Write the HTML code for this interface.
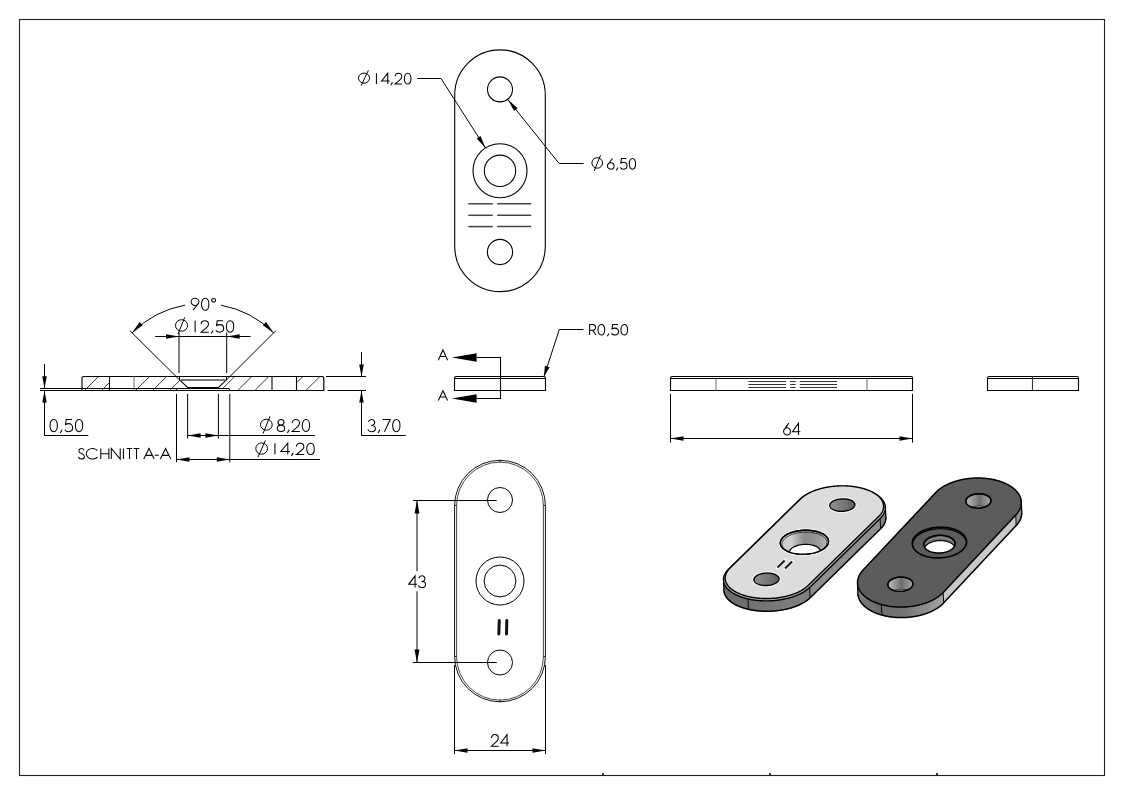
<!DOCTYPE html>
<html><head><meta charset="utf-8"><style>
html,body{margin:0;padding:0;background:#fff;width:1123px;height:794px;overflow:hidden}
svg{display:block;font-family:"Liberation Sans",sans-serif}
text{-webkit-font-smoothing:antialiased}
</style></head><body>
<svg width="1123" height="794" viewBox="0 0 1123 794">
<rect x="0" y="0" width="1123" height="794" fill="#fff"/>
<g style="will-change:transform">
<rect x="19.5" y="19.5" width="1085" height="756" fill="none" stroke="#222" stroke-width="1.1"/>
<rect x="602" y="773" width="2" height="2" fill="#333"/>
<rect x="769" y="773" width="2" height="2" fill="#333"/>
<rect x="936" y="773" width="2" height="2" fill="#333"/>
<path d="M454.7,95.1 A45.3,45.3 0 0 1 545.3,95.1 L545.3,246.4 A45.3,45.3 0 0 1 454.7,246.4 Z" fill="none" stroke="#000" stroke-width="1.1"/>
<circle cx="500" cy="89.4" r="12.5" fill="none" stroke="#000" stroke-width="1.1"/>
<circle cx="500" cy="170.8" r="27" fill="none" stroke="#000" stroke-width="1.1"/>
<circle cx="500" cy="170.8" r="15.7" fill="none" stroke="#000" stroke-width="1.1"/>
<circle cx="500" cy="252" r="12.6" fill="none" stroke="#000" stroke-width="1.1"/>
<line x1="468.3" y1="203.8" x2="492.8" y2="203.8" stroke="#444" stroke-width="1.5" />
<line x1="497.2" y1="203.8" x2="531.2" y2="203.8" stroke="#444" stroke-width="1.5" />
<line x1="468.3" y1="215.3" x2="492.8" y2="215.3" stroke="#444" stroke-width="1.5" />
<line x1="497.2" y1="215.3" x2="531.2" y2="215.3" stroke="#444" stroke-width="1.5" />
<line x1="468.3" y1="226.6" x2="492.8" y2="226.6" stroke="#444" stroke-width="1.5" />
<line x1="497.2" y1="226.6" x2="531.2" y2="226.6" stroke="#444" stroke-width="1.5" />
<polyline points="417,78.5 441,78.5 485.6,148.2" fill="none" stroke="#000" stroke-width="1.0" stroke-linejoin="miter"/>
<polygon points="485.6,148.2 476.72,138.45 480.51,136.03" fill="#000" stroke="none"/>
<polyline points="583.6,163.5 559.1,163.5 507.8,99.5" fill="none" stroke="#000" stroke-width="1.0" stroke-linejoin="miter"/>
<polygon points="507.8,99.5 517.69,108.23 514.18,111.05" fill="#000" stroke="none"/>
<ellipse cx="364" cy="78.12" rx="5.5" ry="5.08" fill="none" stroke="#000" stroke-width="1.0"/>
<line x1="368.4" y1="70.3" x2="361.1" y2="85.7" stroke="#000" stroke-width="1.0" />
<g transform="translate(374.868,73.325) scale(0.9732,0.8875)" fill="none" stroke="#000" stroke-width="1.05" stroke-linecap="butt" stroke-linejoin="miter"><g style="vector-effect:non-scaling-stroke"><path vector-effect="non-scaling-stroke" transform="translate(0,0)" d="M1.6,0 L1.6,12"/><path vector-effect="non-scaling-stroke" transform="translate(6.7,0)" d="M6.5,12 L6.5,0 L0.2,8.7 L8.5,8.7"/><path vector-effect="non-scaling-stroke" transform="translate(16,0)" d="M2.1,10.2 L0.4,13.4"/><path vector-effect="non-scaling-stroke" transform="translate(20.4,0)" d="M0.5,3.7 C0.5,1.5 2.0,0 3.9,0 C5.9,0 7.3,1.5 7.3,3.6 C7.3,4.9 6.7,5.8 5.9,6.8 L0.5,12 L7.6,12"/><path vector-effect="non-scaling-stroke" transform="translate(29.9,0)" d="M3.8,0 C6.0,0 7.2,2.7 7.2,6 C7.2,9.3 6.0,12 3.8,12 C1.6,12 0.4,9.3 0.4,6 C0.4,2.7 1.6,0 3.8,0 Z"/></g></g>
<ellipse cx="597.25" cy="162.95" rx="5.35" ry="5.25" fill="none" stroke="#000" stroke-width="1.0"/>
<line x1="600.5" y1="155.2" x2="594.2" y2="171" stroke="#000" stroke-width="1.0" />
<g transform="translate(607.147,158.525) scale(0.9260,0.8875)" fill="none" stroke="#000" stroke-width="1.05" stroke-linecap="butt" stroke-linejoin="miter"><g style="vector-effect:non-scaling-stroke"><path vector-effect="non-scaling-stroke" transform="translate(0,0)" d="M5.7,0 L1.0,6.6 M0.3,8.4 C0.3,6.4 1.9,4.7 3.9,4.7 C5.9,4.7 7.5,6.4 7.5,8.4 C7.5,10.4 5.9,12 3.9,12 C1.9,12 0.3,10.4 0.3,8.4 Z"/><path vector-effect="non-scaling-stroke" transform="translate(9.5,0)" d="M2.1,10.2 L0.4,13.4"/><path vector-effect="non-scaling-stroke" transform="translate(13.9,0)" d="M7.0,0 L1.5,0 L0.9,5.0 C1.7,4.4 2.7,4.1 3.8,4.1 C6.0,4.1 7.5,5.8 7.5,8.0 C7.5,10.3 5.9,12 3.7,12 C2.2,12 1.0,11.3 0.3,10.1"/><path vector-effect="non-scaling-stroke" transform="translate(23.5,0)" d="M3.8,0 C6.0,0 7.2,2.7 7.2,6 C7.2,9.3 6.0,12 3.8,12 C1.6,12 0.4,9.3 0.4,6 C0.4,2.7 1.6,0 3.8,0 Z"/></g></g>
<g transform="translate(190.800,298.225) scale(1.0819,1.0042)" fill="none" stroke="#000" stroke-width="1.05" stroke-linecap="butt" stroke-linejoin="miter"><g style="vector-effect:non-scaling-stroke"><path vector-effect="non-scaling-stroke" transform="translate(0,0)" d="M6.8,5.4 L2.1,12 M7.5,3.6 C7.5,5.6 5.9,7.3 3.9,7.3 C1.9,7.3 0.3,5.6 0.3,3.6 C0.3,1.6 1.9,0 3.9,0 C5.9,0 7.5,1.6 7.5,3.6 Z"/><path vector-effect="non-scaling-stroke" transform="translate(9.5,0)" d="M3.8,0 C6.0,0 7.2,2.7 7.2,6 C7.2,9.3 6.0,12 3.8,12 C1.6,12 0.4,9.3 0.4,6 C0.4,2.7 1.6,0 3.8,0 Z"/><path vector-effect="non-scaling-stroke" transform="translate(19,0)" d="M2.1,0.2 C3.1,0.2 3.9,1.0 3.9,2.0 C3.9,3.0 3.1,3.8 2.1,3.8 C1.1,3.8 0.3,3.0 0.3,2.0 C0.3,1.0 1.1,0.2 2.1,0.2 Z"/></g></g>
<ellipse cx="181.55" cy="325.45" rx="6.05" ry="5.75" fill="none" stroke="#000" stroke-width="1.0"/>
<line x1="184.7" y1="317.4" x2="178.1" y2="333.9" stroke="#000" stroke-width="1.0" />
<g transform="translate(193.402,320.725) scale(1.0768,0.9542)" fill="none" stroke="#000" stroke-width="1.05" stroke-linecap="butt" stroke-linejoin="miter"><g style="vector-effect:non-scaling-stroke"><path vector-effect="non-scaling-stroke" transform="translate(0,0)" d="M1.6,0 L1.6,12"/><path vector-effect="non-scaling-stroke" transform="translate(6.7,0)" d="M0.5,3.7 C0.5,1.5 2.0,0 3.9,0 C5.9,0 7.3,1.5 7.3,3.6 C7.3,4.9 6.7,5.8 5.9,6.8 L0.5,12 L7.6,12"/><path vector-effect="non-scaling-stroke" transform="translate(16.2,0)" d="M2.1,10.2 L0.4,13.4"/><path vector-effect="non-scaling-stroke" transform="translate(20.6,0)" d="M7.0,0 L1.5,0 L0.9,5.0 C1.7,4.4 2.7,4.1 3.8,4.1 C6.0,4.1 7.5,5.8 7.5,8.0 C7.5,10.3 5.9,12 3.7,12 C2.2,12 1.0,11.3 0.3,10.1"/><path vector-effect="non-scaling-stroke" transform="translate(30.2,0)" d="M3.8,0 C6.0,0 7.2,2.7 7.2,6 C7.2,9.3 6.0,12 3.8,12 C1.6,12 0.4,9.3 0.4,6 C0.4,2.7 1.6,0 3.8,0 Z"/></g></g>
<g transform="translate(49.594,419.425) scale(1.0776,1.0208)" fill="none" stroke="#000" stroke-width="1.05" stroke-linecap="butt" stroke-linejoin="miter"><g style="vector-effect:non-scaling-stroke"><path vector-effect="non-scaling-stroke" transform="translate(0,0)" d="M3.8,0 C6.0,0 7.2,2.7 7.2,6 C7.2,9.3 6.0,12 3.8,12 C1.6,12 0.4,9.3 0.4,6 C0.4,2.7 1.6,0 3.8,0 Z"/><path vector-effect="non-scaling-stroke" transform="translate(9.5,0)" d="M2.1,10.2 L0.4,13.4"/><path vector-effect="non-scaling-stroke" transform="translate(13.9,0)" d="M7.0,0 L1.5,0 L0.9,5.0 C1.7,4.4 2.7,4.1 3.8,4.1 C6.0,4.1 7.5,5.8 7.5,8.0 C7.5,10.3 5.9,12 3.7,12 C2.2,12 1.0,11.3 0.3,10.1"/><path vector-effect="non-scaling-stroke" transform="translate(23.5,0)" d="M3.8,0 C6.0,0 7.2,2.7 7.2,6 C7.2,9.3 6.0,12 3.8,12 C1.6,12 0.4,9.3 0.4,6 C0.4,2.7 1.6,0 3.8,0 Z"/></g></g>
<g transform="translate(367.404,419.425) scale(1.0714,1.0208)" fill="none" stroke="#000" stroke-width="1.05" stroke-linecap="butt" stroke-linejoin="miter"><g style="vector-effect:non-scaling-stroke"><path vector-effect="non-scaling-stroke" transform="translate(0,0)" d="M0.8,2.4 C1.4,0.9 2.5,0 3.9,0 C5.6,0 6.8,1.3 6.8,3.0 C6.8,4.7 5.5,5.8 3.5,5.8 C5.9,5.8 7.5,7.0 7.5,8.8 C7.5,10.7 5.9,12 3.8,12 C2.3,12 1.0,11.3 0.3,9.9"/><path vector-effect="non-scaling-stroke" transform="translate(9.5,0)" d="M2.1,10.2 L0.4,13.4"/><path vector-effect="non-scaling-stroke" transform="translate(13.9,0)" d="M0.2,0 L7.4,0 L2.0,12"/><path vector-effect="non-scaling-stroke" transform="translate(23.2,0)" d="M3.8,0 C6.0,0 7.2,2.7 7.2,6 C7.2,9.3 6.0,12 3.8,12 C1.6,12 0.4,9.3 0.4,6 C0.4,2.7 1.6,0 3.8,0 Z"/></g></g>
<ellipse cx="266.35" cy="424.7" rx="5.85" ry="5.5" fill="none" stroke="#000" stroke-width="1.0"/>
<line x1="270" y1="416.3" x2="263" y2="433.7" stroke="#000" stroke-width="1.0" />
<g transform="translate(276.797,419.525) scale(1.0712,0.9958)" fill="none" stroke="#000" stroke-width="1.05" stroke-linecap="butt" stroke-linejoin="miter"><g style="vector-effect:non-scaling-stroke"><path vector-effect="non-scaling-stroke" transform="translate(0,0)" d="M3.9,5.6 C2.3,5.6 1.1,4.4 1.1,2.8 C1.1,1.2 2.3,0 3.9,0 C5.5,0 6.7,1.2 6.7,2.8 C6.7,4.4 5.5,5.6 3.9,5.6 C1.9,5.6 0.4,7.0 0.4,8.8 C0.4,10.6 1.9,12 3.9,12 C5.9,12 7.4,10.6 7.4,8.8 C7.4,7.0 5.9,5.6 3.9,5.6 Z"/><path vector-effect="non-scaling-stroke" transform="translate(9.5,0)" d="M2.1,10.2 L0.4,13.4"/><path vector-effect="non-scaling-stroke" transform="translate(13.9,0)" d="M0.5,3.7 C0.5,1.5 2.0,0 3.9,0 C5.9,0 7.3,1.5 7.3,3.6 C7.3,4.9 6.7,5.8 5.9,6.8 L0.5,12 L7.6,12"/><path vector-effect="non-scaling-stroke" transform="translate(23.4,0)" d="M3.8,0 C6.0,0 7.2,2.7 7.2,6 C7.2,9.3 6.0,12 3.8,12 C1.6,12 0.4,9.3 0.4,6 C0.4,2.7 1.6,0 3.8,0 Z"/></g></g>
<ellipse cx="261.65" cy="448.55" rx="5.85" ry="5.65" fill="none" stroke="#000" stroke-width="1.0"/>
<line x1="265.4" y1="440.4" x2="258" y2="457.1" stroke="#000" stroke-width="1.0" />
<g transform="translate(273.151,443.225) scale(1.1085,0.9458)" fill="none" stroke="#000" stroke-width="1.05" stroke-linecap="butt" stroke-linejoin="miter"><g style="vector-effect:non-scaling-stroke"><path vector-effect="non-scaling-stroke" transform="translate(0,0)" d="M1.6,0 L1.6,12"/><path vector-effect="non-scaling-stroke" transform="translate(6.7,0)" d="M6.5,12 L6.5,0 L0.2,8.7 L8.5,8.7"/><path vector-effect="non-scaling-stroke" transform="translate(16,0)" d="M2.1,10.2 L0.4,13.4"/><path vector-effect="non-scaling-stroke" transform="translate(20.4,0)" d="M0.5,3.7 C0.5,1.5 2.0,0 3.9,0 C5.9,0 7.3,1.5 7.3,3.6 C7.3,4.9 6.7,5.8 5.9,6.8 L0.5,12 L7.6,12"/><path vector-effect="non-scaling-stroke" transform="translate(29.9,0)" d="M3.8,0 C6.0,0 7.2,2.7 7.2,6 C7.2,9.3 6.0,12 3.8,12 C1.6,12 0.4,9.3 0.4,6 C0.4,2.7 1.6,0 3.8,0 Z"/></g></g>
<g transform="translate(78.325,448.525) scale(0.9610,0.8792)" fill="none" stroke="#000" stroke-width="1.05" stroke-linecap="butt" stroke-linejoin="miter"><g style="vector-effect:non-scaling-stroke"><path vector-effect="non-scaling-stroke" transform="translate(0,0)" d="M6.0,1.9 C5.4,0.7 4.5,0 3.2,0 C1.6,0 0.6,1.1 0.6,2.7 C0.6,4.4 2.0,5.1 3.4,5.7 C5.0,6.4 6.3,7.2 6.3,9.0 C6.3,10.8 4.9,12 3.2,12 C1.7,12 0.5,11.0 0,9.6"/><path vector-effect="non-scaling-stroke" transform="translate(8.3,0)" d="M11.62,2.31 A6.5,6 0 1 0 11.62,9.69"/><path vector-effect="non-scaling-stroke" transform="translate(23.4,0)" d="M0,0 L0,12 M8.4,0 L8.4,12 M0,6 L8.4,6"/><path vector-effect="non-scaling-stroke" transform="translate(34.3,0)" d="M0,12 L0,0 L9.3,12 L9.3,0"/><path vector-effect="non-scaling-stroke" transform="translate(46.9,0)" d="M0,0 L0,12"/><path vector-effect="non-scaling-stroke" transform="translate(50.3,0)" d="M0,0 L5.9,0 M2.95,0 L2.95,12"/><path vector-effect="non-scaling-stroke" transform="translate(57.6,0)" d="M0,0 L5.9,0 M2.95,0 L2.95,12"/><path vector-effect="non-scaling-stroke" transform="translate(64.9,0)" d=""/><path vector-effect="non-scaling-stroke" transform="translate(68.1,0)" d="M0,12 L5.4,0 L10.8,12 M2.0,7.8 L8.8,7.8"/><path vector-effect="non-scaling-stroke" transform="translate(79.4,0)" d="M0,7.6 L4.4,7.6"/><path vector-effect="non-scaling-stroke" transform="translate(85.4,0)" d="M0,12 L5.4,0 L10.8,12 M2.0,7.8 L8.8,7.8"/></g></g>
<g transform="translate(438.325,349.825) scale(0.8565,0.8625)" fill="none" stroke="#000" stroke-width="1.05" stroke-linecap="butt" stroke-linejoin="miter"><g style="vector-effect:non-scaling-stroke"><path vector-effect="non-scaling-stroke" transform="translate(0,0)" d="M0,12 L5.4,0 L10.8,12 M2.0,7.8 L8.8,7.8"/></g></g>
<g transform="translate(438.325,390.825) scale(0.8565,0.8042)" fill="none" stroke="#000" stroke-width="1.05" stroke-linecap="butt" stroke-linejoin="miter"><g style="vector-effect:non-scaling-stroke"><path vector-effect="non-scaling-stroke" transform="translate(0,0)" d="M0,12 L5.4,0 L10.8,12 M2.0,7.8 L8.8,7.8"/></g></g>
<g transform="translate(588.845,324.525) scale(0.9756,0.8792)" fill="none" stroke="#000" stroke-width="1.05" stroke-linecap="butt" stroke-linejoin="miter"><g style="vector-effect:non-scaling-stroke"><path vector-effect="non-scaling-stroke" transform="translate(0,0)" d="M0.8,12 L0.8,0 L3.9,0 C5.7,0 6.9,1.3 6.9,3.2 C6.9,5.1 5.7,6.4 3.9,6.4 L0.8,6.4 M3.9,6.4 L7.3,12"/><path vector-effect="non-scaling-stroke" transform="translate(9,0)" d="M3.8,0 C6.0,0 7.2,2.7 7.2,6 C7.2,9.3 6.0,12 3.8,12 C1.6,12 0.4,9.3 0.4,6 C0.4,2.7 1.6,0 3.8,0 Z"/><path vector-effect="non-scaling-stroke" transform="translate(18.5,0)" d="M2.1,10.2 L0.4,13.4"/><path vector-effect="non-scaling-stroke" transform="translate(22.9,0)" d="M7.0,0 L1.5,0 L0.9,5.0 C1.7,4.4 2.7,4.1 3.8,4.1 C6.0,4.1 7.5,5.8 7.5,8.0 C7.5,10.3 5.9,12 3.7,12 C2.2,12 1.0,11.3 0.3,10.1"/><path vector-effect="non-scaling-stroke" transform="translate(32.5,0)" d="M3.8,0 C6.0,0 7.2,2.7 7.2,6 C7.2,9.3 6.0,12 3.8,12 C1.6,12 0.4,9.3 0.4,6 C0.4,2.7 1.6,0 3.8,0 Z"/></g></g>
<g transform="translate(783.341,423.125) scale(0.9463,0.9875)" fill="none" stroke="#000" stroke-width="1.05" stroke-linecap="butt" stroke-linejoin="miter"><g style="vector-effect:non-scaling-stroke"><path vector-effect="non-scaling-stroke" transform="translate(0,0)" d="M5.7,0 L1.0,6.6 M0.3,8.4 C0.3,6.4 1.9,4.7 3.9,4.7 C5.9,4.7 7.5,6.4 7.5,8.4 C7.5,10.4 5.9,12 3.9,12 C1.9,12 0.3,10.4 0.3,8.4 Z"/><path vector-effect="non-scaling-stroke" transform="translate(9.5,0)" d="M6.5,12 L6.5,0 L0.2,8.7 L8.5,8.7"/></g></g>
<g transform="translate(408.421,575.825) scale(1.0211,0.9792)" fill="none" stroke="#000" stroke-width="1.05" stroke-linecap="butt" stroke-linejoin="miter"><g style="vector-effect:non-scaling-stroke"><path vector-effect="non-scaling-stroke" transform="translate(0,0)" d="M6.5,12 L6.5,0 L0.2,8.7 L8.5,8.7"/><path vector-effect="non-scaling-stroke" transform="translate(9.3,0)" d="M0.8,2.4 C1.4,0.9 2.5,0 3.9,0 C5.6,0 6.8,1.3 6.8,3.0 C6.8,4.7 5.5,5.8 3.5,5.8 C5.9,5.8 7.5,7.0 7.5,8.8 C7.5,10.7 5.9,12 3.8,12 C2.3,12 1.0,11.3 0.3,9.9"/></g></g>
<g transform="translate(490.921,734.525) scale(1.0086,0.9708)" fill="none" stroke="#000" stroke-width="1.05" stroke-linecap="butt" stroke-linejoin="miter"><g style="vector-effect:non-scaling-stroke"><path vector-effect="non-scaling-stroke" transform="translate(0,0)" d="M0.5,3.7 C0.5,1.5 2.0,0 3.9,0 C5.9,0 7.3,1.5 7.3,3.6 C7.3,4.9 6.7,5.8 5.9,6.8 L0.5,12 L7.6,12"/><path vector-effect="non-scaling-stroke" transform="translate(9.5,0)" d="M6.5,12 L6.5,0 L0.2,8.7 L8.5,8.7"/></g></g>
<defs><clipPath id="hc"><polygon points="82,376.5 109.5,376.5 109.5,390.5 82,390.5"/><polygon points="134,376.5 179.5,376.5 179.5,379.8 187.6,387.5 187.6,388.5 176.4,388.5 176.4,390.5 134,390.5"/><polygon points="226.5,376.5 272,376.5 272,390.5 229.3,390.5 229.3,388.5 218.5,388.5 218.5,387.5 226.5,379.8"/><polygon points="296.5,376.5 323.8,376.5 323.8,390.5 296.5,390.5"/></clipPath></defs>
<g clip-path="url(#hc)" stroke="#222" stroke-width="0.9"><line x1="83" y1="392" x2="101" y2="374"/><line x1="100.03" y1="392" x2="118.03" y2="374"/><line x1="117.06" y1="392" x2="135.06" y2="374"/><line x1="134.09" y1="392" x2="152.09" y2="374"/><line x1="151.12" y1="392" x2="169.12" y2="374"/><line x1="168.15" y1="392" x2="186.15" y2="374"/><line x1="185.18" y1="392" x2="203.18" y2="374"/><line x1="202.21" y1="392" x2="220.21" y2="374"/><line x1="219.24" y1="392" x2="237.24" y2="374"/><line x1="236.27" y1="392" x2="254.27" y2="374"/><line x1="253.3" y1="392" x2="271.3" y2="374"/><line x1="270.33" y1="392" x2="288.33" y2="374"/><line x1="287.36" y1="392" x2="305.36" y2="374"/><line x1="304.39" y1="392" x2="322.39" y2="374"/><line x1="321.42" y1="392" x2="339.42" y2="374"/></g>
<path d="M82,390.5 L82,378 Q82,376.5 83.6,376.5 L322.2,376.5 Q323.8,376.5 323.8,378 L323.8,390.5 Z" fill="none" stroke="#000" stroke-width="1.2"/>
<line x1="82" y1="378" x2="82" y2="390.5" stroke="#777" stroke-width="1.2" />
<line x1="109.5" y1="376.5" x2="109.5" y2="390.5" stroke="#000" stroke-width="1.1" />
<line x1="134" y1="376.5" x2="134" y2="390.5" stroke="#777" stroke-width="1.1" />
<line x1="272" y1="376.5" x2="272" y2="390.5" stroke="#000" stroke-width="1.1" />
<line x1="296.5" y1="376.5" x2="296.5" y2="390.5" stroke="#000" stroke-width="1.1" />
<polyline points="179.5,376.5 179.5,379.8 187.6,387.5 218.5,387.5 226.5,379.8 226.5,376.5" fill="none" stroke="#000" stroke-width="1.1" stroke-linejoin="miter"/>
<line x1="180.5" y1="380" x2="225.5" y2="380" stroke="#777" stroke-width="1.8" />
<polyline points="176.4,390.5 176.4,388.5 229.3,388.5 229.3,390.5" fill="none" stroke="#000" stroke-width="1.0" stroke-linejoin="miter"/>
<line x1="40" y1="388.5" x2="176.4" y2="388.5" stroke="#000" stroke-width="1.1" />
<line x1="40" y1="390.5" x2="82" y2="390.5" stroke="#000" stroke-width="1.1" />
<line x1="326" y1="376.5" x2="366" y2="376.5" stroke="#000" stroke-width="1.0" />
<line x1="327.6" y1="390.5" x2="366" y2="390.5" stroke="#000" stroke-width="1.0" />
<line x1="44.5" y1="363.9" x2="44.5" y2="388.3" stroke="#000" stroke-width="1.0" />
<polygon points="44.5,388.3 42.25,376.3 46.75,376.3" fill="#000" stroke="none"/>
<line x1="44.5" y1="390.5" x2="44.5" y2="435.5" stroke="#000" stroke-width="1.0" />
<polygon points="44.5,390.5 46.75,402.5 42.25,402.5" fill="#000" stroke="none"/>
<line x1="44.3" y1="435.5" x2="88.3" y2="435.5" stroke="#000" stroke-width="1.0" />
<line x1="361.5" y1="352" x2="361.5" y2="376.5" stroke="#000" stroke-width="1.0" />
<polygon points="361.5,376.5 359.25,364.5 363.75,364.5" fill="#000" stroke="none"/>
<line x1="361.5" y1="390.5" x2="361.5" y2="435.5" stroke="#000" stroke-width="1.0" />
<polygon points="361.5,390.5 363.75,402.5 359.25,402.5" fill="#000" stroke="none"/>
<line x1="361.3" y1="435.5" x2="405.8" y2="435.5" stroke="#000" stroke-width="1.0" />
<line x1="129.8" y1="330.6" x2="179.5" y2="379.9" stroke="#000" stroke-width="1.0" />
<line x1="275.9" y1="330.6" x2="226.5" y2="379.9" stroke="#000" stroke-width="1.0" />
<path d="M132.07,332.87 A100.1,100.1 0 0 1 184.99,305.16" fill="none" stroke="#000" stroke-width="1"/>
<path d="M221.1,305.23 A100.1,100.1 0 0 1 273.63,332.87" fill="none" stroke="#000" stroke-width="1"/>
<polygon points="132.07,332.87 139.67,322.09 142.85,325.27" fill="#000" stroke="none"/>
<polygon points="273.63,332.87 262.85,325.27 266.03,322.09" fill="#000" stroke="none"/>
<line x1="155.1" y1="336.5" x2="250.5" y2="336.5" stroke="#000" stroke-width="1.0" />
<polygon points="179,336.5 166,338.75 166,334.25" fill="#000" stroke="none"/>
<polygon points="226.7,336.5 239.7,334.25 239.7,338.75" fill="#000" stroke="none"/>
<line x1="179" y1="332.4" x2="179" y2="373" stroke="#000" stroke-width="1.0" />
<line x1="226.7" y1="332.4" x2="226.7" y2="373" stroke="#000" stroke-width="1.0" />
<line x1="187.6" y1="394" x2="187.6" y2="438.5" stroke="#000" stroke-width="1.0" />
<line x1="218.4" y1="394" x2="218.4" y2="438.5" stroke="#000" stroke-width="1.0" />
<line x1="176.5" y1="394" x2="176.5" y2="462.2" stroke="#000" stroke-width="1.0" />
<line x1="229.8" y1="394" x2="229.8" y2="462.2" stroke="#000" stroke-width="1.0" />
<line x1="187.6" y1="435.5" x2="315.1" y2="435.5" stroke="#000" stroke-width="1.0" />
<polygon points="187.6,435.5 200.6,433.25 200.6,437.75" fill="#000" stroke="none"/>
<polygon points="218.4,435.5 205.4,437.75 205.4,433.25" fill="#000" stroke="none"/>
<line x1="176.5" y1="459.5" x2="320" y2="459.5" stroke="#000" stroke-width="1.0" />
<polygon points="176.5,459.5 189.5,457.25 189.5,461.75" fill="#000" stroke="none"/>
<polygon points="229.8,459.5 216.8,461.75 216.8,457.25" fill="#000" stroke="none"/>
<path d="M454.5,390.5 L454.5,377.8 Q454.5,376.5 456,376.5 L544,376.5 Q545.5,376.5 545.5,377.8 L545.5,390.5 Z" fill="none" stroke="#000" stroke-width="1.1"/>
<line x1="454.5" y1="378.5" x2="545.5" y2="378.5" stroke="#000" stroke-width="1.1" />
<polyline points="476.6,357.5 500.5,357.5 500.5,398.5 476.6,398.5" fill="none" stroke="#000" stroke-width="1.1" stroke-linejoin="miter"/>
<polygon points="451.9,357.5 476.6,353.3 476.6,361.7" fill="#000" stroke="none"/>
<polygon points="451.9,398.5 476.6,394.3 476.6,402.7" fill="#000" stroke="none"/>
<polyline points="544,376.5 559.3,329.5 583.5,329.5" fill="none" stroke="#000" stroke-width="1.0" stroke-linejoin="miter"/>
<polygon points="544,376.5 544.87,365.74 549.63,367.29" fill="#000" stroke="none"/>
<path d="M670.5,390.5 L670.5,377.8 Q670.5,376.5 672,376.5 L911,376.5 Q912.5,376.5 912.5,377.8 L912.5,390.5 Z" fill="none" stroke="#000" stroke-width="1.1"/>
<line x1="670.5" y1="378.5" x2="912.5" y2="378.5" stroke="#000" stroke-width="1.1" />
<line x1="716" y1="378.5" x2="716" y2="390.5" stroke="#777" stroke-width="1.1" />
<line x1="867" y1="378.5" x2="867" y2="390.5" stroke="#777" stroke-width="1.1" />
<line x1="748.5" y1="381.5" x2="786" y2="381.5" stroke="#333" stroke-width="1.1" />
<line x1="790.2" y1="381.5" x2="795.6" y2="381.5" stroke="#333" stroke-width="1.1" />
<line x1="799.8" y1="381.5" x2="837" y2="381.5" stroke="#333" stroke-width="1.1" />
<line x1="748.5" y1="384.5" x2="786" y2="384.5" stroke="#333" stroke-width="1.1" />
<line x1="790.2" y1="384.5" x2="795.6" y2="384.5" stroke="#333" stroke-width="1.1" />
<line x1="799.8" y1="384.5" x2="837" y2="384.5" stroke="#333" stroke-width="1.1" />
<line x1="748.5" y1="387.5" x2="786" y2="387.5" stroke="#333" stroke-width="1.1" />
<line x1="790.2" y1="387.5" x2="795.6" y2="387.5" stroke="#333" stroke-width="1.1" />
<line x1="799.8" y1="387.5" x2="837" y2="387.5" stroke="#333" stroke-width="1.1" />
<line x1="670.5" y1="393.8" x2="670.5" y2="442.6" stroke="#000" stroke-width="1.0" />
<line x1="912.5" y1="393.8" x2="912.5" y2="442.6" stroke="#000" stroke-width="1.0" />
<line x1="670.5" y1="438.5" x2="912.5" y2="438.5" stroke="#000" stroke-width="1.0" />
<polygon points="670.5,438.5 683.5,436.25 683.5,440.75" fill="#000" stroke="none"/>
<polygon points="912.5,438.5 899.5,440.75 899.5,436.25" fill="#000" stroke="none"/>
<path d="M987.5,390.5 L987.5,378 Q987.5,376.5 989,376.5 L1077,376.5 Q1078.5,376.5 1078.5,378 L1078.5,390.5 Z" fill="none" stroke="#000" stroke-width="1.1"/>
<line x1="987.5" y1="378.5" x2="1078.5" y2="378.5" stroke="#000" stroke-width="1.1" />
<line x1="1032.5" y1="376.5" x2="1032.5" y2="390.5" stroke="#333" stroke-width="1.1" />
<path d="M454.6,505.7 A45.4,45.4 0 0 1 545.4,505.7 L545.4,656.4 A45.4,45.4 0 0 1 454.6,656.4 Z" fill="none" stroke="#111" stroke-width="1.0"/>
<path d="M456.6,505.5 A43.4,43.4 0 0 1 543.4,505.5 L543.4,656.7 A43.4,43.4 0 0 1 456.6,656.7 Z" fill="none" stroke="#333" stroke-width="0.9"/>
<line x1="500" y1="460" x2="500" y2="462.5" stroke="#222" stroke-width="1.0" />
<line x1="500" y1="699.5" x2="500" y2="702" stroke="#222" stroke-width="1.0" />
<line x1="454.5" y1="505.5" x2="456.8" y2="505.5" stroke="#222" stroke-width="1.0" />
<line x1="543.2" y1="505.5" x2="545.5" y2="505.5" stroke="#222" stroke-width="1.0" />
<line x1="454.5" y1="656.5" x2="456.8" y2="656.5" stroke="#222" stroke-width="1.0" />
<line x1="543.2" y1="656.5" x2="545.5" y2="656.5" stroke="#222" stroke-width="1.0" />
<circle cx="500" cy="500" r="12.5" fill="none" stroke="#000" stroke-width="1.0"/>
<circle cx="500" cy="662.5" r="12.5" fill="none" stroke="#000" stroke-width="1.0"/>
<circle cx="500" cy="581" r="24" fill="none" stroke="#000" stroke-width="1.0"/>
<circle cx="500" cy="581" r="15.9" fill="none" stroke="#000" stroke-width="1.0"/>
<path d="M499.3,620.5 L498.8,634" stroke="#111" stroke-width="3" stroke-linecap="round"/>
<path d="M506.8,620.5 L506.5,634" stroke="#111" stroke-width="3" stroke-linecap="round"/>
<line x1="413" y1="500.5" x2="496.7" y2="500.5" stroke="#000" stroke-width="1.0" />
<line x1="412.8" y1="662.5" x2="496.7" y2="662.5" stroke="#000" stroke-width="1.0" />
<line x1="417" y1="500.5" x2="417" y2="571.2" stroke="#000" stroke-width="1.0" />
<line x1="417" y1="591.3" x2="417" y2="662.5" stroke="#000" stroke-width="1.0" />
<polygon points="417,500.5 419.5,513.5 414.5,513.5" fill="#000" stroke="none"/>
<polygon points="417,662.5 414.5,649.5 419.5,649.5" fill="#000" stroke="none"/>
<line x1="454.5" y1="665" x2="454.5" y2="754" stroke="#000" stroke-width="1.0" />
<line x1="545.5" y1="665" x2="545.5" y2="754" stroke="#000" stroke-width="1.0" />
<line x1="454.5" y1="750.5" x2="545.5" y2="750.5" stroke="#000" stroke-width="1.0" />
<polygon points="454.5,750.5 467.5,748.25 467.5,752.75" fill="#000" stroke="none"/>
<polygon points="545.5,750.5 532.5,752.75 532.5,748.25" fill="#000" stroke="none"/>
<defs>
<linearGradient id="gHoleL" x1="0" x2="1" y1="0" y2="0"><stop offset="0" stop-color="#909090"/><stop offset="0.5" stop-color="#7a7a7a"/><stop offset="1" stop-color="#5e5e5e"/></linearGradient>
<linearGradient id="gHoleD" x1="0" x2="1" y1="0" y2="0"><stop offset="0" stop-color="#c0c0c0"/><stop offset="0.55" stop-color="#6e6e6e"/><stop offset="1" stop-color="#a8a8a8"/></linearGradient>
<linearGradient id="gCone" x1="0" x2="1" y1="0" y2="0"><stop offset="0" stop-color="#c8c8c8"/><stop offset="0.22" stop-color="#d0d0d0"/><stop offset="0.5" stop-color="#8a8a8a"/><stop offset="0.8" stop-color="#9a9a9a"/><stop offset="1" stop-color="#c0c0c0"/></linearGradient>
</defs>
<path d="M885.37,507.21 L885.39,507.6 L885.81,517.99 L885.8,517.6 Z" fill="#848484" stroke="#848484" stroke-width="0.6"/>
<path d="M885.39,507.6 L885.38,507.99 L885.81,518.39 L885.81,517.99 Z" fill="#848484" stroke="#848484" stroke-width="0.6"/>
<path d="M885.38,507.99 L885.37,508.39 L885.8,518.79 L885.81,518.39 Z" fill="#848484" stroke="#848484" stroke-width="0.6"/>
<path d="M885.37,508.39 L885.34,508.79 L885.77,519.18 L885.8,518.79 Z" fill="#848484" stroke="#848484" stroke-width="0.6"/>
<path d="M885.34,508.79 L885.29,509.18 L885.72,519.58 L885.77,519.18 Z" fill="#848484" stroke="#848484" stroke-width="0.6"/>
<path d="M885.29,509.18 L885.24,509.58 L885.67,519.97 L885.72,519.58 Z" fill="#848484" stroke="#848484" stroke-width="0.6"/>
<path d="M885.24,509.58 L885.17,509.97 L885.59,520.37 L885.67,519.97 Z" fill="#848484" stroke="#848484" stroke-width="0.6"/>
<path d="M885.17,509.97 L885.08,510.37 L885.51,520.76 L885.59,520.37 Z" fill="#848484" stroke="#848484" stroke-width="0.6"/>
<path d="M885.08,510.37 L884.98,510.76 L885.41,521.16 L885.51,520.76 Z" fill="#848484" stroke="#848484" stroke-width="0.6"/>
<path d="M884.98,510.76 L884.87,511.16 L885.3,521.55 L885.41,521.16 Z" fill="#848484" stroke="#848484" stroke-width="0.6"/>
<path d="M884.87,511.16 L884.74,511.55 L885.17,521.95 L885.3,521.55 Z" fill="#848484" stroke="#848484" stroke-width="0.6"/>
<path d="M884.74,511.55 L884.6,511.95 L885.03,522.34 L885.17,521.95 Z" fill="#848484" stroke="#848484" stroke-width="0.6"/>
<path d="M884.6,511.95 L884.45,512.34 L884.88,522.73 L885.03,522.34 Z" fill="#848484" stroke="#848484" stroke-width="0.6"/>
<path d="M884.45,512.34 L884.28,512.73 L884.71,523.12 L884.88,522.73 Z" fill="#848484" stroke="#848484" stroke-width="0.6"/>
<path d="M884.28,512.73 L884.1,513.12 L884.53,523.51 L884.71,523.12 Z" fill="#848484" stroke="#848484" stroke-width="0.6"/>
<path d="M884.1,513.12 L883.91,513.51 L884.33,523.9 L884.53,523.51 Z" fill="#848484" stroke="#848484" stroke-width="0.6"/>
<path d="M883.91,513.51 L883.7,513.9 L884.13,524.29 L884.33,523.9 Z" fill="#848484" stroke="#848484" stroke-width="0.6"/>
<path d="M883.7,513.9 L883.48,514.28 L883.91,524.68 L884.13,524.29 Z" fill="#848484" stroke="#848484" stroke-width="0.6"/>
<path d="M883.48,514.28 L883.24,514.67 L883.67,525.06 L883.91,524.68 Z" fill="#848484" stroke="#848484" stroke-width="0.6"/>
<path d="M883.24,514.67 L882.99,515.05 L883.42,525.45 L883.67,525.06 Z" fill="#848484" stroke="#848484" stroke-width="0.6"/>
<path d="M882.99,515.05 L882.73,515.43 L883.16,525.83 L883.42,525.45 Z" fill="#848484" stroke="#848484" stroke-width="0.6"/>
<path d="M882.73,515.43 L882.46,515.81 L882.89,526.21 L883.16,525.83 Z" fill="#848484" stroke="#848484" stroke-width="0.6"/>
<path d="M882.46,515.81 L882.17,516.19 L882.6,526.58 L882.89,526.21 Z" fill="#848484" stroke="#848484" stroke-width="0.6"/>
<path d="M882.17,516.19 L881.87,516.56 L882.3,526.96 L882.6,526.58 Z" fill="#848484" stroke="#848484" stroke-width="0.6"/>
<path d="M881.87,516.56 L881.56,516.94 L881.99,527.33 L882.3,526.96 Z" fill="#848484" stroke="#848484" stroke-width="0.6"/>
<path d="M881.56,516.94 L881.23,517.31 L881.66,527.7 L881.99,527.33 Z" fill="#848484" stroke="#848484" stroke-width="0.6"/>
<path d="M881.23,517.31 L880.9,517.68 L881.32,528.07 L881.66,527.7 Z" fill="#848484" stroke="#848484" stroke-width="0.6"/>
<path d="M880.9,517.68 L880.54,518.04 L880.97,528.44 L881.32,528.07 Z" fill="#848484" stroke="#848484" stroke-width="0.6"/>
<path d="M880.54,518.04 L880.18,518.41 L880.61,528.8 L880.97,528.44 Z" fill="#848484" stroke="#848484" stroke-width="0.6"/>
<path d="M880.18,518.41 L809.25,587.81 L809.67,598.2 L880.61,528.8 Z" fill="#808080" stroke="#808080" stroke-width="0.6"/>
<path d="M809.25,587.81 L808.86,588.16 L809.29,598.56 L809.67,598.2 Z" fill="#808080" stroke="#808080" stroke-width="0.6"/>
<path d="M808.86,588.16 L808.46,588.52 L808.89,598.91 L809.29,598.56 Z" fill="#808080" stroke="#808080" stroke-width="0.6"/>
<path d="M808.46,588.52 L808.05,588.87 L808.47,599.26 L808.89,598.91 Z" fill="#7f7f7f" stroke="#7f7f7f" stroke-width="0.6"/>
<path d="M808.05,588.87 L807.62,589.22 L808.05,599.61 L808.47,599.26 Z" fill="#7f7f7f" stroke="#7f7f7f" stroke-width="0.6"/>
<path d="M807.62,589.22 L807.19,589.56 L807.62,599.95 L808.05,599.61 Z" fill="#7f7f7f" stroke="#7f7f7f" stroke-width="0.6"/>
<path d="M807.19,589.56 L806.74,589.9 L807.17,600.3 L807.62,599.95 Z" fill="#7f7f7f" stroke="#7f7f7f" stroke-width="0.6"/>
<path d="M806.74,589.9 L806.28,590.24 L806.71,600.63 L807.17,600.3 Z" fill="#7f7f7f" stroke="#7f7f7f" stroke-width="0.6"/>
<path d="M806.28,590.24 L805.81,590.57 L806.24,600.97 L806.71,600.63 Z" fill="#7e7e7e" stroke="#7e7e7e" stroke-width="0.6"/>
<path d="M805.81,590.57 L805.33,590.9 L805.76,601.3 L806.24,600.97 Z" fill="#7e7e7e" stroke="#7e7e7e" stroke-width="0.6"/>
<path d="M805.33,590.9 L804.84,591.23 L805.27,601.62 L805.76,601.3 Z" fill="#7e7e7e" stroke="#7e7e7e" stroke-width="0.6"/>
<path d="M804.84,591.23 L804.34,591.55 L804.76,601.94 L805.27,601.62 Z" fill="#7e7e7e" stroke="#7e7e7e" stroke-width="0.6"/>
<path d="M804.34,591.55 L803.82,591.87 L804.25,602.26 L804.76,601.94 Z" fill="#7e7e7e" stroke="#7e7e7e" stroke-width="0.6"/>
<path d="M803.82,591.87 L803.3,592.18 L803.73,602.58 L804.25,602.26 Z" fill="#7d7d7d" stroke="#7d7d7d" stroke-width="0.6"/>
<path d="M803.3,592.18 L802.76,592.49 L803.19,602.89 L803.73,602.58 Z" fill="#7d7d7d" stroke="#7d7d7d" stroke-width="0.6"/>
<path d="M802.76,592.49 L802.22,592.8 L802.65,603.19 L803.19,602.89 Z" fill="#7d7d7d" stroke="#7d7d7d" stroke-width="0.6"/>
<path d="M802.22,592.8 L801.67,593.1 L802.09,603.49 L802.65,603.19 Z" fill="#7d7d7d" stroke="#7d7d7d" stroke-width="0.6"/>
<path d="M801.67,593.1 L801.1,593.39 L801.53,603.79 L802.09,603.49 Z" fill="#7d7d7d" stroke="#7d7d7d" stroke-width="0.6"/>
<path d="M801.1,593.39 L800.53,593.68 L800.95,604.08 L801.53,603.79 Z" fill="#7c7c7c" stroke="#7c7c7c" stroke-width="0.6"/>
<path d="M800.53,593.68 L799.94,593.97 L800.37,604.37 L800.95,604.08 Z" fill="#7c7c7c" stroke="#7c7c7c" stroke-width="0.6"/>
<path d="M799.94,593.97 L799.35,594.25 L799.78,604.65 L800.37,604.37 Z" fill="#7c7c7c" stroke="#7c7c7c" stroke-width="0.6"/>
<path d="M799.35,594.25 L798.75,594.53 L799.18,604.93 L799.78,604.65 Z" fill="#7c7c7c" stroke="#7c7c7c" stroke-width="0.6"/>
<path d="M798.75,594.53 L798.14,594.8 L798.56,605.2 L799.18,604.93 Z" fill="#7c7c7c" stroke="#7c7c7c" stroke-width="0.6"/>
<path d="M798.14,594.8 L797.52,595.07 L797.94,605.47 L798.56,605.2 Z" fill="#7b7b7b" stroke="#7b7b7b" stroke-width="0.6"/>
<path d="M797.52,595.07 L796.89,595.33 L797.31,605.73 L797.94,605.47 Z" fill="#7b7b7b" stroke="#7b7b7b" stroke-width="0.6"/>
<path d="M796.89,595.33 L796.25,595.59 L796.68,605.98 L797.31,605.73 Z" fill="#7b7b7b" stroke="#7b7b7b" stroke-width="0.6"/>
<path d="M796.25,595.59 L795.6,595.84 L796.03,606.24 L796.68,605.98 Z" fill="#7b7b7b" stroke="#7b7b7b" stroke-width="0.6"/>
<path d="M795.6,595.84 L794.95,596.09 L795.38,606.48 L796.03,606.24 Z" fill="#7b7b7b" stroke="#7b7b7b" stroke-width="0.6"/>
<path d="M794.95,596.09 L794.29,596.33 L794.72,606.72 L795.38,606.48 Z" fill="#7a7a7a" stroke="#7a7a7a" stroke-width="0.6"/>
<path d="M794.29,596.33 L793.62,596.56 L794.05,606.96 L794.72,606.72 Z" fill="#7a7a7a" stroke="#7a7a7a" stroke-width="0.6"/>
<path d="M793.62,596.56 L792.94,596.79 L793.37,607.19 L794.05,606.96 Z" fill="#7a7a7a" stroke="#7a7a7a" stroke-width="0.6"/>
<path d="M792.94,596.79 L792.26,597.02 L792.69,607.41 L793.37,607.19 Z" fill="#7a7a7a" stroke="#7a7a7a" stroke-width="0.6"/>
<path d="M792.26,597.02 L791.57,597.23 L792,607.63 L792.69,607.41 Z" fill="#7a7a7a" stroke="#7a7a7a" stroke-width="0.6"/>
<path d="M791.57,597.23 L790.87,597.45 L791.3,607.84 L792,607.63 Z" fill="#797979" stroke="#797979" stroke-width="0.6"/>
<path d="M790.87,597.45 L790.17,597.65 L790.59,608.05 L791.3,607.84 Z" fill="#797979" stroke="#797979" stroke-width="0.6"/>
<path d="M790.17,597.65 L789.46,597.85 L789.88,608.25 L790.59,608.05 Z" fill="#797979" stroke="#797979" stroke-width="0.6"/>
<path d="M789.46,597.85 L788.74,598.05 L789.17,608.44 L789.88,608.25 Z" fill="#797979" stroke="#797979" stroke-width="0.6"/>
<path d="M788.74,598.05 L788.02,598.24 L788.44,608.63 L789.17,608.44 Z" fill="#797979" stroke="#797979" stroke-width="0.6"/>
<path d="M788.02,598.24 L787.29,598.42 L787.72,608.82 L788.44,608.63 Z" fill="#787878" stroke="#787878" stroke-width="0.6"/>
<path d="M787.29,598.42 L786.55,598.6 L786.98,608.99 L787.72,608.82 Z" fill="#787878" stroke="#787878" stroke-width="0.6"/>
<path d="M786.55,598.6 L785.81,598.77 L786.24,609.16 L786.98,608.99 Z" fill="#787878" stroke="#787878" stroke-width="0.6"/>
<path d="M785.81,598.77 L785.07,598.93 L785.5,609.33 L786.24,609.16 Z" fill="#787878" stroke="#787878" stroke-width="0.6"/>
<path d="M785.07,598.93 L784.32,599.09 L784.75,609.48 L785.5,609.33 Z" fill="#787878" stroke="#787878" stroke-width="0.6"/>
<path d="M784.32,599.09 L783.57,599.24 L784,609.63 L784.75,609.48 Z" fill="#777777" stroke="#777777" stroke-width="0.6"/>
<path d="M783.57,599.24 L782.81,599.38 L783.24,609.78 L784,609.63 Z" fill="#777777" stroke="#777777" stroke-width="0.6"/>
<path d="M782.81,599.38 L782.05,599.52 L782.47,609.92 L783.24,609.78 Z" fill="#777777" stroke="#777777" stroke-width="0.6"/>
<path d="M782.05,599.52 L781.28,599.65 L781.71,610.05 L782.47,609.92 Z" fill="#777777" stroke="#777777" stroke-width="0.6"/>
<path d="M781.28,599.65 L780.51,599.78 L780.94,610.17 L781.71,610.05 Z" fill="#777777" stroke="#777777" stroke-width="0.6"/>
<path d="M780.51,599.78 L779.74,599.9 L780.16,610.29 L780.94,610.17 Z" fill="#767676" stroke="#767676" stroke-width="0.6"/>
<path d="M779.74,599.9 L778.96,600.01 L779.39,610.41 L780.16,610.29 Z" fill="#767676" stroke="#767676" stroke-width="0.6"/>
<path d="M778.96,600.01 L778.18,600.12 L778.61,610.51 L779.39,610.41 Z" fill="#767676" stroke="#767676" stroke-width="0.6"/>
<path d="M778.18,600.12 L777.4,600.21 L777.83,610.61 L778.61,610.51 Z" fill="#767676" stroke="#767676" stroke-width="0.6"/>
<path d="M777.4,600.21 L776.61,600.31 L777.04,610.7 L777.83,610.61 Z" fill="#767676" stroke="#767676" stroke-width="0.6"/>
<path d="M776.61,600.31 L775.83,600.39 L776.25,610.79 L777.04,610.7 Z" fill="#757575" stroke="#757575" stroke-width="0.6"/>
<path d="M775.83,600.39 L775.04,600.47 L775.47,610.87 L776.25,610.79 Z" fill="#757575" stroke="#757575" stroke-width="0.6"/>
<path d="M775.04,600.47 L774.25,600.54 L774.67,610.94 L775.47,610.87 Z" fill="#757575" stroke="#757575" stroke-width="0.6"/>
<path d="M774.25,600.54 L773.45,600.61 L773.88,611 L774.67,610.94 Z" fill="#757575" stroke="#757575" stroke-width="0.6"/>
<path d="M773.45,600.61 L772.66,600.67 L773.09,611.06 L773.88,611 Z" fill="#757575" stroke="#757575" stroke-width="0.6"/>
<path d="M772.66,600.67 L771.86,600.72 L772.29,611.11 L773.09,611.06 Z" fill="#747474" stroke="#747474" stroke-width="0.6"/>
<path d="M771.86,600.72 L771.07,600.76 L771.5,611.16 L772.29,611.11 Z" fill="#747474" stroke="#747474" stroke-width="0.6"/>
<path d="M771.07,600.76 L770.27,600.8 L770.7,611.19 L771.5,611.16 Z" fill="#747474" stroke="#747474" stroke-width="0.6"/>
<path d="M770.27,600.8 L769.48,600.83 L769.9,611.23 L770.7,611.19 Z" fill="#747474" stroke="#747474" stroke-width="0.6"/>
<path d="M769.48,600.83 L768.68,600.85 L769.11,611.25 L769.9,611.23 Z" fill="#737373" stroke="#737373" stroke-width="0.6"/>
<path d="M768.68,600.85 L767.88,600.87 L768.31,611.27 L769.11,611.25 Z" fill="#737373" stroke="#737373" stroke-width="0.6"/>
<path d="M767.88,600.87 L767.09,600.88 L767.52,611.28 L768.31,611.27 Z" fill="#737373" stroke="#737373" stroke-width="0.6"/>
<path d="M767.09,600.88 L766.29,600.88 L766.72,611.28 L767.52,611.28 Z" fill="#737373" stroke="#737373" stroke-width="0.6"/>
<path d="M766.29,600.88 L765.5,600.88 L765.93,611.28 L766.72,611.28 Z" fill="#727272" stroke="#727272" stroke-width="0.6"/>
<path d="M765.5,600.88 L764.7,600.87 L765.13,611.27 L765.93,611.28 Z" fill="#727272" stroke="#727272" stroke-width="0.6"/>
<path d="M764.7,600.87 L763.91,600.85 L764.34,611.25 L765.13,611.27 Z" fill="#727272" stroke="#727272" stroke-width="0.6"/>
<path d="M763.91,600.85 L763.12,600.83 L763.55,611.22 L764.34,611.25 Z" fill="#717171" stroke="#717171" stroke-width="0.6"/>
<path d="M763.12,600.83 L762.33,600.8 L762.76,611.19 L763.55,611.22 Z" fill="#717171" stroke="#717171" stroke-width="0.6"/>
<path d="M762.33,600.8 L761.55,600.76 L761.97,611.15 L762.76,611.19 Z" fill="#717171" stroke="#717171" stroke-width="0.6"/>
<path d="M761.55,600.76 L760.76,600.71 L761.19,611.11 L761.97,611.15 Z" fill="#717171" stroke="#717171" stroke-width="0.6"/>
<path d="M760.76,600.71 L759.98,600.66 L760.41,611.06 L761.19,611.11 Z" fill="#707070" stroke="#707070" stroke-width="0.6"/>
<path d="M759.98,600.66 L759.2,600.6 L759.63,611 L760.41,611.06 Z" fill="#707070" stroke="#707070" stroke-width="0.6"/>
<path d="M759.2,600.6 L758.43,600.54 L758.85,610.93 L759.63,611 Z" fill="#707070" stroke="#707070" stroke-width="0.6"/>
<path d="M758.43,600.54 L757.65,600.46 L758.08,610.86 L758.85,610.93 Z" fill="#707070" stroke="#707070" stroke-width="0.6"/>
<path d="M757.65,600.46 L756.88,600.39 L757.31,610.78 L758.08,610.86 Z" fill="#6f6f6f" stroke="#6f6f6f" stroke-width="0.6"/>
<path d="M756.88,600.39 L756.12,600.3 L756.55,610.69 L757.31,610.78 Z" fill="#6f6f6f" stroke="#6f6f6f" stroke-width="0.6"/>
<path d="M756.12,600.3 L755.36,600.21 L755.79,610.6 L756.55,610.69 Z" fill="#6f6f6f" stroke="#6f6f6f" stroke-width="0.6"/>
<path d="M755.36,600.21 L754.6,600.11 L755.03,610.5 L755.79,610.6 Z" fill="#6f6f6f" stroke="#6f6f6f" stroke-width="0.6"/>
<path d="M754.6,600.11 L753.85,600 L754.28,610.4 L755.03,610.5 Z" fill="#6e6e6e" stroke="#6e6e6e" stroke-width="0.6"/>
<path d="M753.85,600 L753.1,599.89 L753.53,610.28 L754.28,610.4 Z" fill="#6e6e6e" stroke="#6e6e6e" stroke-width="0.6"/>
<path d="M753.1,599.89 L752.36,599.77 L752.78,610.16 L753.53,610.28 Z" fill="#6e6e6e" stroke="#6e6e6e" stroke-width="0.6"/>
<path d="M752.36,599.77 L751.62,599.64 L752.05,610.04 L752.78,610.16 Z" fill="#6d6d6d" stroke="#6d6d6d" stroke-width="0.6"/>
<path d="M751.62,599.64 L750.89,599.51 L751.31,609.91 L752.05,610.04 Z" fill="#6d6d6d" stroke="#6d6d6d" stroke-width="0.6"/>
<path d="M750.89,599.51 L750.16,599.37 L750.59,609.77 L751.31,609.91 Z" fill="#6d6d6d" stroke="#6d6d6d" stroke-width="0.6"/>
<path d="M750.16,599.37 L749.44,599.23 L749.87,609.62 L750.59,609.77 Z" fill="#6d6d6d" stroke="#6d6d6d" stroke-width="0.6"/>
<path d="M749.44,599.23 L748.72,599.08 L749.15,609.47 L749.87,609.62 Z" fill="#6c6c6c" stroke="#6c6c6c" stroke-width="0.6"/>
<path d="M748.72,599.08 L748.01,598.92 L748.44,609.31 L749.15,609.47 Z" fill="#6c6c6c" stroke="#6c6c6c" stroke-width="0.6"/>
<path d="M748.01,598.92 L747.31,598.75 L747.74,609.15 L748.44,609.31 Z" fill="#6c6c6c" stroke="#6c6c6c" stroke-width="0.6"/>
<path d="M747.31,598.75 L746.61,598.58 L747.04,608.98 L747.74,609.15 Z" fill="#6c6c6c" stroke="#6c6c6c" stroke-width="0.6"/>
<path d="M746.61,598.58 L745.93,598.41 L746.35,608.8 L747.04,608.98 Z" fill="#6c6c6c" stroke="#6c6c6c" stroke-width="0.6"/>
<path d="M745.93,598.41 L745.24,598.22 L745.67,608.62 L746.35,608.8 Z" fill="#6c6c6c" stroke="#6c6c6c" stroke-width="0.6"/>
<path d="M745.24,598.22 L744.57,598.03 L745,608.43 L745.67,608.62 Z" fill="#6c6c6c" stroke="#6c6c6c" stroke-width="0.6"/>
<path d="M744.57,598.03 L743.9,597.84 L744.33,608.23 L745,608.43 Z" fill="#6c6c6c" stroke="#6c6c6c" stroke-width="0.6"/>
<path d="M743.9,597.84 L743.24,597.64 L743.67,608.03 L744.33,608.23 Z" fill="#6c6c6c" stroke="#6c6c6c" stroke-width="0.6"/>
<path d="M743.24,597.64 L742.59,597.43 L743.02,607.82 L743.67,608.03 Z" fill="#6c6c6c" stroke="#6c6c6c" stroke-width="0.6"/>
<path d="M742.59,597.43 L741.95,597.22 L742.38,607.61 L743.02,607.82 Z" fill="#6d6d6d" stroke="#6d6d6d" stroke-width="0.6"/>
<path d="M741.95,597.22 L741.31,597 L741.74,607.39 L742.38,607.61 Z" fill="#6d6d6d" stroke="#6d6d6d" stroke-width="0.6"/>
<path d="M741.31,597 L740.69,596.77 L741.11,607.17 L741.74,607.39 Z" fill="#6d6d6d" stroke="#6d6d6d" stroke-width="0.6"/>
<path d="M740.69,596.77 L740.07,596.54 L740.5,606.94 L741.11,607.17 Z" fill="#6d6d6d" stroke="#6d6d6d" stroke-width="0.6"/>
<path d="M740.07,596.54 L739.46,596.31 L739.89,606.7 L740.5,606.94 Z" fill="#6d6d6d" stroke="#6d6d6d" stroke-width="0.6"/>
<path d="M739.46,596.31 L738.86,596.07 L739.29,606.46 L739.89,606.7 Z" fill="#6d6d6d" stroke="#6d6d6d" stroke-width="0.6"/>
<path d="M738.86,596.07 L738.27,595.82 L738.7,606.21 L739.29,606.46 Z" fill="#6d6d6d" stroke="#6d6d6d" stroke-width="0.6"/>
<path d="M738.27,595.82 L737.69,595.57 L738.11,605.96 L738.7,606.21 Z" fill="#6d6d6d" stroke="#6d6d6d" stroke-width="0.6"/>
<path d="M737.69,595.57 L737.11,595.31 L737.54,605.71 L738.11,605.96 Z" fill="#6d6d6d" stroke="#6d6d6d" stroke-width="0.6"/>
<path d="M737.11,595.31 L736.55,595.05 L736.98,605.44 L737.54,605.71 Z" fill="#6d6d6d" stroke="#6d6d6d" stroke-width="0.6"/>
<path d="M736.55,595.05 L736,594.78 L736.43,605.18 L736.98,605.44 Z" fill="#6d6d6d" stroke="#6d6d6d" stroke-width="0.6"/>
<path d="M736,594.78 L735.46,594.51 L735.89,604.9 L736.43,605.18 Z" fill="#6d6d6d" stroke="#6d6d6d" stroke-width="0.6"/>
<path d="M735.46,594.51 L734.93,594.23 L735.36,604.62 L735.89,604.9 Z" fill="#6d6d6d" stroke="#6d6d6d" stroke-width="0.6"/>
<path d="M734.93,594.23 L734.41,593.95 L734.83,604.34 L735.36,604.62 Z" fill="#6d6d6d" stroke="#6d6d6d" stroke-width="0.6"/>
<path d="M734.41,593.95 L733.89,593.66 L734.32,604.06 L734.83,604.34 Z" fill="#6d6d6d" stroke="#6d6d6d" stroke-width="0.6"/>
<path d="M733.89,593.66 L733.39,593.37 L733.82,603.76 L734.32,604.06 Z" fill="#6d6d6d" stroke="#6d6d6d" stroke-width="0.6"/>
<path d="M733.39,593.37 L732.91,593.07 L733.33,603.47 L733.82,603.76 Z" fill="#6e6e6e" stroke="#6e6e6e" stroke-width="0.6"/>
<path d="M732.91,593.07 L732.43,592.77 L732.86,603.17 L733.33,603.47 Z" fill="#6e6e6e" stroke="#6e6e6e" stroke-width="0.6"/>
<path d="M732.43,592.77 L731.96,592.46 L732.39,602.86 L732.86,603.17 Z" fill="#6e6e6e" stroke="#6e6e6e" stroke-width="0.6"/>
<path d="M731.96,592.46 L731.51,592.15 L731.93,602.55 L732.39,602.86 Z" fill="#6e6e6e" stroke="#6e6e6e" stroke-width="0.6"/>
<path d="M731.51,592.15 L731.06,591.84 L731.49,602.24 L731.93,602.55 Z" fill="#6e6e6e" stroke="#6e6e6e" stroke-width="0.6"/>
<path d="M731.06,591.84 L730.63,591.52 L731.06,601.92 L731.49,602.24 Z" fill="#6e6e6e" stroke="#6e6e6e" stroke-width="0.6"/>
<path d="M730.63,591.52 L730.21,591.2 L730.64,601.59 L731.06,601.92 Z" fill="#6e6e6e" stroke="#6e6e6e" stroke-width="0.6"/>
<path d="M730.21,591.2 L729.8,590.87 L730.23,601.27 L730.64,601.59 Z" fill="#6e6e6e" stroke="#6e6e6e" stroke-width="0.6"/>
<path d="M729.8,590.87 L729.4,590.54 L729.83,600.94 L730.23,601.27 Z" fill="#6e6e6e" stroke="#6e6e6e" stroke-width="0.6"/>
<path d="M729.4,590.54 L729.02,590.21 L729.45,600.6 L729.83,600.94 Z" fill="#6e6e6e" stroke="#6e6e6e" stroke-width="0.6"/>
<path d="M729.02,590.21 L728.65,589.87 L729.07,600.27 L729.45,600.6 Z" fill="#6e6e6e" stroke="#6e6e6e" stroke-width="0.6"/>
<path d="M728.65,589.87 L728.29,589.53 L728.71,599.93 L729.07,600.27 Z" fill="#6e6e6e" stroke="#6e6e6e" stroke-width="0.6"/>
<path d="M728.29,589.53 L727.94,589.19 L728.37,599.58 L728.71,599.93 Z" fill="#6e6e6e" stroke="#6e6e6e" stroke-width="0.6"/>
<path d="M727.94,589.19 L727.6,588.84 L728.03,599.23 L728.37,599.58 Z" fill="#6e6e6e" stroke="#6e6e6e" stroke-width="0.6"/>
<path d="M727.6,588.84 L727.28,588.49 L727.71,598.88 L728.03,599.23 Z" fill="#6e6e6e" stroke="#6e6e6e" stroke-width="0.6"/>
<path d="M727.28,588.49 L726.97,588.13 L727.4,598.53 L727.71,598.88 Z" fill="#6e6e6e" stroke="#6e6e6e" stroke-width="0.6"/>
<path d="M726.97,588.13 L726.67,587.77 L727.1,598.17 L727.4,598.53 Z" fill="#6e6e6e" stroke="#6e6e6e" stroke-width="0.6"/>
<path d="M726.67,587.77 L726.39,587.41 L726.82,597.81 L727.1,598.17 Z" fill="#6f6f6f" stroke="#6f6f6f" stroke-width="0.6"/>
<path d="M726.39,587.41 L726.12,587.05 L726.55,597.45 L726.82,597.81 Z" fill="#6f6f6f" stroke="#6f6f6f" stroke-width="0.6"/>
<path d="M726.12,587.05 L725.86,586.69 L726.29,597.08 L726.55,597.45 Z" fill="#6f6f6f" stroke="#6f6f6f" stroke-width="0.6"/>
<path d="M725.86,586.69 L725.62,586.32 L726.05,596.71 L726.29,597.08 Z" fill="#6f6f6f" stroke="#6f6f6f" stroke-width="0.6"/>
<path d="M725.62,586.32 L725.39,585.95 L725.81,596.34 L726.05,596.71 Z" fill="#6f6f6f" stroke="#6f6f6f" stroke-width="0.6"/>
<path d="M725.39,585.95 L725.17,585.57 L725.6,595.97 L725.81,596.34 Z" fill="#6f6f6f" stroke="#6f6f6f" stroke-width="0.6"/>
<path d="M725.17,585.57 L724.96,585.2 L725.39,595.59 L725.6,595.97 Z" fill="#6f6f6f" stroke="#6f6f6f" stroke-width="0.6"/>
<path d="M724.96,585.2 L724.77,584.82 L725.2,595.21 L725.39,595.59 Z" fill="#6f6f6f" stroke="#6f6f6f" stroke-width="0.6"/>
<path d="M724.77,584.82 L724.6,584.44 L725.02,594.84 L725.2,595.21 Z" fill="#6f6f6f" stroke="#6f6f6f" stroke-width="0.6"/>
<path d="M724.6,584.44 L724.43,584.06 L724.86,594.45 L725.02,594.84 Z" fill="#6f6f6f" stroke="#6f6f6f" stroke-width="0.6"/>
<path d="M724.43,584.06 L724.28,583.68 L724.71,594.07 L724.86,594.45 Z" fill="#6f6f6f" stroke="#6f6f6f" stroke-width="0.6"/>
<path d="M724.28,583.68 L724.15,583.29 L724.57,593.69 L724.71,594.07 Z" fill="#6f6f6f" stroke="#6f6f6f" stroke-width="0.6"/>
<path d="M724.15,583.29 L724.02,582.9 L724.45,593.3 L724.57,593.69 Z" fill="#6f6f6f" stroke="#6f6f6f" stroke-width="0.6"/>
<path d="M724.02,582.9 L723.91,582.52 L724.34,592.91 L724.45,593.3 Z" fill="#6f6f6f" stroke="#6f6f6f" stroke-width="0.6"/>
<path d="M723.91,582.52 L723.82,582.13 L724.25,592.52 L724.34,592.91 Z" fill="#6f6f6f" stroke="#6f6f6f" stroke-width="0.6"/>
<path d="M723.82,582.13 L723.74,581.74 L724.16,592.13 L724.25,592.52 Z" fill="#6f6f6f" stroke="#6f6f6f" stroke-width="0.6"/>
<path d="M723.74,581.74 L723.67,581.34 L724.1,591.74 L724.16,592.13 Z" fill="#707070" stroke="#707070" stroke-width="0.6"/>
<path d="M723.67,581.34 L723.62,580.95 L724.04,591.35 L724.1,591.74 Z" fill="#707070" stroke="#707070" stroke-width="0.6"/>
<path d="M723.62,580.95 L723.58,580.56 L724,590.95 L724.04,591.35 Z" fill="#707070" stroke="#707070" stroke-width="0.6"/>
<path d="M723.58,580.56 L723.55,580.16 L723.98,590.56 L724,590.95 Z" fill="#707070" stroke="#707070" stroke-width="0.6"/>
<path d="M880.18,518.41 L809.62,587.45 L810.05,597.84 L880.61,528.8 Z" fill="#8e8e8e" stroke="#8e8e8e" stroke-width="0.6"/>
<path d="M885.81,517.7 L885.81,517.8 L885.81,517.9 L885.81,517.99 L885.81,518.09 L885.81,518.19 L885.81,518.29 L885.81,518.39 L885.81,518.49 L885.81,518.59 L885.8,518.69 L885.8,518.79 L885.79,518.88 L885.78,518.98 L885.78,519.08 L885.77,519.18 L885.76,519.28 L885.75,519.38 L885.74,519.48 L885.72,519.58 L885.71,519.68 L885.7,519.77 L885.68,519.87 L885.67,519.97 L885.65,520.07 L885.63,520.17 L885.61,520.27 L885.59,520.37 L885.57,520.47 L885.55,520.57 L885.53,520.66 L885.51,520.76 L885.49,520.86 L885.46,520.96 L885.44,521.06 L885.41,521.16 L885.38,521.26 L885.36,521.36 L885.33,521.45 L885.3,521.55 L885.27,521.65 L885.24,521.75 L885.2,521.85 L885.17,521.95 L885.14,522.05 L885.1,522.14 L885.07,522.24 L885.03,522.34 L884.99,522.44 L884.96,522.54 L884.92,522.64 L884.88,522.73 L884.84,522.83 L884.8,522.93 L884.75,523.03 L884.71,523.12 L884.67,523.22 L884.62,523.32 L884.58,523.42 L884.53,523.51 L884.48,523.61 L884.43,523.71 L884.38,523.81 L884.33,523.9 L884.28,524 L884.23,524.1 L884.18,524.19 L884.13,524.29 L884.07,524.39 L884.02,524.49 L883.96,524.58 L883.91,524.68 L883.85,524.77 L883.79,524.87 L883.73,524.97 L883.67,525.06 L883.61,525.16 L883.55,525.25 L883.49,525.35 L883.42,525.45 L883.36,525.54 L883.29,525.64 L883.23,525.73 L883.16,525.83 L883.09,525.92 L883.03,526.02 L882.96,526.11 L882.89,526.21 L882.82,526.3 L882.75,526.4 L882.67,526.49 L882.6,526.58 L882.53,526.68 L882.45,526.77 L882.38,526.87 L882.3,526.96 L882.22,527.05 L882.15,527.15 L882.07,527.24 L881.99,527.33 L881.91,527.43 L881.83,527.52 L881.74,527.61 L881.66,527.7 L881.58,527.8 L881.49,527.89 L881.41,527.98 L881.32,528.07 L881.24,528.16 L881.15,528.25 L881.06,528.35 L880.97,528.44 L880.88,528.53 L880.79,528.62 L880.7,528.71 L880.61,528.8 L809.96,597.93 L809.86,598.02 L809.77,598.11 L809.67,598.2 L809.58,598.29 L809.48,598.38 L809.38,598.47 L809.29,598.56 L809.19,598.65 L809.09,598.73 L808.99,598.82 L808.89,598.91 L808.78,599 L808.68,599.09 L808.58,599.17 L808.47,599.26 L808.37,599.35 L808.26,599.44 L808.16,599.52 L808.05,599.61 L807.94,599.7 L807.83,599.78 L807.73,599.87 L807.62,599.95 L807.5,600.04 L807.39,600.13 L807.28,600.21 L807.17,600.3 L807.05,600.38 L806.94,600.46 L806.83,600.55 L806.71,600.63 L806.59,600.72 L806.48,600.8 L806.36,600.88 L806.24,600.97 L806.12,601.05 L806,601.13 L805.88,601.21 L805.76,601.3 L805.64,601.38 L805.51,601.46 L805.39,601.54 L805.27,601.62 L805.14,601.7 L805.02,601.78 L804.89,601.86 L804.76,601.94 L804.64,602.02 L804.51,602.1 L804.38,602.18 L804.25,602.26 L804.12,602.34 L803.99,602.42 L803.86,602.5 L803.73,602.58 L803.59,602.65 L803.46,602.73 L803.33,602.81 L803.19,602.89 L803.06,602.96 L802.92,603.04 L802.79,603.12 L802.65,603.19 L802.51,603.27 L802.37,603.34 L802.23,603.42 L802.09,603.49 L801.95,603.57 L801.81,603.64 L801.67,603.71 L801.53,603.79 L801.39,603.86 L801.24,603.93 L801.1,604.01 L800.95,604.08 L800.81,604.15 L800.66,604.22 L800.52,604.3 L800.37,604.37 L800.22,604.44 L800.08,604.51 L799.93,604.58 L799.78,604.65 L799.63,604.72 L799.48,604.79 L799.33,604.86 L799.18,604.93 L799.02,604.99 L798.87,605.06 L798.72,605.13 L798.56,605.2 L798.41,605.27 L798.25,605.33 L798.1,605.4 L797.94,605.47 L797.79,605.53 L797.63,605.6 L797.47,605.66 L797.31,605.73 L797.16,605.79 L797,605.86 L796.84,605.92 L796.68,605.98 L796.52,606.05 L796.36,606.11 L796.19,606.17 L796.03,606.24 L795.87,606.3 L795.71,606.36 L795.54,606.42 L795.38,606.48 L795.21,606.54 L795.05,606.6 L794.88,606.66 L794.72,606.72 L794.55,606.78 L794.38,606.84 L794.22,606.9 L794.05,606.96 L793.88,607.02 L793.71,607.07 L793.54,607.13 L793.37,607.19 L793.2,607.24 L793.03,607.3 L792.86,607.36 L792.69,607.41 L792.52,607.47 L792.34,607.52 L792.17,607.58 L792,607.63 L791.82,607.68 L791.65,607.74 L791.47,607.79 L791.3,607.84 L791.12,607.89 L790.95,607.95 L790.77,608 L790.59,608.05 L790.42,608.1 L790.24,608.15 L790.06,608.2 L789.88,608.25 L789.71,608.3 L789.53,608.35 L789.35,608.4 L789.17,608.44 L788.99,608.49 L788.81,608.54 L788.63,608.59 L788.44,608.63 L788.26,608.68 L788.08,608.72 L787.9,608.77 L787.72,608.82 L787.53,608.86 L787.35,608.9 L787.17,608.95 L786.98,608.99 L786.8,609.03 L786.61,609.08 L786.43,609.12 L786.24,609.16 L786.06,609.2 L785.87,609.24 L785.68,609.29 L785.5,609.33 L785.31,609.37 L785.12,609.41 L784.94,609.44 L784.75,609.48 L784.56,609.52 L784.37,609.56 L784.18,609.6 L784,609.63 L783.81,609.67 L783.62,609.71 L783.43,609.74 L783.24,609.78 L783.05,609.81 L782.86,609.85 L782.67,609.88 L782.47,609.92 L782.28,609.95 L782.09,609.98 L781.9,610.02 L781.71,610.05 L781.52,610.08 L781.32,610.11 L781.13,610.14 L780.94,610.17 L780.75,610.21 L780.55,610.23 L780.36,610.26 L780.16,610.29 L779.97,610.32 L779.78,610.35 L779.58,610.38 L779.39,610.41 L779.19,610.43 L779,610.46 L778.8,610.49 L778.61,610.51 L778.41,610.54 L778.22,610.56 L778.02,610.59 L777.83,610.61 L777.63,610.63 L777.43,610.66 L777.24,610.68 L777.04,610.7 L776.84,610.72 L776.65,610.75 L776.45,610.77 L776.25,610.79 L776.06,610.81 L775.86,610.83 L775.66,610.85 L775.47,610.87 L775.27,610.88 L775.07,610.9 L774.87,610.92 L774.67,610.94 L774.48,610.95 L774.28,610.97 L774.08,610.99 L773.88,611 L773.68,611.02 L773.49,611.03 L773.29,611.05 L773.09,611.06 L772.89,611.07 L772.69,611.09 L772.49,611.1 L772.29,611.11 L772.09,611.12 L771.9,611.14 L771.7,611.15 L771.5,611.16 L771.3,611.17 L771.1,611.18 L770.9,611.19 L770.7,611.19 L770.5,611.2 L770.3,611.21 L770.1,611.22 L769.9,611.23 L769.71,611.23 L769.51,611.24 L769.31,611.24 L769.11,611.25 L768.91,611.25 L768.71,611.26 L768.51,611.26 L768.31,611.27 L768.11,611.27 L767.91,611.27 L767.71,611.27 L767.52,611.28 L767.32,611.28 L767.12,611.28 L766.92,611.28 L766.72,611.28 L766.52,611.28 L766.32,611.28 L766.12,611.28 L765.93,611.28 L765.73,611.27 L765.53,611.27 L765.33,611.27 L765.13,611.27 L764.93,611.26 L764.74,611.26 L764.54,611.25 L764.34,611.25 L764.14,611.24 L763.94,611.24 L763.75,611.23 L763.55,611.22 L763.35,611.22 L763.15,611.21 L762.96,611.2 L762.76,611.19 L762.56,611.18 L762.37,611.17 L762.17,611.16 L761.97,611.15 L761.78,611.14 L761.58,611.13 L761.39,611.12 L761.19,611.11 L760.99,611.1 L760.8,611.08 L760.6,611.07 L760.41,611.06 L760.21,611.04 L760.02,611.03 L759.82,611.01 L759.63,611 L759.44,610.98 L759.24,610.97 L759.05,610.95 L758.85,610.93 L758.66,610.91 L758.47,610.9 L758.27,610.88 L758.08,610.86 L757.89,610.84 L757.7,610.82 L757.5,610.8 L757.31,610.78 L757.12,610.76 L756.93,610.74 L756.74,610.72 L756.55,610.69 L756.36,610.67 L756.17,610.65 L755.98,610.63 L755.79,610.6 L755.6,610.58 L755.41,610.55 L755.22,610.53 L755.03,610.5 L754.84,610.48 L754.65,610.45 L754.46,610.42 L754.28,610.4 L754.09,610.37 L753.9,610.34 L753.71,610.31 L753.53,610.28 L753.34,610.25 L753.16,610.22 L752.97,610.19 L752.78,610.16 L752.6,610.13 L752.42,610.1 L752.23,610.07 L752.05,610.04 L751.86,610.01 L751.68,609.97 L751.5,609.94 L751.31,609.91 L751.13,609.87 L750.95,609.84 L750.77,609.8 L750.59,609.77 L750.41,609.73 L750.23,609.7 L750.05,609.66 L749.87,609.62 L749.69,609.58 L749.51,609.55 L749.33,609.51 L749.15,609.47 L748.97,609.43 L748.8,609.39 L748.62,609.35 L748.44,609.31 L748.27,609.27 L748.09,609.23 L747.91,609.19 L747.74,609.15 L747.56,609.11 L747.39,609.06 L747.22,609.02 L747.04,608.98 L746.87,608.93 L746.7,608.89 L746.53,608.84 L746.35,608.8 L746.18,608.75 L746.01,608.71 L745.84,608.66 L745.67,608.62 L745.5,608.57 L745.33,608.52 L745.17,608.48 L745,608.43 L744.83,608.38 L744.66,608.33 L744.5,608.28 L744.33,608.23 L744.16,608.18 L744,608.13 L743.84,608.08 L743.67,608.03 L743.51,607.98 L743.34,607.93 L743.18,607.88 L743.02,607.82 L742.86,607.77 L742.7,607.72 L742.54,607.67 L742.38,607.61 L742.22,607.56 L742.06,607.5 L741.9,607.45 L741.74,607.39 L741.58,607.34 L741.43,607.28 L741.27,607.23 L741.11,607.17 L740.96,607.11 L740.8,607.05 L740.65,607 L740.5,606.94 L740.34,606.88 L740.19,606.82 L740.04,606.76 L739.89,606.7 L739.74,606.64 L739.59,606.58 L739.44,606.52 L739.29,606.46 L739.14,606.4 L738.99,606.34 L738.84,606.28 L738.7,606.21 L738.55,606.15 L738.4,606.09 L738.26,606.03 L738.11,605.96 L737.97,605.9 L737.83,605.83 L737.69,605.77 L737.54,605.71 L737.4,605.64 L737.26,605.57 L737.12,605.51 L736.98,605.44 L736.84,605.38 L736.7,605.31 L736.57,605.24 L736.43,605.18 L736.29,605.11 L736.16,605.04 L736.02,604.97 L735.89,604.9 L735.75,604.83 L735.62,604.76 L735.49,604.69 L735.36,604.62 L735.22,604.55 L735.09,604.48 L734.96,604.41 L734.83,604.34 L734.71,604.27 L734.58,604.2 L734.45,604.13 L734.32,604.06 L734.2,603.98 L734.07,603.91 L733.95,603.84 L733.82,603.76 L733.7,603.69 L733.58,603.62 L733.46,603.54 L733.33,603.47 L733.21,603.39 L733.09,603.32 L732.97,603.24 L732.86,603.17 L732.74,603.09 L732.62,603.01 L732.51,602.94 L732.39,602.86 L732.27,602.78 L732.16,602.71 L732.05,602.63 L731.93,602.55 L731.82,602.47 L731.71,602.39 L731.6,602.31 L731.49,602.24 L731.38,602.16 L731.27,602.08 L731.16,602 L731.06,601.92 L730.95,601.84 L730.85,601.76 L730.74,601.68 L730.64,601.59 L730.53,601.51 L730.43,601.43 L730.33,601.35 L730.23,601.27 L730.13,601.19 L730.03,601.1 L729.93,601.02 L729.83,600.94 L729.73,600.85 L729.64,600.77 L729.54,600.69 L729.45,600.6 L729.35,600.52 L729.26,600.44 L729.17,600.35 L729.07,600.27 L728.98,600.18 L728.89,600.1 L728.8,600.01 L728.71,599.93 L728.63,599.84 L728.54,599.75 L728.45,599.67 L728.37,599.58 L728.28,599.49 L728.2,599.41 L728.11,599.32 L728.03,599.23 L727.95,599.15 L727.87,599.06 L727.79,598.97 L727.71,598.88 L727.63,598.79 L727.55,598.7 L727.48,598.62 L727.4,598.53 L727.32,598.44 L727.25,598.35 L727.18,598.26 L727.1,598.17 L727.03,598.08 L726.96,597.99 L726.89,597.9 L726.82,597.81 L726.75,597.72 L726.68,597.63 L726.61,597.54 L726.55,597.45 L726.48,597.35 L726.42,597.26 L726.35,597.17 L726.29,597.08 L726.23,596.99 L726.17,596.9 L726.11,596.8 L726.05,596.71 L725.99,596.62 L725.93,596.53 L725.87,596.43 L725.81,596.34 L725.76,596.25 L725.7,596.15 L725.65,596.06 L725.6,595.97 L725.54,595.87 L725.49,595.78 L725.44,595.69 L725.39,595.59 L725.34,595.5 L725.3,595.4 L725.25,595.31 L725.2,595.21 L725.16,595.12 L725.11,595.03 L725.07,594.93 L725.02,594.84 L724.98,594.74 L724.94,594.64 L724.9,594.55 L724.86,594.45 L724.82,594.36 L724.78,594.26 L724.75,594.17 L724.71,594.07 L724.67,593.97 L724.64,593.88 L724.61,593.78 L724.57,593.69 L724.54,593.59 L724.51,593.49 L724.48,593.4 L724.45,593.3 L724.42,593.2 L724.39,593.11 L724.37,593.01 L724.34,592.91 L724.32,592.81 L724.29,592.72 L724.27,592.62 L724.25,592.52 L724.22,592.42 L724.2,592.33 L724.18,592.23 L724.16,592.13 L724.15,592.03 L724.13,591.94 L724.11,591.84 L724.1,591.74 L724.08,591.64 L724.07,591.54 L724.06,591.45 L724.04,591.35 L724.03,591.25 L724.02,591.15 L724.01,591.05 L724,590.95 L724,590.86 L723.99,590.76 L723.98,590.66 L723.98,590.56" fill="none" stroke="#000" stroke-width="1.5" stroke-linejoin="round"/>
<line x1="885.32" y1="505.8" x2="885.81" y2="517.68" stroke="#000" stroke-width="1.2"/>
<line x1="723.48" y1="578.6" x2="723.97" y2="590.48" stroke="#000" stroke-width="1.2"/>
<line x1="880.18" y1="518.41" x2="880.61" y2="528.8" stroke="#111" stroke-width="1.1"/>
<line x1="809.62" y1="587.45" x2="810.05" y2="597.84" stroke="#111" stroke-width="1.1"/>
<line x1="748.01" y1="598.92" x2="748.44" y2="609.31" stroke="#111" stroke-width="1.1"/>
<path d="M799.3,499.93 L799.49,499.74 L799.68,499.56 L799.87,499.39 L800.06,499.21 L800.26,499.03 L800.46,498.85 L800.67,498.68 L800.88,498.5 L801.09,498.33 L801.3,498.15 L801.52,497.98 L801.74,497.81 L801.96,497.64 L802.18,497.47 L802.41,497.3 L802.64,497.13 L802.87,496.97 L803.11,496.8 L803.35,496.63 L803.59,496.47 L803.84,496.31 L804.08,496.14 L804.33,495.98 L804.59,495.82 L804.84,495.66 L805.1,495.5 L805.36,495.35 L805.62,495.19 L805.89,495.03 L806.16,494.88 L806.43,494.73 L806.7,494.57 L806.98,494.42 L807.26,494.27 L807.54,494.12 L807.82,493.98 L808.11,493.83 L808.4,493.69 L808.69,493.54 L808.98,493.4 L809.28,493.26 L809.57,493.12 L809.87,492.98 L810.18,492.84 L810.48,492.7 L810.79,492.57 L811.1,492.43 L811.41,492.3 L811.72,492.17 L812.04,492.04 L812.35,491.91 L812.67,491.78 L813,491.65 L813.32,491.53 L813.64,491.41 L813.97,491.28 L814.3,491.16 L814.63,491.04 L814.97,490.92 L815.3,490.81 L815.64,490.69 L815.98,490.58 L816.32,490.46 L816.66,490.35 L817.01,490.24 L817.35,490.14 L817.7,490.03 L818.05,489.92 L818.4,489.82 L818.76,489.72 L819.11,489.62 L819.47,489.52 L819.82,489.42 L820.18,489.32 L820.54,489.23 L820.91,489.13 L821.27,489.04 L821.63,488.95 L822,488.86 L822.37,488.77 L822.74,488.69 L823.11,488.6 L823.48,488.52 L823.85,488.44 L824.23,488.36 L824.6,488.28 L824.98,488.21 L825.36,488.13 L825.73,488.06 L826.11,487.99 L826.49,487.92 L826.88,487.85 L827.26,487.78 L827.64,487.72 L828.03,487.65 L828.41,487.59 L828.8,487.53 L829.19,487.47 L829.57,487.41 L829.96,487.36 L830.35,487.31 L830.74,487.25 L831.13,487.2 L831.52,487.16 L831.92,487.11 L832.31,487.06 L832.7,487.02 L833.1,486.98 L833.49,486.94 L833.89,486.9 L834.28,486.86 L834.68,486.83 L835.07,486.79 L835.47,486.76 L835.87,486.73 L836.26,486.7 L836.66,486.68 L837.06,486.65 L837.46,486.63 L837.85,486.61 L838.25,486.59 L838.65,486.57 L839.05,486.55 L839.45,486.54 L839.84,486.53 L840.24,486.52 L840.64,486.51 L841.04,486.5 L841.44,486.49 L841.84,486.49 L842.23,486.49 L842.63,486.49 L843.03,486.49 L843.43,486.49 L843.82,486.49 L844.22,486.5 L844.61,486.51 L845.01,486.52 L845.41,486.53 L845.8,486.54 L846.2,486.56 L846.59,486.57 L846.98,486.59 L847.38,486.61 L847.77,486.63 L848.16,486.66 L848.55,486.68 L848.94,486.71 L849.33,486.74 L849.72,486.77 L850.11,486.8 L850.5,486.83 L850.88,486.87 L851.27,486.91 L851.65,486.94 L852.04,486.98 L852.42,487.03 L852.8,487.07 L853.19,487.12 L853.57,487.16 L853.94,487.21 L854.32,487.26 L854.7,487.31 L855.08,487.37 L855.45,487.42 L855.82,487.48 L856.2,487.54 L856.57,487.6 L856.94,487.66 L857.3,487.73 L857.67,487.79 L858.04,487.86 L858.4,487.93 L858.76,488 L859.13,488.07 L859.48,488.14 L859.84,488.22 L860.2,488.29 L860.56,488.37 L860.91,488.45 L861.26,488.53 L861.61,488.62 L861.96,488.7 L862.31,488.79 L862.65,488.88 L863,488.96 L863.34,489.06 L863.68,489.15 L864.02,489.24 L864.35,489.34 L864.69,489.43 L865.02,489.53 L865.35,489.63 L865.68,489.73 L866.01,489.84 L866.33,489.94 L866.65,490.05 L866.97,490.15 L867.29,490.26 L867.61,490.37 L867.92,490.48 L868.24,490.6 L868.55,490.71 L868.85,490.83 L869.16,490.94 L869.46,491.06 L869.76,491.18 L870.06,491.3 L870.36,491.43 L870.65,491.55 L870.95,491.68 L871.24,491.8 L871.52,491.93 L871.81,492.06 L872.09,492.19 L872.37,492.32 L872.65,492.46 L872.92,492.59 L873.19,492.73 L873.46,492.86 L873.73,493 L874,493.14 L874.26,493.28 L874.52,493.42 L874.77,493.57 L875.03,493.71 L875.28,493.86 L875.53,494 L875.77,494.15 L876.02,494.3 L876.26,494.45 L876.49,494.6 L876.73,494.75 L876.96,494.91 L877.19,495.06 L877.42,495.22 L877.64,495.37 L877.86,495.53 L878.08,495.69 L878.29,495.85 L878.51,496.01 L878.71,496.17 L878.92,496.33 L879.12,496.5 L879.32,496.66 L879.52,496.83 L879.71,496.99 L879.9,497.16 L880.09,497.33 L880.28,497.5 L880.46,497.67 L880.64,497.84 L880.81,498.01 L880.98,498.18 L881.15,498.36 L881.32,498.53 L881.48,498.71 L881.64,498.88 L881.8,499.06 L881.95,499.24 L882.1,499.42 L882.25,499.6 L882.39,499.78 L882.53,499.96 L882.67,500.14 L882.8,500.32 L882.93,500.5 L883.06,500.68 L883.18,500.87 L883.3,501.05 L883.42,501.24 L883.54,501.42 L883.65,501.61 L883.75,501.8 L883.86,501.98 L883.96,502.17 L884.06,502.36 L884.15,502.55 L884.24,502.74 L884.33,502.93 L884.41,503.12 L884.49,503.31 L884.57,503.5 L884.64,503.69 L884.71,503.89 L884.78,504.08 L884.84,504.27 L884.9,504.47 L884.96,504.66 L885.01,504.85 L885.06,505.05 L885.1,505.24 L885.15,505.44 L885.19,505.63 L885.22,505.83 L885.25,506.03 L885.28,506.22 L885.31,506.42 L885.33,506.61 L885.35,506.81 L885.36,507.01 L885.37,507.21 L885.38,507.4 L885.39,507.6 L885.39,507.8 L885.38,507.99 L885.38,508.19 L885.37,508.39 L885.35,508.59 L885.34,508.79 L885.32,508.98 L885.29,509.18 L885.27,509.38 L885.24,509.58 L885.2,509.78 L885.17,509.97 L885.13,510.17 L885.08,510.37 L885.03,510.57 L884.98,510.76 L884.93,510.96 L884.87,511.16 L884.81,511.36 L884.74,511.55 L884.67,511.75 L884.6,511.95 L884.53,512.14 L884.45,512.34 L884.37,512.53 L884.28,512.73 L884.19,512.92 L884.1,513.12 L884.01,513.31 L883.91,513.51 L883.8,513.7 L883.7,513.9 L883.59,514.09 L883.48,514.28 L883.36,514.48 L883.24,514.67 L883.12,514.86 L882.99,515.05 L882.87,515.24 L882.73,515.43 L882.6,515.62 L882.46,515.81 L882.32,516 L882.17,516.19 L882.02,516.38 L881.87,516.56 L881.72,516.75 L881.56,516.94 L881.4,517.12 L881.23,517.31 L881.07,517.49 L880.9,517.68 L880.72,517.86 L880.54,518.04 L880.36,518.22 L880.18,518.41 L809.43,587.63 L809.25,587.81 L809.05,587.98 L808.86,588.16 L808.66,588.34 L808.46,588.52 L808.25,588.69 L808.05,588.87 L807.84,589.04 L807.62,589.22 L807.41,589.39 L807.19,589.56 L806.96,589.73 L806.74,589.9 L806.51,590.07 L806.28,590.24 L806.05,590.4 L805.81,590.57 L805.57,590.74 L805.33,590.9 L805.09,591.06 L804.84,591.23 L804.59,591.39 L804.34,591.55 L804.08,591.71 L803.82,591.87 L803.56,592.02 L803.3,592.18 L803.03,592.34 L802.76,592.49 L802.49,592.64 L802.22,592.8 L801.94,592.95 L801.67,593.1 L801.38,593.25 L801.1,593.39 L800.81,593.54 L800.53,593.68 L800.24,593.83 L799.94,593.97 L799.65,594.11 L799.35,594.25 L799.05,594.39 L798.75,594.53 L798.44,594.67 L798.14,594.8 L797.83,594.94 L797.52,595.07 L797.2,595.2 L796.89,595.33 L796.57,595.46 L796.25,595.59 L795.93,595.72 L795.6,595.84 L795.28,595.96 L794.95,596.09 L794.62,596.21 L794.29,596.33 L793.95,596.45 L793.62,596.56 L793.28,596.68 L792.94,596.79 L792.6,596.91 L792.26,597.02 L791.91,597.13 L791.57,597.23 L791.22,597.34 L790.87,597.45 L790.52,597.55 L790.17,597.65 L789.81,597.75 L789.46,597.85 L789.1,597.95 L788.74,598.05 L788.38,598.14 L788.02,598.24 L787.65,598.33 L787.29,598.42 L786.92,598.51 L786.55,598.6 L786.18,598.68 L785.81,598.77 L785.44,598.85 L785.07,598.93 L784.7,599.01 L784.32,599.09 L783.94,599.16 L783.57,599.24 L783.19,599.31 L782.81,599.38 L782.43,599.45 L782.05,599.52 L781.66,599.59 L781.28,599.65 L780.9,599.72 L780.51,599.78 L780.12,599.84 L779.74,599.9 L779.35,599.96 L778.96,600.01 L778.57,600.06 L778.18,600.12 L777.79,600.17 L777.4,600.21 L777.01,600.26 L776.61,600.31 L776.22,600.35 L775.83,600.39 L775.43,600.43 L775.04,600.47 L774.64,600.51 L774.25,600.54 L773.85,600.58 L773.45,600.61 L773.06,600.64 L772.66,600.67 L772.26,600.69 L771.86,600.72 L771.47,600.74 L771.07,600.76 L770.67,600.78 L770.27,600.8 L769.87,600.82 L769.48,600.83 L769.08,600.84 L768.68,600.85 L768.28,600.86 L767.88,600.87 L767.49,600.88 L767.09,600.88 L766.69,600.88 L766.29,600.88 L765.89,600.88 L765.5,600.88 L765.1,600.88 L764.7,600.87 L764.31,600.86 L763.91,600.85 L763.52,600.84 L763.12,600.83 L762.73,600.81 L762.33,600.8 L761.94,600.78 L761.55,600.76 L761.15,600.74 L760.76,600.71 L760.37,600.69 L759.98,600.66 L759.59,600.63 L759.2,600.6 L758.81,600.57 L758.43,600.54 L758.04,600.5 L757.65,600.46 L757.27,600.43 L756.88,600.39 L756.5,600.34 L756.12,600.3 L755.74,600.25 L755.36,600.21 L754.98,600.16 L754.6,600.11 L754.22,600.06 L753.85,600 L753.47,599.95 L753.1,599.89 L752.73,599.83 L752.36,599.77 L751.99,599.71 L751.62,599.64 L751.25,599.58 L750.89,599.51 L750.52,599.44 L750.16,599.37 L749.8,599.3 L749.44,599.23 L749.08,599.15 L748.72,599.08 L748.37,599 L748.01,598.92 L747.66,598.84 L747.31,598.75 L746.96,598.67 L746.61,598.58 L746.27,598.49 L745.93,598.41 L745.58,598.31 L745.24,598.22 L744.91,598.13 L744.57,598.03 L744.23,597.94 L743.9,597.84 L743.57,597.74 L743.24,597.64 L742.92,597.53 L742.59,597.43 L742.27,597.32 L741.95,597.22 L741.63,597.11 L741.31,597 L741,596.89 L740.69,596.77 L740.38,596.66 L740.07,596.54 L739.76,596.43 L739.46,596.31 L739.16,596.19 L738.86,596.07 L738.56,595.94 L738.27,595.82 L737.98,595.69 L737.69,595.57 L737.4,595.44 L737.11,595.31 L736.83,595.18 L736.55,595.05 L736.28,594.91 L736,594.78 L735.73,594.64 L735.46,594.51 L735.19,594.37 L734.93,594.23 L734.66,594.09 L734.41,593.95 L734.15,593.8 L733.89,593.66 L733.64,593.51 L733.39,593.37 L733.15,593.22 L732.91,593.07 L732.67,592.92 L732.43,592.77 L732.19,592.62 L731.96,592.46 L731.73,592.31 L731.51,592.15 L731.28,592 L731.06,591.84 L730.84,591.68 L730.63,591.52 L730.42,591.36 L730.21,591.2 L730,591.04 L729.8,590.87 L729.6,590.71 L729.4,590.54 L729.21,590.38 L729.02,590.21 L728.83,590.04 L728.65,589.87 L728.46,589.7 L728.29,589.53 L728.11,589.36 L727.94,589.19 L727.77,589.01 L727.6,588.84 L727.44,588.66 L727.28,588.49 L727.12,588.31 L726.97,588.13 L726.82,587.95 L726.67,587.77 L726.53,587.59 L726.39,587.41 L726.25,587.23 L726.12,587.05 L725.99,586.87 L725.86,586.69 L725.74,586.5 L725.62,586.32 L725.5,586.13 L725.39,585.95 L725.28,585.76 L725.17,585.57 L725.06,585.39 L724.96,585.2 L724.87,585.01 L724.77,584.82 L724.68,584.63 L724.6,584.44 L724.51,584.25 L724.43,584.06 L724.36,583.87 L724.28,583.68 L724.21,583.48 L724.15,583.29 L724.08,583.1 L724.02,582.9 L723.97,582.71 L723.91,582.52 L723.86,582.32 L723.82,582.13 L723.78,581.93 L723.74,581.74 L723.7,581.54 L723.67,581.34 L723.64,581.15 L723.62,580.95 L723.59,580.76 L723.58,580.56 L723.56,580.36 L723.55,580.16 L723.54,579.97 L723.54,579.77 L723.54,579.57 L723.54,579.38 L723.54,579.18 L723.55,578.98 L723.57,578.78 L723.58,578.58 L723.6,578.39 L723.63,578.19 L723.65,577.99 L723.68,577.79 L723.72,577.59 L723.76,577.4 L723.8,577.2 L723.84,577 L723.89,576.8 L723.94,576.61 L723.99,576.41 L724.05,576.21 L724.11,576.01 L724.18,575.82 L724.25,575.62 L724.32,575.42 L724.39,575.23 L724.47,575.03 L724.56,574.84 L724.64,574.64 L724.73,574.45 L724.82,574.25 L724.92,574.06 L725.02,573.86 L725.12,573.67 L725.22,573.47 L725.33,573.28 L725.45,573.09 L725.56,572.89 L725.68,572.7 L725.8,572.51 L725.93,572.32 L726.06,572.13 L726.19,571.94 L726.32,571.75 L726.46,571.56 L726.6,571.37 L726.75,571.18 L726.9,570.99 L727.05,570.81 L727.21,570.62 L727.36,570.43 L727.52,570.25 L727.69,570.06 L727.86,569.88 L728.03,569.69 L728.2,569.51 L728.38,569.33 L728.56,569.15 Z" fill="#b4b4b4" stroke="#000" stroke-width="1.4"/>
<path d="M800.76,498.79 L800.94,498.61 L801.12,498.44 L801.3,498.27 L801.49,498.1 L801.68,497.93 L801.88,497.76 L802.07,497.59 L802.27,497.42 L802.48,497.25 L802.68,497.08 L802.89,496.92 L803.1,496.75 L803.31,496.59 L803.53,496.42 L803.75,496.26 L803.97,496.1 L804.2,495.94 L804.42,495.78 L804.65,495.62 L804.89,495.46 L805.12,495.3 L805.36,495.15 L805.6,494.99 L805.84,494.84 L806.09,494.68 L806.34,494.53 L806.59,494.38 L806.84,494.23 L807.1,494.08 L807.36,493.93 L807.62,493.78 L807.88,493.64 L808.15,493.49 L808.41,493.35 L808.68,493.2 L808.96,493.06 L809.23,492.92 L809.51,492.78 L809.79,492.64 L810.07,492.5 L810.36,492.37 L810.64,492.23 L810.93,492.1 L811.22,491.97 L811.52,491.83 L811.81,491.7 L812.11,491.57 L812.41,491.45 L812.71,491.32 L813.01,491.19 L813.32,491.07 L813.63,490.95 L813.94,490.83 L814.25,490.71 L814.56,490.59 L814.88,490.47 L815.2,490.35 L815.51,490.24 L815.84,490.12 L816.16,490.01 L816.48,489.9 L816.81,489.79 L817.14,489.68 L817.47,489.57 L817.8,489.47 L818.13,489.36 L818.47,489.26 L818.8,489.16 L819.14,489.06 L819.48,488.96 L819.82,488.86 L820.17,488.77 L820.51,488.67 L820.86,488.58 L821.2,488.49 L821.55,488.4 L821.9,488.31 L822.25,488.22 L822.61,488.14 L822.96,488.05 L823.31,487.97 L823.67,487.89 L824.03,487.81 L824.39,487.73 L824.75,487.65 L825.11,487.58 L825.47,487.51 L825.83,487.43 L826.2,487.36 L826.56,487.29 L826.93,487.23 L827.3,487.16 L827.67,487.1 L828.03,487.03 L828.41,486.97 L828.78,486.91 L829.15,486.86 L829.52,486.8 L829.89,486.75 L830.27,486.69 L830.64,486.64 L831.02,486.59 L831.39,486.54 L831.77,486.5 L832.15,486.45 L832.53,486.41 L832.91,486.36 L833.28,486.32 L833.66,486.29 L834.04,486.25 L834.42,486.21 L834.81,486.18 L835.19,486.15 L835.57,486.12 L835.95,486.09 L836.33,486.06 L836.71,486.04 L837.1,486.01 L837.48,485.99 L837.86,485.97 L838.25,485.95 L838.63,485.93 L839.01,485.92 L839.4,485.9 L839.78,485.89 L840.16,485.88 L840.55,485.87 L840.93,485.86 L841.31,485.86 L841.7,485.85 L842.08,485.85 L842.46,485.85 L842.84,485.85 L843.23,485.85 L843.61,485.86 L843.99,485.86 L844.37,485.87 L844.75,485.88 L845.13,485.89 L845.51,485.91 L845.89,485.92 L846.27,485.94 L846.65,485.95 L847.03,485.97 L847.41,485.99 L847.78,486.02 L848.16,486.04 L848.54,486.07 L848.91,486.09 L849.29,486.12 L849.66,486.15 L850.03,486.19 L850.4,486.22 L850.78,486.26 L851.15,486.29 L851.52,486.33 L851.89,486.37 L852.25,486.41 L852.62,486.46 L852.99,486.5 L853.35,486.55 L853.71,486.6 L854.08,486.65 L854.44,486.7 L854.8,486.75 L855.16,486.81 L855.52,486.87 L855.87,486.92 L856.23,486.98 L856.58,487.05 L856.94,487.11 L857.29,487.17 L857.64,487.24 L857.99,487.31 L858.34,487.38 L858.68,487.45 L859.03,487.52 L859.37,487.59 L859.71,487.67 L860.05,487.74 L860.39,487.82 L860.73,487.9 L861.07,487.98 L861.4,488.07 L861.73,488.15 L862.06,488.24 L862.39,488.32 L862.72,488.41 L863.05,488.5 L863.37,488.6 L863.69,488.69 L864.01,488.78 L864.33,488.88 L864.65,488.98 L864.96,489.08 L865.27,489.18 L865.58,489.28 L865.89,489.38 L866.2,489.49 L866.5,489.59 L866.81,489.7 L867.11,489.81 L867.41,489.92 L867.7,490.03 L868,490.14 L868.29,490.26 L868.58,490.37 L868.87,490.49 L869.15,490.61 L869.43,490.73 L869.72,490.85 L869.99,490.97 L870.27,491.09 L870.54,491.22 L870.82,491.34 L871.09,491.47 L871.35,491.6 L871.62,491.73 L871.88,491.86 L872.14,491.99 L872.4,492.12 L872.65,492.26 L872.9,492.39 L873.15,492.53 L873.4,492.67 L873.64,492.8 L873.89,492.94 L874.12,493.09 L874.36,493.23 L874.6,493.37 L874.83,493.52 L875.06,493.66 L875.28,493.81 L875.5,493.96 L875.73,494.1 L875.94,494.25 L876.16,494.4 L876.37,494.56 L876.58,494.71 L876.79,494.86 L876.99,495.02 L877.19,495.17 L877.39,495.33 L877.58,495.49 L877.78,495.65 L877.97,495.8 L878.15,495.96 L878.34,496.13 L878.52,496.29 L878.7,496.45 L878.87,496.61 L879.04,496.78 L879.21,496.94 L879.38,497.11 L879.54,497.28 L879.7,497.45 L879.86,497.61 L880.01,497.78 L880.16,497.95 L880.31,498.13 L880.45,498.3 L880.59,498.47 L880.73,498.64 L880.87,498.82 L881,498.99 L881.13,499.17 L881.25,499.34 L881.37,499.52 L881.49,499.69 L881.61,499.87 L881.72,500.05 L881.83,500.23 L881.94,500.41 L882.04,500.59 L882.14,500.77 L882.24,500.95 L882.33,501.13 L882.42,501.31 L882.51,501.5 L882.59,501.68 L882.67,501.86 L882.75,502.05 L882.83,502.23 L882.9,502.41 L882.96,502.6 L883.03,502.79 L883.09,502.97 L883.15,503.16 L883.2,503.34 L883.25,503.53 L883.3,503.72 L883.34,503.91 L883.38,504.09 L883.42,504.28 L883.45,504.47 L883.49,504.66 L883.51,504.85 L883.54,505.04 L883.56,505.22 L883.58,505.41 L883.59,505.6 L883.6,505.79 L883.61,505.98 L883.61,506.17 L883.61,506.36 L883.61,506.55 L883.6,506.74 L883.6,506.93 L883.58,507.12 L883.57,507.32 L883.55,507.51 L883.53,507.7 L883.5,507.89 L883.47,508.08 L883.44,508.27 L883.4,508.46 L883.36,508.65 L883.32,508.84 L883.27,509.03 L883.22,509.22 L883.17,509.41 L883.12,509.6 L883.06,509.79 L882.99,509.98 L882.93,510.17 L882.86,510.36 L882.79,510.55 L882.71,510.73 L882.63,510.92 L882.55,511.11 L882.46,511.3 L882.38,511.49 L882.28,511.67 L882.19,511.86 L882.09,512.05 L881.99,512.23 L881.88,512.42 L881.78,512.61 L881.66,512.79 L881.55,512.98 L881.43,513.16 L881.31,513.35 L881.19,513.53 L881.06,513.71 L880.93,513.9 L880.8,514.08 L880.66,514.26 L880.52,514.44 L880.38,514.62 L880.23,514.8 L880.08,514.98 L879.93,515.16 L879.77,515.34 L879.62,515.52 L879.46,515.7 L879.29,515.87 L879.12,516.05 L878.95,516.22 L878.78,516.4 L878.6,516.57 L807.86,585.79 L807.68,585.96 L807.5,586.13 L807.31,586.3 L807.12,586.47 L806.92,586.64 L806.73,586.81 L806.53,586.98 L806.32,587.15 L806.12,587.32 L805.91,587.48 L805.7,587.65 L805.49,587.81 L805.27,587.98 L805.05,588.14 L804.83,588.3 L804.6,588.46 L804.38,588.62 L804.15,588.78 L803.91,588.94 L803.68,589.1 L803.44,589.25 L803.2,589.41 L802.96,589.56 L802.71,589.72 L802.46,589.87 L802.21,590.02 L801.96,590.17 L801.7,590.32 L801.44,590.47 L801.18,590.62 L800.92,590.76 L800.65,590.91 L800.39,591.05 L800.12,591.2 L799.84,591.34 L799.57,591.48 L799.29,591.62 L799.01,591.76 L798.73,591.9 L798.44,592.03 L798.16,592.17 L797.87,592.3 L797.58,592.43 L797.28,592.57 L796.99,592.7 L796.69,592.83 L796.39,592.95 L796.09,593.08 L795.79,593.21 L795.48,593.33 L795.17,593.45 L794.86,593.57 L794.55,593.69 L794.24,593.81 L793.92,593.93 L793.6,594.05 L793.29,594.16 L792.96,594.28 L792.64,594.39 L792.32,594.5 L791.99,594.61 L791.66,594.72 L791.33,594.83 L791,594.93 L790.67,595.04 L790.33,595.14 L790,595.24 L789.66,595.34 L789.32,595.44 L788.98,595.54 L788.63,595.63 L788.29,595.73 L787.94,595.82 L787.6,595.91 L787.25,596 L786.9,596.09 L786.55,596.18 L786.19,596.26 L785.84,596.35 L785.49,596.43 L785.13,596.51 L784.77,596.59 L784.41,596.67 L784.05,596.75 L783.69,596.82 L783.33,596.89 L782.97,596.97 L782.6,597.04 L782.24,597.11 L781.87,597.17 L781.5,597.24 L781.13,597.3 L780.77,597.37 L780.39,597.43 L780.02,597.49 L779.65,597.54 L779.28,597.6 L778.91,597.65 L778.53,597.71 L778.16,597.76 L777.78,597.81 L777.41,597.86 L777.03,597.9 L776.65,597.95 L776.27,597.99 L775.89,598.04 L775.52,598.08 L775.14,598.11 L774.76,598.15 L774.38,598.19 L773.99,598.22 L773.61,598.25 L773.23,598.28 L772.85,598.31 L772.47,598.34 L772.09,598.36 L771.7,598.39 L771.32,598.41 L770.94,598.43 L770.55,598.45 L770.17,598.47 L769.79,598.48 L769.4,598.5 L769.02,598.51 L768.64,598.52 L768.25,598.53 L767.87,598.54 L767.49,598.54 L767.1,598.55 L766.72,598.55 L766.34,598.55 L765.96,598.55 L765.57,598.55 L765.19,598.54 L764.81,598.54 L764.43,598.53 L764.05,598.52 L763.67,598.51 L763.29,598.49 L762.91,598.48 L762.53,598.46 L762.15,598.45 L761.77,598.43 L761.39,598.41 L761.02,598.38 L760.64,598.36 L760.26,598.33 L759.89,598.31 L759.51,598.28 L759.14,598.25 L758.77,598.21 L758.4,598.18 L758.02,598.14 L757.65,598.11 L757.28,598.07 L756.91,598.03 L756.55,597.99 L756.18,597.94 L755.81,597.9 L755.45,597.85 L755.09,597.8 L754.72,597.75 L754.36,597.7 L754,597.65 L753.64,597.59 L753.28,597.53 L752.93,597.48 L752.57,597.42 L752.22,597.35 L751.86,597.29 L751.51,597.23 L751.16,597.16 L750.81,597.09 L750.46,597.02 L750.12,596.95 L749.77,596.88 L749.43,596.81 L749.09,596.73 L748.75,596.66 L748.41,596.58 L748.07,596.5 L747.73,596.42 L747.4,596.33 L747.07,596.25 L746.74,596.16 L746.41,596.08 L746.08,595.99 L745.75,595.9 L745.43,595.8 L745.11,595.71 L744.79,595.62 L744.47,595.52 L744.15,595.42 L743.84,595.32 L743.53,595.22 L743.22,595.12 L742.91,595.02 L742.6,594.91 L742.3,594.81 L741.99,594.7 L741.69,594.59 L741.39,594.48 L741.1,594.37 L740.8,594.26 L740.51,594.14 L740.22,594.03 L739.93,593.91 L739.65,593.79 L739.37,593.67 L739.08,593.55 L738.81,593.43 L738.53,593.31 L738.26,593.18 L737.98,593.06 L737.71,592.93 L737.45,592.8 L737.18,592.67 L736.92,592.54 L736.66,592.41 L736.4,592.28 L736.15,592.14 L735.9,592.01 L735.65,591.87 L735.4,591.73 L735.16,591.6 L734.91,591.46 L734.68,591.31 L734.44,591.17 L734.2,591.03 L733.97,590.88 L733.74,590.74 L733.52,590.59 L733.3,590.44 L733.07,590.3 L732.86,590.15 L732.64,590 L732.43,589.84 L732.22,589.69 L732.01,589.54 L731.81,589.38 L731.61,589.23 L731.41,589.07 L731.22,588.91 L731.02,588.75 L730.83,588.6 L730.65,588.44 L730.46,588.27 L730.28,588.11 L730.1,587.95 L729.93,587.79 L729.76,587.62 L729.59,587.46 L729.42,587.29 L729.26,587.12 L729.1,586.95 L728.94,586.79 L728.79,586.62 L728.64,586.45 L728.49,586.27 L728.35,586.1 L728.21,585.93 L728.07,585.76 L727.93,585.58 L727.8,585.41 L727.67,585.23 L727.55,585.06 L727.43,584.88 L727.31,584.71 L727.19,584.53 L727.08,584.35 L726.97,584.17 L726.86,583.99 L726.76,583.81 L726.66,583.63 L726.56,583.45 L726.47,583.27 L726.38,583.09 L726.29,582.9 L726.21,582.72 L726.13,582.54 L726.05,582.35 L725.97,582.17 L725.9,581.99 L725.84,581.8 L725.77,581.61 L725.71,581.43 L725.65,581.24 L725.6,581.06 L725.55,580.87 L725.5,580.68 L725.46,580.49 L725.42,580.31 L725.38,580.12 L725.35,579.93 L725.31,579.74 L725.29,579.55 L725.26,579.36 L725.24,579.18 L725.22,578.99 L725.21,578.8 L725.2,578.61 L725.19,578.42 L725.19,578.23 L725.19,578.04 L725.19,577.85 L725.2,577.66 L725.2,577.47 L725.22,577.28 L725.23,577.08 L725.25,576.89 L725.27,576.7 L725.3,576.51 L725.33,576.32 L725.36,576.13 L725.4,575.94 L725.44,575.75 L725.48,575.56 L725.53,575.37 L725.58,575.18 L725.63,574.99 L725.68,574.8 L725.74,574.61 L725.81,574.42 L725.87,574.23 L725.94,574.04 L726.01,573.85 L726.09,573.67 L726.17,573.48 L726.25,573.29 L726.34,573.1 L726.42,572.91 L726.52,572.73 L726.61,572.54 L726.71,572.35 L726.81,572.17 L726.92,571.98 L727.02,571.79 L727.14,571.61 L727.25,571.42 L727.37,571.24 L727.49,571.05 L727.61,570.87 L727.74,570.69 L727.87,570.5 L728,570.32 L728.14,570.14 L728.28,569.96 L728.42,569.78 L728.57,569.6 L728.72,569.42 L728.87,569.24 L729.03,569.06 L729.18,568.88 L729.34,568.7 L729.51,568.53 L729.68,568.35 L729.85,568.18 L730.02,568 Z" fill="#dcdcdc" stroke="#000" stroke-width="1.4"/>
<path d="M772.3,573.61 L772.87,573.75 L773.43,573.91 L773.96,574.08 L774.48,574.27 L774.98,574.46 L775.45,574.68 L775.89,574.9 L776.32,575.14 L776.71,575.39 L777.08,575.65 L777.41,575.92 L777.72,576.19 L778,576.48 L778.24,576.78 L778.45,577.08 L778.63,577.39 L778.78,577.7 L778.89,578.02 L778.97,578.34 L779.02,578.66 L779.03,578.99 L779,579.31 L778.94,579.64 L778.85,579.97 L778.72,580.29 L778.56,580.61 L778.37,580.93 L778.14,581.24 L777.88,581.55 L777.59,581.85 L777.28,582.14 L776.93,582.43 L776.55,582.71 L776.14,582.98 L775.71,583.24 L775.25,583.49 L774.77,583.72 L774.27,583.95 L773.74,584.16 L773.19,584.36 L772.63,584.54 L772.05,584.71 L771.45,584.87 L770.84,585.01 L770.22,585.13 L769.59,585.24 L768.95,585.33 L768.3,585.41 L767.65,585.47 L766.99,585.51 L766.34,585.54 L765.68,585.55 L765.02,585.54 L764.37,585.51 L763.73,585.47 L763.09,585.41 L762.46,585.33 L761.85,585.24 L761.24,585.13 L760.65,585 L760.08,584.86 L759.52,584.71 L758.98,584.54 L758.47,584.35 L757.97,584.15 L757.5,583.94 L757.05,583.72 L756.63,583.48 L756.24,583.23 L755.87,582.97 L755.54,582.7 L755.23,582.42 L754.95,582.14 L754.71,581.84 L754.49,581.54 L754.31,581.23 L754.17,580.92 L754.06,580.6 L753.98,580.28 L753.93,579.96 L753.92,579.63 L753.95,579.3 L754.01,578.98 L754.1,578.65 L754.23,578.33 L754.39,578.01 L754.58,577.69 L754.81,577.38 L755.06,577.07 L755.35,576.77 L755.67,576.47 L756.02,576.19 L756.4,575.91 L756.81,575.64 L757.24,575.38 L757.7,575.13 L758.18,574.9 L758.68,574.67 L759.21,574.46 L759.75,574.26 L760.32,574.08 L760.9,573.91 L761.49,573.75 L762.1,573.61 L762.73,573.48 L763.36,573.38 L764,573.28 L764.65,573.21 L765.3,573.15 L765.95,573.11 L766.61,573.08 L767.27,573.07 L767.92,573.08 L768.57,573.11 L769.22,573.15 L769.86,573.21 L770.48,573.29 L771.1,573.38 L771.71,573.49 Z" fill="none" stroke="#f6f6f6" stroke-width="3.6"/>
<path d="M772.3,573.61 L772.87,573.75 L773.43,573.91 L773.96,574.08 L774.48,574.27 L774.98,574.46 L775.45,574.68 L775.89,574.9 L776.32,575.14 L776.71,575.39 L777.08,575.65 L777.41,575.92 L777.72,576.19 L778,576.48 L778.24,576.78 L778.45,577.08 L778.63,577.39 L778.78,577.7 L778.89,578.02 L778.97,578.34 L779.02,578.66 L779.03,578.99 L779,579.31 L778.94,579.64 L778.85,579.97 L778.72,580.29 L778.56,580.61 L778.37,580.93 L778.14,581.24 L777.88,581.55 L777.59,581.85 L777.28,582.14 L776.93,582.43 L776.55,582.71 L776.14,582.98 L775.71,583.24 L775.25,583.49 L774.77,583.72 L774.27,583.95 L773.74,584.16 L773.19,584.36 L772.63,584.54 L772.05,584.71 L771.45,584.87 L770.84,585.01 L770.22,585.13 L769.59,585.24 L768.95,585.33 L768.3,585.41 L767.65,585.47 L766.99,585.51 L766.34,585.54 L765.68,585.55 L765.02,585.54 L764.37,585.51 L763.73,585.47 L763.09,585.41 L762.46,585.33 L761.85,585.24 L761.24,585.13 L760.65,585 L760.08,584.86 L759.52,584.71 L758.98,584.54 L758.47,584.35 L757.97,584.15 L757.5,583.94 L757.05,583.72 L756.63,583.48 L756.24,583.23 L755.87,582.97 L755.54,582.7 L755.23,582.42 L754.95,582.14 L754.71,581.84 L754.49,581.54 L754.31,581.23 L754.17,580.92 L754.06,580.6 L753.98,580.28 L753.93,579.96 L753.92,579.63 L753.95,579.3 L754.01,578.98 L754.1,578.65 L754.23,578.33 L754.39,578.01 L754.58,577.69 L754.81,577.38 L755.06,577.07 L755.35,576.77 L755.67,576.47 L756.02,576.19 L756.4,575.91 L756.81,575.64 L757.24,575.38 L757.7,575.13 L758.18,574.9 L758.68,574.67 L759.21,574.46 L759.75,574.26 L760.32,574.08 L760.9,573.91 L761.49,573.75 L762.1,573.61 L762.73,573.48 L763.36,573.38 L764,573.28 L764.65,573.21 L765.3,573.15 L765.95,573.11 L766.61,573.08 L767.27,573.07 L767.92,573.08 L768.57,573.11 L769.22,573.15 L769.86,573.21 L770.48,573.29 L771.1,573.38 L771.71,573.49 Z" fill="url(#gHoleL)" stroke="#000" stroke-width="1.4"/>
<path d="M848.15,499.4 L848.72,499.54 L849.28,499.69 L849.82,499.86 L850.33,500.05 L850.83,500.25 L851.3,500.46 L851.75,500.68 L852.17,500.92 L852.56,501.17 L852.93,501.43 L853.26,501.7 L853.57,501.98 L853.85,502.26 L854.09,502.56 L854.31,502.86 L854.49,503.17 L854.63,503.48 L854.74,503.8 L854.82,504.12 L854.87,504.44 L854.88,504.77 L854.85,505.1 L854.79,505.42 L854.7,505.75 L854.57,506.07 L854.41,506.39 L854.22,506.71 L853.99,507.02 L853.74,507.33 L853.45,507.63 L853.13,507.93 L852.78,508.21 L852.4,508.49 L851.99,508.76 L851.56,509.02 L851.1,509.27 L850.62,509.5 L850.12,509.73 L849.59,509.94 L849.05,510.14 L848.48,510.32 L847.9,510.49 L847.31,510.65 L846.7,510.79 L846.07,510.92 L845.44,511.02 L844.8,511.12 L844.15,511.19 L843.5,511.25 L842.85,511.29 L842.19,511.32 L841.53,511.33 L840.88,511.32 L840.23,511.29 L839.58,511.25 L838.94,511.19 L838.32,511.11 L837.7,511.02 L837.09,510.91 L836.5,510.79 L835.93,510.65 L835.37,510.49 L834.84,510.32 L834.32,510.13 L833.82,509.94 L833.35,509.72 L832.91,509.5 L832.48,509.26 L832.09,509.01 L831.72,508.75 L831.39,508.48 L831.08,508.21 L830.8,507.92 L830.56,507.62 L830.35,507.32 L830.17,507.01 L830.02,506.7 L829.91,506.38 L829.83,506.06 L829.78,505.74 L829.77,505.41 L829.8,505.09 L829.86,504.76 L829.95,504.43 L830.08,504.11 L830.24,503.79 L830.43,503.47 L830.66,503.16 L830.92,502.85 L831.21,502.55 L831.52,502.26 L831.87,501.97 L832.25,501.69 L832.66,501.42 L833.09,501.16 L833.55,500.91 L834.03,500.68 L834.53,500.45 L835.06,500.24 L835.61,500.04 L836.17,499.86 L836.75,499.69 L837.35,499.53 L837.96,499.39 L838.58,499.27 L839.21,499.16 L839.85,499.07 L840.5,498.99 L841.15,498.93 L841.81,498.89 L842.46,498.86 L843.12,498.85 L843.78,498.86 L844.43,498.89 L845.07,498.93 L845.71,498.99 L846.34,499.07 L846.95,499.16 L847.56,499.27 Z" fill="none" stroke="#f6f6f6" stroke-width="3.6"/>
<path d="M848.15,499.4 L848.72,499.54 L849.28,499.69 L849.82,499.86 L850.33,500.05 L850.83,500.25 L851.3,500.46 L851.75,500.68 L852.17,500.92 L852.56,501.17 L852.93,501.43 L853.26,501.7 L853.57,501.98 L853.85,502.26 L854.09,502.56 L854.31,502.86 L854.49,503.17 L854.63,503.48 L854.74,503.8 L854.82,504.12 L854.87,504.44 L854.88,504.77 L854.85,505.1 L854.79,505.42 L854.7,505.75 L854.57,506.07 L854.41,506.39 L854.22,506.71 L853.99,507.02 L853.74,507.33 L853.45,507.63 L853.13,507.93 L852.78,508.21 L852.4,508.49 L851.99,508.76 L851.56,509.02 L851.1,509.27 L850.62,509.5 L850.12,509.73 L849.59,509.94 L849.05,510.14 L848.48,510.32 L847.9,510.49 L847.31,510.65 L846.7,510.79 L846.07,510.92 L845.44,511.02 L844.8,511.12 L844.15,511.19 L843.5,511.25 L842.85,511.29 L842.19,511.32 L841.53,511.33 L840.88,511.32 L840.23,511.29 L839.58,511.25 L838.94,511.19 L838.32,511.11 L837.7,511.02 L837.09,510.91 L836.5,510.79 L835.93,510.65 L835.37,510.49 L834.84,510.32 L834.32,510.13 L833.82,509.94 L833.35,509.72 L832.91,509.5 L832.48,509.26 L832.09,509.01 L831.72,508.75 L831.39,508.48 L831.08,508.21 L830.8,507.92 L830.56,507.62 L830.35,507.32 L830.17,507.01 L830.02,506.7 L829.91,506.38 L829.83,506.06 L829.78,505.74 L829.77,505.41 L829.8,505.09 L829.86,504.76 L829.95,504.43 L830.08,504.11 L830.24,503.79 L830.43,503.47 L830.66,503.16 L830.92,502.85 L831.21,502.55 L831.52,502.26 L831.87,501.97 L832.25,501.69 L832.66,501.42 L833.09,501.16 L833.55,500.91 L834.03,500.68 L834.53,500.45 L835.06,500.24 L835.61,500.04 L836.17,499.86 L836.75,499.69 L837.35,499.53 L837.96,499.39 L838.58,499.27 L839.21,499.16 L839.85,499.07 L840.5,498.99 L841.15,498.93 L841.81,498.89 L842.46,498.86 L843.12,498.85 L843.78,498.86 L844.43,498.89 L845.07,498.93 L845.71,498.99 L846.34,499.07 L846.95,499.16 L847.56,499.27 Z" fill="url(#gHoleL)" stroke="#000" stroke-width="1.4"/>
<path d="M815.6,531.24 L816.71,531.51 L817.78,531.81 L818.81,532.14 L819.81,532.5 L820.76,532.88 L821.67,533.29 L822.53,533.72 L823.34,534.18 L824.1,534.65 L824.8,535.15 L825.45,535.67 L826.04,536.21 L826.57,536.76 L827.04,537.33 L827.45,537.91 L827.8,538.5 L828.08,539.1 L828.3,539.71 L828.45,540.33 L828.53,540.95 L828.55,541.58 L828.51,542.21 L828.39,542.84 L828.21,543.46 L827.97,544.09 L827.66,544.7 L827.29,545.31 L826.85,545.92 L826.36,546.51 L825.8,547.09 L825.18,547.66 L824.51,548.21 L823.78,548.74 L823,549.26 L822.17,549.76 L821.29,550.24 L820.36,550.69 L819.39,551.12 L818.38,551.53 L817.33,551.91 L816.25,552.27 L815.13,552.6 L813.98,552.9 L812.81,553.17 L811.61,553.41 L810.39,553.62 L809.16,553.79 L807.92,553.94 L806.66,554.05 L805.4,554.14 L804.13,554.19 L802.87,554.2 L801.61,554.18 L800.36,554.13 L799.12,554.05 L797.89,553.94 L796.68,553.79 L795.5,553.61 L794.33,553.4 L793.2,553.16 L792.09,552.89 L791.02,552.59 L789.99,552.26 L788.99,551.9 L788.04,551.52 L787.13,551.11 L786.27,550.68 L785.46,550.22 L784.7,549.75 L784,549.25 L783.35,548.73 L782.76,548.19 L782.23,547.64 L781.76,547.07 L781.35,546.49 L781,545.9 L780.72,545.3 L780.5,544.69 L780.35,544.07 L780.27,543.45 L780.25,542.82 L780.29,542.19 L780.41,541.56 L780.59,540.94 L780.83,540.31 L781.14,539.7 L781.51,539.09 L781.95,538.48 L782.44,537.89 L783,537.31 L783.62,536.74 L784.29,536.19 L785.02,535.66 L785.8,535.14 L786.63,534.64 L787.51,534.16 L788.44,533.71 L789.41,533.28 L790.42,532.87 L791.47,532.49 L792.55,532.13 L793.67,531.8 L794.82,531.5 L795.99,531.23 L797.19,530.99 L798.41,530.78 L799.64,530.61 L800.88,530.46 L802.14,530.35 L803.4,530.26 L804.67,530.21 L805.93,530.2 L807.19,530.22 L808.44,530.27 L809.68,530.35 L810.91,530.46 L812.12,530.61 L813.3,530.79 L814.47,531 Z" fill="none" stroke="#f6f6f6" stroke-width="3.6"/>
<path d="M815.6,531.24 L816.71,531.51 L817.78,531.81 L818.81,532.14 L819.81,532.5 L820.76,532.88 L821.67,533.29 L822.53,533.72 L823.34,534.18 L824.1,534.65 L824.8,535.15 L825.45,535.67 L826.04,536.21 L826.57,536.76 L827.04,537.33 L827.45,537.91 L827.8,538.5 L828.08,539.1 L828.3,539.71 L828.45,540.33 L828.53,540.95 L828.55,541.58 L828.51,542.21 L828.39,542.84 L828.21,543.46 L827.97,544.09 L827.66,544.7 L827.29,545.31 L826.85,545.92 L826.36,546.51 L825.8,547.09 L825.18,547.66 L824.51,548.21 L823.78,548.74 L823,549.26 L822.17,549.76 L821.29,550.24 L820.36,550.69 L819.39,551.12 L818.38,551.53 L817.33,551.91 L816.25,552.27 L815.13,552.6 L813.98,552.9 L812.81,553.17 L811.61,553.41 L810.39,553.62 L809.16,553.79 L807.92,553.94 L806.66,554.05 L805.4,554.14 L804.13,554.19 L802.87,554.2 L801.61,554.18 L800.36,554.13 L799.12,554.05 L797.89,553.94 L796.68,553.79 L795.5,553.61 L794.33,553.4 L793.2,553.16 L792.09,552.89 L791.02,552.59 L789.99,552.26 L788.99,551.9 L788.04,551.52 L787.13,551.11 L786.27,550.68 L785.46,550.22 L784.7,549.75 L784,549.25 L783.35,548.73 L782.76,548.19 L782.23,547.64 L781.76,547.07 L781.35,546.49 L781,545.9 L780.72,545.3 L780.5,544.69 L780.35,544.07 L780.27,543.45 L780.25,542.82 L780.29,542.19 L780.41,541.56 L780.59,540.94 L780.83,540.31 L781.14,539.7 L781.51,539.09 L781.95,538.48 L782.44,537.89 L783,537.31 L783.62,536.74 L784.29,536.19 L785.02,535.66 L785.8,535.14 L786.63,534.64 L787.51,534.16 L788.44,533.71 L789.41,533.28 L790.42,532.87 L791.47,532.49 L792.55,532.13 L793.67,531.8 L794.82,531.5 L795.99,531.23 L797.19,530.99 L798.41,530.78 L799.64,530.61 L800.88,530.46 L802.14,530.35 L803.4,530.26 L804.67,530.21 L805.93,530.2 L807.19,530.22 L808.44,530.27 L809.68,530.35 L810.91,530.46 L812.12,530.61 L813.3,530.79 L814.47,531 Z" fill="url(#gCone)" stroke="#000" stroke-width="1.4"/>
<path d="M814.86,533.17 L815.88,533.42 L816.88,533.7 L817.84,534.01 L818.76,534.34 L819.65,534.69 L820.49,535.07 L821.29,535.48 L822.04,535.9 L822.75,536.34 L823.4,536.81 L824.01,537.29 L824.55,537.79 L825.05,538.3 L825.49,538.83 L825.87,539.37 L826.19,539.92 L826.45,540.48 L826.65,541.04 L826.79,541.62 L826.87,542.2 L826.89,542.78 L826.84,543.36 L826.74,543.95 L826.57,544.53 L826.35,545.11 L826.06,545.68 L825.71,546.25 L825.31,546.81 L824.85,547.36 L824.33,547.9 L823.76,548.42 L823.13,548.94 L822.46,549.44 L821.73,549.92 L820.96,550.38 L820.14,550.82 L819.28,551.25 L818.38,551.65 L817.44,552.03 L816.46,552.38 L815.45,552.71 L814.42,553.02 L813.35,553.29 L812.26,553.55 L811.15,553.77 L810.02,553.96 L808.87,554.13 L807.71,554.26 L806.55,554.37 L805.38,554.45 L804.2,554.49 L803.03,554.51 L801.86,554.49 L800.69,554.44 L799.54,554.37 L798.4,554.26 L797.28,554.12 L796.18,553.96 L795.09,553.76 L794.04,553.54 L793.01,553.29 L792.02,553.01 L791.06,552.7 L790.13,552.37 L789.25,552.02 L788.41,551.64 L787.61,551.23 L786.85,550.81 L786.15,550.37 L785.49,549.9 L784.89,549.42 L784.34,548.92 L783.85,548.41 L783.41,547.88 L783.03,547.34 L782.71,546.79 L782.45,546.23 L782.24,545.67 L782.1,545.09 L782.02,544.51 L782.01,543.93 L782.05,543.35 L782.16,542.76 L782.32,542.18 L782.55,541.6 L782.84,541.03 L783.18,540.46 L783.59,539.9 L784.05,539.35 L784.56,538.81 L785.14,538.29 L785.76,537.77 L786.44,537.27 L787.16,536.79 L787.94,536.33 L788.75,535.89 L789.61,535.46 L790.52,535.06 L791.46,534.68 L792.43,534.33 L793.44,534 L794.48,533.69 L795.55,533.42 L796.64,533.16 L797.75,532.94 L798.88,532.75 L800.02,532.58 L801.18,532.45 L802.35,532.34 L803.52,532.26 L804.69,532.22 L805.87,532.2 L807.04,532.22 L808.2,532.27 L809.35,532.34 L810.49,532.45 L811.62,532.59 L812.72,532.75 L813.8,532.95 Z" fill="none" stroke="#222" stroke-width="0.9"/>
<defs><clipPath id="csL"><path d="M815.6,531.24 L816.71,531.51 L817.78,531.81 L818.81,532.14 L819.81,532.5 L820.76,532.88 L821.67,533.29 L822.53,533.72 L823.34,534.18 L824.1,534.65 L824.8,535.15 L825.45,535.67 L826.04,536.21 L826.57,536.76 L827.04,537.33 L827.45,537.91 L827.8,538.5 L828.08,539.1 L828.3,539.71 L828.45,540.33 L828.53,540.95 L828.55,541.58 L828.51,542.21 L828.39,542.84 L828.21,543.46 L827.97,544.09 L827.66,544.7 L827.29,545.31 L826.85,545.92 L826.36,546.51 L825.8,547.09 L825.18,547.66 L824.51,548.21 L823.78,548.74 L823,549.26 L822.17,549.76 L821.29,550.24 L820.36,550.69 L819.39,551.12 L818.38,551.53 L817.33,551.91 L816.25,552.27 L815.13,552.6 L813.98,552.9 L812.81,553.17 L811.61,553.41 L810.39,553.62 L809.16,553.79 L807.92,553.94 L806.66,554.05 L805.4,554.14 L804.13,554.19 L802.87,554.2 L801.61,554.18 L800.36,554.13 L799.12,554.05 L797.89,553.94 L796.68,553.79 L795.5,553.61 L794.33,553.4 L793.2,553.16 L792.09,552.89 L791.02,552.59 L789.99,552.26 L788.99,551.9 L788.04,551.52 L787.13,551.11 L786.27,550.68 L785.46,550.22 L784.7,549.75 L784,549.25 L783.35,548.73 L782.76,548.19 L782.23,547.64 L781.76,547.07 L781.35,546.49 L781,545.9 L780.72,545.3 L780.5,544.69 L780.35,544.07 L780.27,543.45 L780.25,542.82 L780.29,542.19 L780.41,541.56 L780.59,540.94 L780.83,540.31 L781.14,539.7 L781.51,539.09 L781.95,538.48 L782.44,537.89 L783,537.31 L783.62,536.74 L784.29,536.19 L785.02,535.66 L785.8,535.14 L786.63,534.64 L787.51,534.16 L788.44,533.71 L789.41,533.28 L790.42,532.87 L791.47,532.49 L792.55,532.13 L793.67,531.8 L794.82,531.5 L795.99,531.23 L797.19,530.99 L798.41,530.78 L799.64,530.61 L800.88,530.46 L802.14,530.35 L803.4,530.26 L804.67,530.21 L805.93,530.2 L807.19,530.22 L808.44,530.27 L809.68,530.35 L810.91,530.46 L812.12,530.61 L813.3,530.79 L814.47,531 Z"/></clipPath></defs>
<path d="M812.04,545.02 L812.75,545.2 L813.45,545.39 L814.11,545.6 L814.76,545.83 L815.37,546.08 L815.96,546.35 L816.51,546.62 L817.04,546.92 L817.52,547.23 L817.98,547.55 L818.4,547.88 L818.78,548.23 L819.12,548.59 L819.43,548.95 L819.69,549.33 L819.92,549.71 L820.1,550.1 L820.24,550.49 L820.33,550.89 L820.39,551.3 L820.4,551.7 L820.37,552.11 L820.3,552.51 L820.18,552.92 L820.03,553.32 L819.83,553.72 L819.59,554.11 L819.31,554.5 L818.98,554.88 L818.62,555.26 L818.23,555.62 L817.79,555.98 L817.32,556.33 L816.82,556.66 L816.28,556.98 L815.71,557.29 L815.12,557.58 L814.49,557.86 L813.84,558.13 L813.16,558.37 L812.46,558.6 L811.74,558.81 L810.99,559.01 L810.24,559.18 L809.46,559.34 L808.68,559.47 L807.88,559.59 L807.08,559.68 L806.27,559.75 L805.45,559.81 L804.64,559.84 L803.82,559.85 L803.01,559.84 L802.2,559.81 L801.4,559.75 L800.61,559.68 L799.83,559.58 L799.06,559.47 L798.31,559.33 L797.58,559.18 L796.86,559 L796.17,558.81 L795.5,558.6 L794.86,558.37 L794.25,558.12 L793.66,557.85 L793.1,557.58 L792.58,557.28 L792.09,556.97 L791.64,556.65 L791.22,556.32 L790.84,555.97 L790.49,555.61 L790.19,555.25 L789.92,554.87 L789.7,554.49 L789.52,554.1 L789.38,553.71 L789.28,553.31 L789.23,552.9 L789.21,552.5 L789.24,552.09 L789.32,551.69 L789.43,551.28 L789.59,550.88 L789.79,550.48 L790.03,550.09 L790.31,549.7 L790.63,549.32 L790.99,548.94 L791.39,548.58 L791.82,548.22 L792.29,547.87 L792.8,547.54 L793.33,547.22 L793.9,546.91 L794.5,546.62 L795.13,546.34 L795.78,546.07 L796.46,545.83 L797.16,545.6 L797.88,545.39 L798.62,545.19 L799.38,545.02 L800.15,544.86 L800.94,544.73 L801.73,544.61 L802.54,544.52 L803.35,544.45 L804.16,544.39 L804.98,544.36 L805.8,544.35 L806.61,544.36 L807.42,544.39 L808.22,544.45 L809.01,544.52 L809.79,544.62 L810.56,544.73 L811.31,544.87 Z" fill="#fff" stroke="#000" stroke-width="1.2" clip-path="url(#csL)"/>
<path d="M815.6,531.24 L816.71,531.51 L817.78,531.81 L818.81,532.14 L819.81,532.5 L820.76,532.88 L821.67,533.29 L822.53,533.72 L823.34,534.18 L824.1,534.65 L824.8,535.15 L825.45,535.67 L826.04,536.21 L826.57,536.76 L827.04,537.33 L827.45,537.91 L827.8,538.5 L828.08,539.1 L828.3,539.71 L828.45,540.33 L828.53,540.95 L828.55,541.58 L828.51,542.21 L828.39,542.84 L828.21,543.46 L827.97,544.09 L827.66,544.7 L827.29,545.31 L826.85,545.92 L826.36,546.51 L825.8,547.09 L825.18,547.66 L824.51,548.21 L823.78,548.74 L823,549.26 L822.17,549.76 L821.29,550.24 L820.36,550.69 L819.39,551.12 L818.38,551.53 L817.33,551.91 L816.25,552.27 L815.13,552.6 L813.98,552.9 L812.81,553.17 L811.61,553.41 L810.39,553.62 L809.16,553.79 L807.92,553.94 L806.66,554.05 L805.4,554.14 L804.13,554.19 L802.87,554.2 L801.61,554.18 L800.36,554.13 L799.12,554.05 L797.89,553.94 L796.68,553.79 L795.5,553.61 L794.33,553.4 L793.2,553.16 L792.09,552.89 L791.02,552.59 L789.99,552.26 L788.99,551.9 L788.04,551.52 L787.13,551.11 L786.27,550.68 L785.46,550.22 L784.7,549.75 L784,549.25 L783.35,548.73 L782.76,548.19 L782.23,547.64 L781.76,547.07 L781.35,546.49 L781,545.9 L780.72,545.3 L780.5,544.69 L780.35,544.07 L780.27,543.45 L780.25,542.82 L780.29,542.19 L780.41,541.56 L780.59,540.94 L780.83,540.31 L781.14,539.7 L781.51,539.09 L781.95,538.48 L782.44,537.89 L783,537.31 L783.62,536.74 L784.29,536.19 L785.02,535.66 L785.8,535.14 L786.63,534.64 L787.51,534.16 L788.44,533.71 L789.41,533.28 L790.42,532.87 L791.47,532.49 L792.55,532.13 L793.67,531.8 L794.82,531.5 L795.99,531.23 L797.19,530.99 L798.41,530.78 L799.64,530.61 L800.88,530.46 L802.14,530.35 L803.4,530.26 L804.67,530.21 L805.93,530.2 L807.19,530.22 L808.44,530.27 L809.68,530.35 L810.91,530.46 L812.12,530.61 L813.3,530.79 L814.47,531 Z" fill="none" stroke="#000" stroke-width="1.4"/>
<line x1="777.45" y1="567.55" x2="784.68" y2="560.48" stroke="#f4f4f4" stroke-width="4" stroke-linecap="round"/>
<line x1="777.45" y1="567.55" x2="784.68" y2="560.48" stroke="#1a1a1a" stroke-width="2.1"/>
<line x1="785.06" y1="568.44" x2="792.12" y2="561.54" stroke="#f4f4f4" stroke-width="4" stroke-linecap="round"/>
<line x1="785.06" y1="568.44" x2="792.12" y2="561.54" stroke="#1a1a1a" stroke-width="2.1"/>
<path d="M1021.27,501.85 L1021.29,502.3 L1021.72,512.82 L1021.71,512.37 Z" fill="#969696" stroke="#969696" stroke-width="0.6"/>
<path d="M1021.29,502.3 L1021.29,502.75 L1021.72,513.27 L1021.72,512.82 Z" fill="#969696" stroke="#969696" stroke-width="0.6"/>
<path d="M1021.29,502.75 L1021.27,503.2 L1021.71,513.72 L1021.72,513.27 Z" fill="#969696" stroke="#969696" stroke-width="0.6"/>
<path d="M1021.27,503.2 L1021.25,503.65 L1021.68,514.17 L1021.71,513.72 Z" fill="#969696" stroke="#969696" stroke-width="0.6"/>
<path d="M1021.25,503.65 L1021.2,504.1 L1021.64,514.62 L1021.68,514.17 Z" fill="#969696" stroke="#969696" stroke-width="0.6"/>
<path d="M1021.2,504.1 L1021.15,504.55 L1021.58,515.07 L1021.64,514.62 Z" fill="#969696" stroke="#969696" stroke-width="0.6"/>
<path d="M1021.15,504.55 L1021.08,505 L1021.51,515.52 L1021.58,515.07 Z" fill="#969696" stroke="#969696" stroke-width="0.6"/>
<path d="M1021.08,505 L1021,505.45 L1021.43,515.97 L1021.51,515.52 Z" fill="#969696" stroke="#969696" stroke-width="0.6"/>
<path d="M1021,505.45 L1020.9,505.9 L1021.33,516.42 L1021.43,515.97 Z" fill="#969696" stroke="#969696" stroke-width="0.6"/>
<path d="M1020.9,505.9 L1020.79,506.35 L1021.22,516.87 L1021.33,516.42 Z" fill="#969696" stroke="#969696" stroke-width="0.6"/>
<path d="M1020.79,506.35 L1020.66,506.79 L1021.1,517.31 L1021.22,516.87 Z" fill="#969696" stroke="#969696" stroke-width="0.6"/>
<path d="M1020.66,506.79 L1020.53,507.24 L1020.96,517.76 L1021.1,517.31 Z" fill="#969696" stroke="#969696" stroke-width="0.6"/>
<path d="M1020.53,507.24 L1020.37,507.69 L1020.81,518.21 L1020.96,517.76 Z" fill="#969696" stroke="#969696" stroke-width="0.6"/>
<path d="M1020.37,507.69 L1020.21,508.13 L1020.64,518.65 L1020.81,518.21 Z" fill="#969696" stroke="#969696" stroke-width="0.6"/>
<path d="M1020.21,508.13 L1020.03,508.57 L1020.46,519.09 L1020.64,518.65 Z" fill="#969696" stroke="#969696" stroke-width="0.6"/>
<path d="M1020.03,508.57 L1019.84,509.02 L1020.27,519.53 L1020.46,519.09 Z" fill="#969696" stroke="#969696" stroke-width="0.6"/>
<path d="M1019.84,509.02 L1019.63,509.46 L1020.06,519.97 L1020.27,519.53 Z" fill="#969696" stroke="#969696" stroke-width="0.6"/>
<path d="M1019.63,509.46 L1019.41,509.89 L1019.85,520.41 L1020.06,519.97 Z" fill="#969696" stroke="#969696" stroke-width="0.6"/>
<path d="M1019.41,509.89 L1019.18,510.33 L1019.61,520.85 L1019.85,520.41 Z" fill="#969696" stroke="#969696" stroke-width="0.6"/>
<path d="M1019.18,510.33 L1018.93,510.76 L1019.37,521.28 L1019.61,520.85 Z" fill="#969696" stroke="#969696" stroke-width="0.6"/>
<path d="M1018.93,510.76 L1018.67,511.2 L1019.11,521.72 L1019.37,521.28 Z" fill="#969696" stroke="#969696" stroke-width="0.6"/>
<path d="M1018.67,511.2 L1018.4,511.63 L1018.83,522.15 L1019.11,521.72 Z" fill="#969696" stroke="#969696" stroke-width="0.6"/>
<path d="M1018.4,511.63 L1018.11,512.05 L1018.55,522.57 L1018.83,522.15 Z" fill="#969696" stroke="#969696" stroke-width="0.6"/>
<path d="M1018.11,512.05 L1017.82,512.48 L1018.25,523 L1018.55,522.57 Z" fill="#969696" stroke="#969696" stroke-width="0.6"/>
<path d="M1017.82,512.48 L1017.5,512.9 L1017.94,523.42 L1018.25,523 Z" fill="#969696" stroke="#969696" stroke-width="0.6"/>
<path d="M1017.5,512.9 L1017.18,513.32 L1017.62,523.84 L1017.94,523.42 Z" fill="#969696" stroke="#969696" stroke-width="0.6"/>
<path d="M1017.18,513.32 L1016.84,513.74 L1017.28,524.26 L1017.62,523.84 Z" fill="#969696" stroke="#969696" stroke-width="0.6"/>
<path d="M1016.84,513.74 L1016.5,514.15 L1016.93,524.67 L1017.28,524.26 Z" fill="#969696" stroke="#969696" stroke-width="0.6"/>
<path d="M1016.5,514.15 L1016.13,514.56 L1016.57,525.08 L1016.93,524.67 Z" fill="#969696" stroke="#969696" stroke-width="0.6"/>
<path d="M1016.13,514.56 L1015.76,514.97 L1016.2,525.49 L1016.57,525.08 Z" fill="#969696" stroke="#969696" stroke-width="0.6"/>
<path d="M1015.76,514.97 L942.81,592.85 L943.25,603.37 L1016.2,525.49 Z" fill="#a8a8a8" stroke="#a8a8a8" stroke-width="0.6"/>
<path d="M942.81,592.85 L942.42,593.25 L942.85,603.77 L943.25,603.37 Z" fill="#a7a7a7" stroke="#a7a7a7" stroke-width="0.6"/>
<path d="M942.42,593.25 L942.01,593.65 L942.44,604.17 L942.85,603.77 Z" fill="#a6a6a6" stroke="#a6a6a6" stroke-width="0.6"/>
<path d="M942.01,593.65 L941.58,594.04 L942.02,604.56 L942.44,604.17 Z" fill="#a5a5a5" stroke="#a5a5a5" stroke-width="0.6"/>
<path d="M941.58,594.04 L941.15,594.43 L941.59,604.95 L942.02,604.56 Z" fill="#a4a4a4" stroke="#a4a4a4" stroke-width="0.6"/>
<path d="M941.15,594.43 L940.71,594.82 L941.14,605.34 L941.59,604.95 Z" fill="#a3a3a3" stroke="#a3a3a3" stroke-width="0.6"/>
<path d="M940.71,594.82 L940.25,595.2 L940.68,605.72 L941.14,605.34 Z" fill="#a2a2a2" stroke="#a2a2a2" stroke-width="0.6"/>
<path d="M940.25,595.2 L939.78,595.58 L940.22,606.1 L940.68,605.72 Z" fill="#a2a2a2" stroke="#a2a2a2" stroke-width="0.6"/>
<path d="M939.78,595.58 L939.3,595.95 L939.74,606.47 L940.22,606.1 Z" fill="#a1a1a1" stroke="#a1a1a1" stroke-width="0.6"/>
<path d="M939.3,595.95 L938.81,596.32 L939.25,606.84 L939.74,606.47 Z" fill="#a0a0a0" stroke="#a0a0a0" stroke-width="0.6"/>
<path d="M938.81,596.32 L938.31,596.68 L938.75,607.2 L939.25,606.84 Z" fill="#9f9f9f" stroke="#9f9f9f" stroke-width="0.6"/>
<path d="M938.31,596.68 L937.8,597.04 L938.23,607.56 L938.75,607.2 Z" fill="#9e9e9e" stroke="#9e9e9e" stroke-width="0.6"/>
<path d="M937.8,597.04 L937.28,597.39 L937.71,607.91 L938.23,607.56 Z" fill="#9d9d9d" stroke="#9d9d9d" stroke-width="0.6"/>
<path d="M937.28,597.39 L936.74,597.74 L937.18,608.26 L937.71,607.91 Z" fill="#9c9c9c" stroke="#9c9c9c" stroke-width="0.6"/>
<path d="M936.74,597.74 L936.2,598.09 L936.64,608.6 L937.18,608.26 Z" fill="#9b9b9b" stroke="#9b9b9b" stroke-width="0.6"/>
<path d="M936.2,598.09 L935.65,598.42 L936.08,608.94 L936.64,608.6 Z" fill="#9b9b9b" stroke="#9b9b9b" stroke-width="0.6"/>
<path d="M935.65,598.42 L935.08,598.76 L935.52,609.28 L936.08,608.94 Z" fill="#9a9a9a" stroke="#9a9a9a" stroke-width="0.6"/>
<path d="M935.08,598.76 L934.51,599.09 L934.95,609.61 L935.52,609.28 Z" fill="#999999" stroke="#999999" stroke-width="0.6"/>
<path d="M934.51,599.09 L933.93,599.41 L934.36,609.93 L934.95,609.61 Z" fill="#989898" stroke="#989898" stroke-width="0.6"/>
<path d="M933.93,599.41 L933.34,599.73 L933.77,610.25 L934.36,609.93 Z" fill="#979797" stroke="#979797" stroke-width="0.6"/>
<path d="M933.34,599.73 L932.74,600.04 L933.17,610.56 L933.77,610.25 Z" fill="#969696" stroke="#969696" stroke-width="0.6"/>
<path d="M932.74,600.04 L932.13,600.34 L932.56,610.86 L933.17,610.56 Z" fill="#959595" stroke="#959595" stroke-width="0.6"/>
<path d="M932.13,600.34 L931.51,600.64 L931.94,611.16 L932.56,610.86 Z" fill="#949494" stroke="#949494" stroke-width="0.6"/>
<path d="M931.51,600.64 L930.88,600.94 L931.32,611.46 L931.94,611.16 Z" fill="#939393" stroke="#939393" stroke-width="0.6"/>
<path d="M930.88,600.94 L930.25,601.23 L930.68,611.75 L931.32,611.46 Z" fill="#939393" stroke="#939393" stroke-width="0.6"/>
<path d="M930.25,601.23 L929.6,601.51 L930.04,612.03 L930.68,611.75 Z" fill="#929292" stroke="#929292" stroke-width="0.6"/>
<path d="M929.6,601.51 L928.95,601.79 L929.38,612.31 L930.04,612.03 Z" fill="#919191" stroke="#919191" stroke-width="0.6"/>
<path d="M928.95,601.79 L928.29,602.06 L928.72,612.58 L929.38,612.31 Z" fill="#909090" stroke="#909090" stroke-width="0.6"/>
<path d="M928.29,602.06 L927.62,602.32 L928.06,612.84 L928.72,612.58 Z" fill="#8f8f8f" stroke="#8f8f8f" stroke-width="0.6"/>
<path d="M927.62,602.32 L926.95,602.58 L927.38,613.1 L928.06,612.84 Z" fill="#8e8e8e" stroke="#8e8e8e" stroke-width="0.6"/>
<path d="M926.95,602.58 L926.26,602.83 L926.7,613.35 L927.38,613.1 Z" fill="#8d8d8d" stroke="#8d8d8d" stroke-width="0.6"/>
<path d="M926.26,602.83 L925.57,603.07 L926.01,613.59 L926.7,613.35 Z" fill="#8c8c8c" stroke="#8c8c8c" stroke-width="0.6"/>
<path d="M925.57,603.07 L924.88,603.31 L925.31,613.83 L926.01,613.59 Z" fill="#8c8c8c" stroke="#8c8c8c" stroke-width="0.6"/>
<path d="M924.88,603.31 L924.18,603.54 L924.61,614.06 L925.31,613.83 Z" fill="#8b8b8b" stroke="#8b8b8b" stroke-width="0.6"/>
<path d="M924.18,603.54 L923.47,603.76 L923.9,614.28 L924.61,614.06 Z" fill="#8a8a8a" stroke="#8a8a8a" stroke-width="0.6"/>
<path d="M923.47,603.76 L922.75,603.98 L923.19,614.5 L923.9,614.28 Z" fill="#898989" stroke="#898989" stroke-width="0.6"/>
<path d="M922.75,603.98 L922.03,604.19 L922.46,614.71 L923.19,614.5 Z" fill="#888888" stroke="#888888" stroke-width="0.6"/>
<path d="M922.03,604.19 L921.3,604.39 L921.74,614.91 L922.46,614.71 Z" fill="#878787" stroke="#878787" stroke-width="0.6"/>
<path d="M921.3,604.39 L920.57,604.59 L921,615.11 L921.74,614.91 Z" fill="#868686" stroke="#868686" stroke-width="0.6"/>
<path d="M920.57,604.59 L919.83,604.78 L920.27,615.3 L921,615.11 Z" fill="#858585" stroke="#858585" stroke-width="0.6"/>
<path d="M919.83,604.78 L919.09,604.96 L919.52,615.48 L920.27,615.3 Z" fill="#858585" stroke="#858585" stroke-width="0.6"/>
<path d="M919.09,604.96 L918.34,605.14 L918.78,615.66 L919.52,615.48 Z" fill="#848484" stroke="#848484" stroke-width="0.6"/>
<path d="M918.34,605.14 L917.59,605.3 L918.02,615.82 L918.78,615.66 Z" fill="#838383" stroke="#838383" stroke-width="0.6"/>
<path d="M917.59,605.3 L916.83,605.46 L917.27,615.98 L918.02,615.82 Z" fill="#828282" stroke="#828282" stroke-width="0.6"/>
<path d="M916.83,605.46 L916.07,605.62 L916.5,616.14 L917.27,615.98 Z" fill="#818181" stroke="#818181" stroke-width="0.6"/>
<path d="M916.07,605.62 L915.3,605.76 L915.74,616.28 L916.5,616.14 Z" fill="#808080" stroke="#808080" stroke-width="0.6"/>
<path d="M915.3,605.76 L914.53,605.9 L914.97,616.42 L915.74,616.28 Z" fill="#7f7f7f" stroke="#7f7f7f" stroke-width="0.6"/>
<path d="M914.53,605.9 L913.76,606.03 L914.2,616.55 L914.97,616.42 Z" fill="#7e7e7e" stroke="#7e7e7e" stroke-width="0.6"/>
<path d="M913.76,606.03 L912.99,606.15 L913.42,616.67 L914.2,616.55 Z" fill="#7e7e7e" stroke="#7e7e7e" stroke-width="0.6"/>
<path d="M912.99,606.15 L912.21,606.27 L912.64,616.79 L913.42,616.67 Z" fill="#7d7d7d" stroke="#7d7d7d" stroke-width="0.6"/>
<path d="M912.21,606.27 L911.43,606.38 L911.86,616.9 L912.64,616.79 Z" fill="#7c7c7c" stroke="#7c7c7c" stroke-width="0.6"/>
<path d="M911.43,606.38 L910.64,606.48 L911.08,617 L911.86,616.9 Z" fill="#7b7b7b" stroke="#7b7b7b" stroke-width="0.6"/>
<path d="M910.64,606.48 L909.86,606.57 L910.29,617.09 L911.08,617 Z" fill="#7a7a7a" stroke="#7a7a7a" stroke-width="0.6"/>
<path d="M909.86,606.57 L909.07,606.65 L909.5,617.17 L910.29,617.09 Z" fill="#797979" stroke="#797979" stroke-width="0.6"/>
<path d="M909.07,606.65 L908.28,606.73 L908.71,617.25 L909.5,617.17 Z" fill="#787878" stroke="#787878" stroke-width="0.6"/>
<path d="M908.28,606.73 L907.49,606.8 L907.92,617.32 L908.71,617.25 Z" fill="#777777" stroke="#777777" stroke-width="0.6"/>
<path d="M907.49,606.8 L906.69,606.86 L907.13,617.38 L907.92,617.32 Z" fill="#777777" stroke="#777777" stroke-width="0.6"/>
<path d="M906.69,606.86 L905.9,606.92 L906.33,617.43 L907.13,617.38 Z" fill="#767676" stroke="#767676" stroke-width="0.6"/>
<path d="M905.9,606.92 L905.1,606.96 L905.54,617.48 L906.33,617.43 Z" fill="#757575" stroke="#757575" stroke-width="0.6"/>
<path d="M905.1,606.96 L904.31,607 L904.74,617.52 L905.54,617.48 Z" fill="#747474" stroke="#747474" stroke-width="0.6"/>
<path d="M904.31,607 L903.51,607.03 L903.95,617.55 L904.74,617.52 Z" fill="#737373" stroke="#737373" stroke-width="0.6"/>
<path d="M903.51,607.03 L902.72,607.05 L903.15,617.57 L903.95,617.55 Z" fill="#727272" stroke="#727272" stroke-width="0.6"/>
<path d="M902.72,607.05 L901.92,607.07 L902.36,617.59 L903.15,617.57 Z" fill="#717171" stroke="#717171" stroke-width="0.6"/>
<path d="M901.92,607.07 L901.12,607.07 L901.56,617.59 L902.36,617.59 Z" fill="#707070" stroke="#707070" stroke-width="0.6"/>
<path d="M901.12,607.07 L900.33,607.07 L900.77,617.59 L901.56,617.59 Z" fill="#707070" stroke="#707070" stroke-width="0.6"/>
<path d="M900.33,607.07 L899.54,607.06 L899.97,617.58 L900.77,617.59 Z" fill="#707070" stroke="#707070" stroke-width="0.6"/>
<path d="M899.54,607.06 L898.74,607.05 L899.18,617.57 L899.97,617.58 Z" fill="#707070" stroke="#707070" stroke-width="0.6"/>
<path d="M898.74,607.05 L897.95,607.02 L898.39,617.54 L899.18,617.57 Z" fill="#6f6f6f" stroke="#6f6f6f" stroke-width="0.6"/>
<path d="M897.95,607.02 L897.16,606.99 L897.6,617.51 L898.39,617.54 Z" fill="#6f6f6f" stroke="#6f6f6f" stroke-width="0.6"/>
<path d="M897.16,606.99 L896.37,606.95 L896.81,617.47 L897.6,617.51 Z" fill="#6f6f6f" stroke="#6f6f6f" stroke-width="0.6"/>
<path d="M896.37,606.95 L895.59,606.9 L896.02,617.42 L896.81,617.47 Z" fill="#6f6f6f" stroke="#6f6f6f" stroke-width="0.6"/>
<path d="M895.59,606.9 L894.8,606.84 L895.24,617.36 L896.02,617.42 Z" fill="#6f6f6f" stroke="#6f6f6f" stroke-width="0.6"/>
<path d="M894.8,606.84 L894.02,606.78 L894.46,617.3 L895.24,617.36 Z" fill="#6f6f6f" stroke="#6f6f6f" stroke-width="0.6"/>
<path d="M894.02,606.78 L893.24,606.71 L893.68,617.23 L894.46,617.3 Z" fill="#6f6f6f" stroke="#6f6f6f" stroke-width="0.6"/>
<path d="M893.24,606.71 L892.47,606.63 L892.9,617.15 L893.68,617.23 Z" fill="#6e6e6e" stroke="#6e6e6e" stroke-width="0.6"/>
<path d="M892.47,606.63 L891.69,606.54 L892.13,617.06 L892.9,617.15 Z" fill="#6e6e6e" stroke="#6e6e6e" stroke-width="0.6"/>
<path d="M891.69,606.54 L890.93,606.45 L891.36,616.97 L892.13,617.06 Z" fill="#6e6e6e" stroke="#6e6e6e" stroke-width="0.6"/>
<path d="M890.93,606.45 L890.16,606.35 L890.6,616.87 L891.36,616.97 Z" fill="#6e6e6e" stroke="#6e6e6e" stroke-width="0.6"/>
<path d="M890.16,606.35 L889.4,606.24 L889.84,616.76 L890.6,616.87 Z" fill="#6e6e6e" stroke="#6e6e6e" stroke-width="0.6"/>
<path d="M889.4,606.24 L888.64,606.12 L889.08,616.64 L889.84,616.76 Z" fill="#6e6e6e" stroke="#6e6e6e" stroke-width="0.6"/>
<path d="M888.64,606.12 L887.89,605.99 L888.33,616.51 L889.08,616.64 Z" fill="#6d6d6d" stroke="#6d6d6d" stroke-width="0.6"/>
<path d="M887.89,605.99 L887.14,605.86 L887.58,616.38 L888.33,616.51 Z" fill="#6d6d6d" stroke="#6d6d6d" stroke-width="0.6"/>
<path d="M887.14,605.86 L886.4,605.72 L886.83,616.24 L887.58,616.38 Z" fill="#6d6d6d" stroke="#6d6d6d" stroke-width="0.6"/>
<path d="M886.4,605.72 L885.66,605.57 L886.1,616.09 L886.83,616.24 Z" fill="#6d6d6d" stroke="#6d6d6d" stroke-width="0.6"/>
<path d="M885.66,605.57 L884.93,605.42 L885.36,615.94 L886.1,616.09 Z" fill="#6d6d6d" stroke="#6d6d6d" stroke-width="0.6"/>
<path d="M884.93,605.42 L884.2,605.26 L884.64,615.77 L885.36,615.94 Z" fill="#6d6d6d" stroke="#6d6d6d" stroke-width="0.6"/>
<path d="M884.2,605.26 L883.48,605.09 L883.91,615.61 L884.64,615.77 Z" fill="#6d6d6d" stroke="#6d6d6d" stroke-width="0.6"/>
<path d="M883.48,605.09 L882.76,604.91 L883.2,615.43 L883.91,615.61 Z" fill="#6c6c6c" stroke="#6c6c6c" stroke-width="0.6"/>
<path d="M882.76,604.91 L882.05,604.73 L882.49,615.24 L883.2,615.43 Z" fill="#6c6c6c" stroke="#6c6c6c" stroke-width="0.6"/>
<path d="M882.05,604.73 L881.35,604.53 L881.79,615.05 L882.49,615.24 Z" fill="#6c6c6c" stroke="#6c6c6c" stroke-width="0.6"/>
<path d="M881.35,604.53 L880.66,604.34 L881.09,614.85 L881.79,615.05 Z" fill="#6a6a6a" stroke="#6a6a6a" stroke-width="0.6"/>
<path d="M880.66,604.34 L879.97,604.13 L880.4,614.65 L881.09,614.85 Z" fill="#686868" stroke="#686868" stroke-width="0.6"/>
<path d="M879.97,604.13 L879.28,603.92 L879.72,614.44 L880.4,614.65 Z" fill="#696969" stroke="#696969" stroke-width="0.6"/>
<path d="M879.28,603.92 L878.61,603.7 L879.04,614.22 L879.72,614.44 Z" fill="#696969" stroke="#696969" stroke-width="0.6"/>
<path d="M878.61,603.7 L877.94,603.47 L878.38,613.99 L879.04,614.22 Z" fill="#6a6a6a" stroke="#6a6a6a" stroke-width="0.6"/>
<path d="M877.94,603.47 L877.28,603.24 L877.72,613.76 L878.38,613.99 Z" fill="#6b6b6b" stroke="#6b6b6b" stroke-width="0.6"/>
<path d="M877.28,603.24 L876.63,603 L877.07,613.52 L877.72,613.76 Z" fill="#6b6b6b" stroke="#6b6b6b" stroke-width="0.6"/>
<path d="M876.63,603 L875.99,602.75 L876.42,613.27 L877.07,613.52 Z" fill="#6c6c6c" stroke="#6c6c6c" stroke-width="0.6"/>
<path d="M875.99,602.75 L875.35,602.5 L875.79,613.02 L876.42,613.27 Z" fill="#6c6c6c" stroke="#6c6c6c" stroke-width="0.6"/>
<path d="M875.35,602.5 L874.72,602.24 L875.16,612.76 L875.79,613.02 Z" fill="#6d6d6d" stroke="#6d6d6d" stroke-width="0.6"/>
<path d="M874.72,602.24 L874.1,601.98 L874.54,612.5 L875.16,612.76 Z" fill="#6d6d6d" stroke="#6d6d6d" stroke-width="0.6"/>
<path d="M874.1,601.98 L873.49,601.71 L873.93,612.22 L874.54,612.5 Z" fill="#6e6e6e" stroke="#6e6e6e" stroke-width="0.6"/>
<path d="M873.49,601.71 L872.89,601.43 L873.33,611.95 L873.93,612.22 Z" fill="#6e6e6e" stroke="#6e6e6e" stroke-width="0.6"/>
<path d="M872.89,601.43 L872.3,601.14 L872.74,611.66 L873.33,611.95 Z" fill="#6f6f6f" stroke="#6f6f6f" stroke-width="0.6"/>
<path d="M872.3,601.14 L871.72,600.85 L872.16,611.37 L872.74,611.66 Z" fill="#707070" stroke="#707070" stroke-width="0.6"/>
<path d="M871.72,600.85 L871.15,600.56 L871.58,611.08 L872.16,611.37 Z" fill="#707070" stroke="#707070" stroke-width="0.6"/>
<path d="M871.15,600.56 L870.58,600.26 L871.02,610.77 L871.58,611.08 Z" fill="#717171" stroke="#717171" stroke-width="0.6"/>
<path d="M870.58,600.26 L870.03,599.95 L870.47,610.47 L871.02,610.77 Z" fill="#717171" stroke="#717171" stroke-width="0.6"/>
<path d="M870.03,599.95 L869.49,599.63 L869.92,610.15 L870.47,610.47 Z" fill="#727272" stroke="#727272" stroke-width="0.6"/>
<path d="M869.49,599.63 L868.96,599.32 L869.39,609.83 L869.92,610.15 Z" fill="#727272" stroke="#727272" stroke-width="0.6"/>
<path d="M868.96,599.32 L868.43,598.99 L868.87,609.51 L869.39,609.83 Z" fill="#737373" stroke="#737373" stroke-width="0.6"/>
<path d="M868.43,598.99 L867.92,598.66 L868.36,609.18 L868.87,609.51 Z" fill="#747474" stroke="#747474" stroke-width="0.6"/>
<path d="M867.92,598.66 L867.42,598.33 L867.86,608.84 L868.36,609.18 Z" fill="#747474" stroke="#747474" stroke-width="0.6"/>
<path d="M867.42,598.33 L866.93,597.99 L867.37,608.5 L867.86,608.84 Z" fill="#757575" stroke="#757575" stroke-width="0.6"/>
<path d="M866.93,597.99 L866.45,597.64 L866.89,608.16 L867.37,608.5 Z" fill="#757575" stroke="#757575" stroke-width="0.6"/>
<path d="M866.45,597.64 L865.99,597.29 L866.42,607.81 L866.89,608.16 Z" fill="#767676" stroke="#767676" stroke-width="0.6"/>
<path d="M865.99,597.29 L865.53,596.93 L865.96,607.45 L866.42,607.81 Z" fill="#767676" stroke="#767676" stroke-width="0.6"/>
<path d="M865.53,596.93 L865.08,596.57 L865.52,607.09 L865.96,607.45 Z" fill="#777777" stroke="#777777" stroke-width="0.6"/>
<path d="M865.08,596.57 L864.65,596.21 L865.09,606.73 L865.52,607.09 Z" fill="#777777" stroke="#777777" stroke-width="0.6"/>
<path d="M864.65,596.21 L864.23,595.84 L864.66,606.36 L865.09,606.73 Z" fill="#787878" stroke="#787878" stroke-width="0.6"/>
<path d="M864.23,595.84 L863.82,595.47 L864.25,605.99 L864.66,606.36 Z" fill="#797979" stroke="#797979" stroke-width="0.6"/>
<path d="M863.82,595.47 L863.42,595.09 L863.86,605.61 L864.25,605.99 Z" fill="#797979" stroke="#797979" stroke-width="0.6"/>
<path d="M863.42,595.09 L863.03,594.71 L863.47,605.22 L863.86,605.61 Z" fill="#7a7a7a" stroke="#7a7a7a" stroke-width="0.6"/>
<path d="M863.03,594.71 L862.66,594.32 L863.1,604.84 L863.47,605.22 Z" fill="#7a7a7a" stroke="#7a7a7a" stroke-width="0.6"/>
<path d="M862.66,594.32 L862.3,593.93 L862.74,604.45 L863.1,604.84 Z" fill="#7b7b7b" stroke="#7b7b7b" stroke-width="0.6"/>
<path d="M862.3,593.93 L861.95,593.54 L862.39,604.05 L862.74,604.45 Z" fill="#7b7b7b" stroke="#7b7b7b" stroke-width="0.6"/>
<path d="M861.95,593.54 L861.61,593.14 L862.05,603.66 L862.39,604.05 Z" fill="#7c7c7c" stroke="#7c7c7c" stroke-width="0.6"/>
<path d="M861.61,593.14 L861.29,592.74 L861.73,603.25 L862.05,603.66 Z" fill="#7d7d7d" stroke="#7d7d7d" stroke-width="0.6"/>
<path d="M861.29,592.74 L860.98,592.33 L861.42,602.85 L861.73,603.25 Z" fill="#7d7d7d" stroke="#7d7d7d" stroke-width="0.6"/>
<path d="M860.98,592.33 L860.68,591.92 L861.12,602.44 L861.42,602.85 Z" fill="#7e7e7e" stroke="#7e7e7e" stroke-width="0.6"/>
<path d="M860.68,591.92 L860.4,591.51 L860.83,602.03 L861.12,602.44 Z" fill="#7e7e7e" stroke="#7e7e7e" stroke-width="0.6"/>
<path d="M860.4,591.51 L860.12,591.1 L860.56,601.62 L860.83,602.03 Z" fill="#7f7f7f" stroke="#7f7f7f" stroke-width="0.6"/>
<path d="M860.12,591.1 L859.87,590.68 L860.3,601.2 L860.56,601.62 Z" fill="#7f7f7f" stroke="#7f7f7f" stroke-width="0.6"/>
<path d="M859.87,590.68 L859.62,590.26 L860.06,600.78 L860.3,601.2 Z" fill="#808080" stroke="#808080" stroke-width="0.6"/>
<path d="M859.62,590.26 L859.39,589.83 L859.82,600.35 L860.06,600.78 Z" fill="#808080" stroke="#808080" stroke-width="0.6"/>
<path d="M859.39,589.83 L859.17,589.41 L859.6,599.93 L859.82,600.35 Z" fill="#818181" stroke="#818181" stroke-width="0.6"/>
<path d="M859.17,589.41 L858.96,588.98 L859.4,599.5 L859.6,599.93 Z" fill="#828282" stroke="#828282" stroke-width="0.6"/>
<path d="M858.96,588.98 L858.77,588.55 L859.2,599.07 L859.4,599.5 Z" fill="#828282" stroke="#828282" stroke-width="0.6"/>
<path d="M858.77,588.55 L858.59,588.12 L859.03,598.64 L859.2,599.07 Z" fill="#838383" stroke="#838383" stroke-width="0.6"/>
<path d="M858.59,588.12 L858.42,587.68 L858.86,598.2 L859.03,598.64 Z" fill="#838383" stroke="#838383" stroke-width="0.6"/>
<path d="M858.42,587.68 L858.27,587.24 L858.71,597.76 L858.86,598.2 Z" fill="#848484" stroke="#848484" stroke-width="0.6"/>
<path d="M858.27,587.24 L858.13,586.81 L858.57,597.33 L858.71,597.76 Z" fill="#848484" stroke="#848484" stroke-width="0.6"/>
<path d="M858.13,586.81 L858.01,586.37 L858.45,596.88 L858.57,597.33 Z" fill="#858585" stroke="#858585" stroke-width="0.6"/>
<path d="M858.01,586.37 L857.9,585.92 L858.34,596.44 L858.45,596.88 Z" fill="#868686" stroke="#868686" stroke-width="0.6"/>
<path d="M857.9,585.92 L857.8,585.48 L858.24,596 L858.34,596.44 Z" fill="#868686" stroke="#868686" stroke-width="0.6"/>
<path d="M857.8,585.48 L857.72,585.04 L858.16,595.55 L858.24,596 Z" fill="#878787" stroke="#878787" stroke-width="0.6"/>
<path d="M857.72,585.04 L857.65,584.59 L858.09,595.11 L858.16,595.55 Z" fill="#878787" stroke="#878787" stroke-width="0.6"/>
<path d="M857.65,584.59 L857.59,584.14 L858.03,594.66 L858.09,595.11 Z" fill="#888888" stroke="#888888" stroke-width="0.6"/>
<path d="M857.59,584.14 L857.55,583.7 L857.99,594.21 L858.03,594.66 Z" fill="#888888" stroke="#888888" stroke-width="0.6"/>
<path d="M857.55,583.7 L857.53,583.25 L857.96,593.77 L857.99,594.21 Z" fill="#898989" stroke="#898989" stroke-width="0.6"/>
<path d="M1015.76,514.97 L943.2,592.45 L943.64,602.97 L1016.2,525.49 Z" fill="#c8c8c8" stroke="#c8c8c8" stroke-width="0.6"/>
<path d="M1021.71,512.48 L1021.72,512.6 L1021.72,512.71 L1021.72,512.82 L1021.72,512.93 L1021.73,513.05 L1021.72,513.16 L1021.72,513.27 L1021.72,513.38 L1021.72,513.5 L1021.71,513.61 L1021.71,513.72 L1021.7,513.83 L1021.7,513.95 L1021.69,514.06 L1021.68,514.17 L1021.67,514.28 L1021.66,514.4 L1021.65,514.51 L1021.64,514.62 L1021.63,514.73 L1021.61,514.85 L1021.6,514.96 L1021.58,515.07 L1021.57,515.18 L1021.55,515.29 L1021.53,515.41 L1021.51,515.52 L1021.5,515.63 L1021.47,515.74 L1021.45,515.86 L1021.43,515.97 L1021.41,516.08 L1021.38,516.19 L1021.36,516.31 L1021.33,516.42 L1021.31,516.53 L1021.28,516.64 L1021.25,516.75 L1021.22,516.87 L1021.19,516.98 L1021.16,517.09 L1021.13,517.2 L1021.1,517.31 L1021.07,517.43 L1021.03,517.54 L1021,517.65 L1020.96,517.76 L1020.92,517.87 L1020.89,517.98 L1020.85,518.09 L1020.81,518.21 L1020.77,518.32 L1020.73,518.43 L1020.69,518.54 L1020.64,518.65 L1020.6,518.76 L1020.56,518.87 L1020.51,518.98 L1020.46,519.09 L1020.42,519.2 L1020.37,519.31 L1020.32,519.42 L1020.27,519.53 L1020.22,519.64 L1020.17,519.75 L1020.12,519.86 L1020.06,519.97 L1020.01,520.08 L1019.96,520.19 L1019.9,520.3 L1019.85,520.41 L1019.79,520.52 L1019.73,520.63 L1019.67,520.74 L1019.61,520.85 L1019.55,520.96 L1019.49,521.07 L1019.43,521.17 L1019.37,521.28 L1019.3,521.39 L1019.24,521.5 L1019.17,521.61 L1019.11,521.72 L1019.04,521.82 L1018.97,521.93 L1018.9,522.04 L1018.83,522.15 L1018.76,522.25 L1018.69,522.36 L1018.62,522.47 L1018.55,522.57 L1018.48,522.68 L1018.4,522.79 L1018.33,522.89 L1018.25,523 L1018.17,523.1 L1018.1,523.21 L1018.02,523.32 L1017.94,523.42 L1017.86,523.53 L1017.78,523.63 L1017.7,523.74 L1017.62,523.84 L1017.53,523.94 L1017.45,524.05 L1017.37,524.15 L1017.28,524.26 L1017.19,524.36 L1017.11,524.46 L1017.02,524.57 L1016.93,524.67 L1016.84,524.77 L1016.75,524.88 L1016.66,524.98 L1016.57,525.08 L1016.48,525.18 L1016.38,525.29 L1016.29,525.39 L1016.2,525.49 L943.54,603.07 L943.44,603.17 L943.35,603.27 L943.25,603.37 L943.15,603.47 L943.05,603.57 L942.95,603.67 L942.85,603.77 L942.75,603.87 L942.65,603.97 L942.54,604.07 L942.44,604.17 L942.34,604.27 L942.23,604.37 L942.13,604.47 L942.02,604.56 L941.91,604.66 L941.8,604.76 L941.7,604.86 L941.59,604.95 L941.48,605.05 L941.36,605.15 L941.25,605.24 L941.14,605.34 L941.03,605.43 L940.91,605.53 L940.8,605.62 L940.68,605.72 L940.57,605.81 L940.45,605.91 L940.33,606 L940.22,606.1 L940.1,606.19 L939.98,606.28 L939.86,606.38 L939.74,606.47 L939.62,606.56 L939.49,606.65 L939.37,606.74 L939.25,606.84 L939.12,606.93 L939,607.02 L938.87,607.11 L938.75,607.2 L938.62,607.29 L938.49,607.38 L938.36,607.47 L938.23,607.56 L938.1,607.65 L937.97,607.74 L937.84,607.82 L937.71,607.91 L937.58,608 L937.45,608.09 L937.31,608.17 L937.18,608.26 L937.04,608.35 L936.91,608.43 L936.77,608.52 L936.64,608.6 L936.5,608.69 L936.36,608.77 L936.22,608.86 L936.08,608.94 L935.94,609.03 L935.8,609.11 L935.66,609.19 L935.52,609.28 L935.38,609.36 L935.23,609.44 L935.09,609.52 L934.95,609.61 L934.8,609.69 L934.66,609.77 L934.51,609.85 L934.36,609.93 L934.22,610.01 L934.07,610.09 L933.92,610.17 L933.77,610.25 L933.62,610.32 L933.47,610.4 L933.32,610.48 L933.17,610.56 L933.02,610.63 L932.87,610.71 L932.72,610.79 L932.56,610.86 L932.41,610.94 L932.25,611.01 L932.1,611.09 L931.94,611.16 L931.79,611.24 L931.63,611.31 L931.47,611.39 L931.32,611.46 L931.16,611.53 L931,611.6 L930.84,611.68 L930.68,611.75 L930.52,611.82 L930.36,611.89 L930.2,611.96 L930.04,612.03 L929.87,612.1 L929.71,612.17 L929.55,612.24 L929.38,612.31 L929.22,612.37 L929.06,612.44 L928.89,612.51 L928.72,612.58 L928.56,612.64 L928.39,612.71 L928.22,612.77 L928.06,612.84 L927.89,612.9 L927.72,612.97 L927.55,613.03 L927.38,613.1 L927.21,613.16 L927.04,613.22 L926.87,613.28 L926.7,613.35 L926.53,613.41 L926.36,613.47 L926.18,613.53 L926.01,613.59 L925.84,613.65 L925.66,613.71 L925.49,613.77 L925.31,613.83 L925.14,613.89 L924.96,613.94 L924.79,614 L924.61,614.06 L924.43,614.12 L924.26,614.17 L924.08,614.23 L923.9,614.28 L923.72,614.34 L923.54,614.39 L923.37,614.45 L923.19,614.5 L923.01,614.55 L922.83,614.61 L922.65,614.66 L922.46,614.71 L922.28,614.76 L922.1,614.81 L921.92,614.86 L921.74,614.91 L921.55,614.96 L921.37,615.01 L921.19,615.06 L921,615.11 L920.82,615.16 L920.64,615.21 L920.45,615.25 L920.27,615.3 L920.08,615.35 L919.9,615.39 L919.71,615.44 L919.52,615.48 L919.34,615.53 L919.15,615.57 L918.96,615.61 L918.78,615.66 L918.59,615.7 L918.4,615.74 L918.21,615.78 L918.02,615.82 L917.83,615.86 L917.64,615.9 L917.45,615.94 L917.27,615.98 L917.08,616.02 L916.89,616.06 L916.69,616.1 L916.5,616.14 L916.31,616.17 L916.12,616.21 L915.93,616.25 L915.74,616.28 L915.55,616.32 L915.35,616.35 L915.16,616.39 L914.97,616.42 L914.78,616.45 L914.58,616.49 L914.39,616.52 L914.2,616.55 L914,616.58 L913.81,616.61 L913.62,616.64 L913.42,616.67 L913.23,616.7 L913.03,616.73 L912.84,616.76 L912.64,616.79 L912.45,616.82 L912.25,616.84 L912.06,616.87 L911.86,616.9 L911.67,616.92 L911.47,616.95 L911.27,616.97 L911.08,617 L910.88,617.02 L910.68,617.04 L910.49,617.07 L910.29,617.09 L910.09,617.11 L909.9,617.13 L909.7,617.15 L909.5,617.17 L909.31,617.19 L909.11,617.21 L908.91,617.23 L908.71,617.25 L908.52,617.27 L908.32,617.29 L908.12,617.3 L907.92,617.32 L907.72,617.34 L907.53,617.35 L907.33,617.37 L907.13,617.38 L906.93,617.4 L906.73,617.41 L906.53,617.42 L906.33,617.43 L906.14,617.45 L905.94,617.46 L905.74,617.47 L905.54,617.48 L905.34,617.49 L905.14,617.5 L904.94,617.51 L904.74,617.52 L904.54,617.53 L904.35,617.53 L904.15,617.54 L903.95,617.55 L903.75,617.56 L903.55,617.56 L903.35,617.57 L903.15,617.57 L902.95,617.58 L902.75,617.58 L902.55,617.58 L902.36,617.59 L902.16,617.59 L901.96,617.59 L901.76,617.59 L901.56,617.59 L901.36,617.59 L901.16,617.59 L900.96,617.59 L900.77,617.59 L900.57,617.59 L900.37,617.59 L900.17,617.59 L899.97,617.58 L899.77,617.58 L899.57,617.58 L899.38,617.57 L899.18,617.57 L898.98,617.56 L898.78,617.55 L898.58,617.55 L898.39,617.54 L898.19,617.53 L897.99,617.53 L897.79,617.52 L897.6,617.51 L897.4,617.5 L897.2,617.49 L897.01,617.48 L896.81,617.47 L896.61,617.46 L896.42,617.45 L896.22,617.43 L896.02,617.42 L895.83,617.41 L895.63,617.39 L895.43,617.38 L895.24,617.36 L895.04,617.35 L894.85,617.33 L894.65,617.32 L894.46,617.3 L894.26,617.28 L894.07,617.27 L893.87,617.25 L893.68,617.23 L893.48,617.21 L893.29,617.19 L893.1,617.17 L892.9,617.15 L892.71,617.13 L892.52,617.11 L892.32,617.08 L892.13,617.06 L891.94,617.04 L891.75,617.02 L891.55,616.99 L891.36,616.97 L891.17,616.94 L890.98,616.92 L890.79,616.89 L890.6,616.87 L890.41,616.84 L890.22,616.81 L890.02,616.78 L889.84,616.76 L889.65,616.73 L889.46,616.7 L889.27,616.67 L889.08,616.64 L888.89,616.61 L888.7,616.58 L888.51,616.54 L888.33,616.51 L888.14,616.48 L887.95,616.45 L887.76,616.41 L887.58,616.38 L887.39,616.35 L887.21,616.31 L887.02,616.28 L886.83,616.24 L886.65,616.2 L886.46,616.17 L886.28,616.13 L886.1,616.09 L885.91,616.05 L885.73,616.02 L885.55,615.98 L885.36,615.94 L885.18,615.9 L885,615.86 L884.82,615.82 L884.64,615.77 L884.46,615.73 L884.27,615.69 L884.09,615.65 L883.91,615.61 L883.74,615.56 L883.56,615.52 L883.38,615.47 L883.2,615.43 L883.02,615.38 L882.84,615.34 L882.67,615.29 L882.49,615.24 L882.31,615.2 L882.14,615.15 L881.96,615.1 L881.79,615.05 L881.61,615 L881.44,614.95 L881.26,614.9 L881.09,614.85 L880.92,614.8 L880.75,614.75 L880.57,614.7 L880.4,614.65 L880.23,614.6 L880.06,614.54 L879.89,614.49 L879.72,614.44 L879.55,614.38 L879.38,614.33 L879.21,614.27 L879.04,614.22 L878.88,614.16 L878.71,614.11 L878.54,614.05 L878.38,613.99 L878.21,613.93 L878.05,613.88 L877.88,613.82 L877.72,613.76 L877.55,613.7 L877.39,613.64 L877.23,613.58 L877.07,613.52 L876.9,613.46 L876.74,613.4 L876.58,613.34 L876.42,613.27 L876.26,613.21 L876.1,613.15 L875.94,613.08 L875.79,613.02 L875.63,612.96 L875.47,612.89 L875.31,612.83 L875.16,612.76 L875,612.7 L874.85,612.63 L874.69,612.56 L874.54,612.5 L874.39,612.43 L874.23,612.36 L874.08,612.29 L873.93,612.22 L873.78,612.16 L873.63,612.09 L873.48,612.02 L873.33,611.95 L873.18,611.88 L873.03,611.81 L872.88,611.73 L872.74,611.66 L872.59,611.59 L872.45,611.52 L872.3,611.45 L872.16,611.37 L872.01,611.3 L871.87,611.23 L871.73,611.15 L871.58,611.08 L871.44,611 L871.3,610.93 L871.16,610.85 L871.02,610.77 L870.88,610.7 L870.74,610.62 L870.6,610.54 L870.47,610.47 L870.33,610.39 L870.19,610.31 L870.06,610.23 L869.92,610.15 L869.79,610.07 L869.66,609.99 L869.52,609.91 L869.39,609.83 L869.26,609.75 L869.13,609.67 L869,609.59 L868.87,609.51 L868.74,609.43 L868.61,609.35 L868.49,609.26 L868.36,609.18 L868.23,609.1 L868.11,609.01 L867.98,608.93 L867.86,608.84 L867.73,608.76 L867.61,608.68 L867.49,608.59 L867.37,608.5 L867.25,608.42 L867.13,608.33 L867.01,608.25 L866.89,608.16 L866.77,608.07 L866.65,607.98 L866.54,607.9 L866.42,607.81 L866.31,607.72 L866.19,607.63 L866.08,607.54 L865.96,607.45 L865.85,607.36 L865.74,607.27 L865.63,607.18 L865.52,607.09 L865.41,607 L865.3,606.91 L865.19,606.82 L865.09,606.73 L864.98,606.64 L864.87,606.54 L864.77,606.45 L864.66,606.36 L864.56,606.27 L864.46,606.17 L864.36,606.08 L864.25,605.99 L864.15,605.89 L864.05,605.8 L863.95,605.7 L863.86,605.61 L863.76,605.51 L863.66,605.42 L863.57,605.32 L863.47,605.22 L863.38,605.13 L863.28,605.03 L863.19,604.94 L863.1,604.84 L863.01,604.74 L862.91,604.64 L862.82,604.55 L862.74,604.45 L862.65,604.35 L862.56,604.25 L862.47,604.15 L862.39,604.05 L862.3,603.95 L862.22,603.86 L862.13,603.76 L862.05,603.66 L861.97,603.56 L861.89,603.46 L861.81,603.36 L861.73,603.25 L861.65,603.15 L861.57,603.05 L861.49,602.95 L861.42,602.85 L861.34,602.75 L861.26,602.65 L861.19,602.54 L861.12,602.44 L861.04,602.34 L860.97,602.24 L860.9,602.13 L860.83,602.03 L860.76,601.93 L860.69,601.82 L860.63,601.72 L860.56,601.62 L860.49,601.51 L860.43,601.41 L860.36,601.3 L860.3,601.2 L860.24,601.09 L860.18,600.99 L860.12,600.88 L860.06,600.78 L860,600.67 L859.94,600.57 L859.88,600.46 L859.82,600.35 L859.77,600.25 L859.71,600.14 L859.66,600.03 L859.6,599.93 L859.55,599.82 L859.5,599.71 L859.45,599.61 L859.4,599.5 L859.35,599.39 L859.3,599.28 L859.25,599.18 L859.2,599.07 L859.16,598.96 L859.11,598.85 L859.07,598.74 L859.03,598.64 L858.98,598.53 L858.94,598.42 L858.9,598.31 L858.86,598.2 L858.82,598.09 L858.78,597.98 L858.75,597.87 L858.71,597.76 L858.67,597.65 L858.64,597.54 L858.6,597.44 L858.57,597.33 L858.54,597.22 L858.51,597.11 L858.48,597 L858.45,596.88 L858.42,596.77 L858.39,596.66 L858.36,596.55 L858.34,596.44 L858.31,596.33 L858.29,596.22 L858.26,596.11 L858.24,596 L858.22,595.89 L858.19,595.78 L858.17,595.67 L858.16,595.55 L858.14,595.44 L858.12,595.33 L858.1,595.22 L858.09,595.11 L858.07,595 L858.06,594.89 L858.04,594.77 L858.03,594.66 L858.02,594.55 L858.01,594.44 L858,594.33 L857.99,594.21 L857.98,594.1 L857.97,593.99 L857.97,593.88 L857.96,593.77" fill="none" stroke="#000" stroke-width="1.5" stroke-linejoin="round"/>
<line x1="1021.28" y1="501.92" x2="1021.71" y2="512.44" stroke="#000" stroke-width="1.2"/>
<line x1="857.52" y1="583.18" x2="857.96" y2="593.7" stroke="#000" stroke-width="1.2"/>
<line x1="1015.76" y1="514.97" x2="1016.2" y2="525.49" stroke="#111" stroke-width="1.1"/>
<line x1="943.2" y1="592.45" x2="943.64" y2="602.97" stroke="#111" stroke-width="1.1"/>
<line x1="881.35" y1="604.53" x2="881.79" y2="615.05" stroke="#111" stroke-width="1.1"/>
<path d="M935.6,492.65 L935.79,492.45 L935.99,492.25 L936.18,492.05 L936.38,491.85 L936.59,491.65 L936.79,491.45 L937,491.25 L937.22,491.06 L937.43,490.86 L937.65,490.67 L937.87,490.47 L938.09,490.28 L938.32,490.09 L938.55,489.9 L938.78,489.71 L939.02,489.52 L939.26,489.34 L939.5,489.15 L939.74,488.97 L939.99,488.78 L940.24,488.6 L940.49,488.42 L940.74,488.24 L941,488.06 L941.26,487.88 L941.52,487.71 L941.79,487.53 L942.06,487.36 L942.33,487.19 L942.6,487.01 L942.87,486.84 L943.15,486.68 L943.43,486.51 L943.72,486.34 L944,486.18 L944.29,486.01 L944.58,485.85 L944.87,485.69 L945.17,485.53 L945.46,485.37 L945.76,485.22 L946.06,485.06 L946.37,484.91 L946.67,484.76 L946.98,484.6 L947.29,484.46 L947.6,484.31 L947.92,484.16 L948.24,484.02 L948.55,483.87 L948.88,483.73 L949.2,483.59 L949.52,483.45 L949.85,483.31 L950.18,483.18 L950.51,483.04 L950.84,482.91 L951.18,482.78 L951.52,482.65 L951.85,482.52 L952.19,482.4 L952.54,482.27 L952.88,482.15 L953.23,482.03 L953.57,481.91 L953.92,481.79 L954.27,481.67 L954.62,481.56 L954.98,481.45 L955.33,481.34 L955.69,481.23 L956.05,481.12 L956.41,481.01 L956.77,480.91 L957.13,480.81 L957.5,480.71 L957.86,480.61 L958.23,480.51 L958.6,480.41 L958.97,480.32 L959.34,480.23 L959.71,480.14 L960.09,480.05 L960.46,479.96 L960.84,479.88 L961.21,479.8 L961.59,479.71 L961.97,479.64 L962.35,479.56 L962.73,479.48 L963.11,479.41 L963.5,479.34 L963.88,479.27 L964.27,479.2 L964.65,479.13 L965.04,479.07 L965.43,479.01 L965.81,478.95 L966.2,478.89 L966.59,478.83 L966.98,478.78 L967.37,478.72 L967.77,478.67 L968.16,478.62 L968.55,478.58 L968.94,478.53 L969.34,478.49 L969.73,478.45 L970.13,478.41 L970.52,478.37 L970.92,478.33 L971.31,478.3 L971.71,478.27 L972.11,478.24 L972.5,478.21 L972.9,478.18 L973.3,478.16 L973.7,478.14 L974.09,478.12 L974.49,478.1 L974.89,478.08 L975.29,478.07 L975.69,478.06 L976.08,478.05 L976.48,478.04 L976.88,478.03 L977.28,478.03 L977.68,478.03 L978.07,478.03 L978.47,478.03 L978.87,478.03 L979.26,478.04 L979.66,478.04 L980.06,478.05 L980.45,478.06 L980.85,478.08 L981.24,478.09 L981.64,478.11 L982.03,478.13 L982.43,478.15 L982.82,478.17 L983.21,478.2 L983.61,478.23 L984,478.26 L984.39,478.29 L984.78,478.32 L985.17,478.35 L985.56,478.39 L985.95,478.43 L986.33,478.47 L986.72,478.51 L987.11,478.56 L987.49,478.6 L987.87,478.65 L988.26,478.7 L988.64,478.75 L989.02,478.81 L989.4,478.86 L989.78,478.92 L990.16,478.98 L990.53,479.04 L990.91,479.11 L991.28,479.17 L991.66,479.24 L992.03,479.31 L992.4,479.38 L992.77,479.45 L993.14,479.53 L993.51,479.6 L993.87,479.68 L994.24,479.76 L994.6,479.84 L994.96,479.93 L995.32,480.01 L995.68,480.1 L996.04,480.19 L996.39,480.28 L996.75,480.37 L997.1,480.47 L997.45,480.57 L997.8,480.66 L998.14,480.76 L998.49,480.87 L998.83,480.97 L999.18,481.07 L999.52,481.18 L999.85,481.29 L1000.19,481.4 L1000.53,481.51 L1000.86,481.63 L1001.19,481.74 L1001.52,481.86 L1001.85,481.98 L1002.17,482.1 L1002.49,482.22 L1002.81,482.35 L1003.13,482.47 L1003.45,482.6 L1003.76,482.73 L1004.08,482.86 L1004.39,482.99 L1004.7,483.12 L1005,483.26 L1005.31,483.39 L1005.61,483.53 L1005.91,483.67 L1006.2,483.81 L1006.5,483.96 L1006.79,484.1 L1007.08,484.25 L1007.37,484.39 L1007.65,484.54 L1007.93,484.69 L1008.22,484.84 L1008.49,485 L1008.77,485.15 L1009.04,485.31 L1009.31,485.47 L1009.58,485.62 L1009.84,485.78 L1010.11,485.95 L1010.37,486.11 L1010.62,486.27 L1010.88,486.44 L1011.13,486.61 L1011.38,486.77 L1011.62,486.94 L1011.87,487.11 L1012.11,487.29 L1012.35,487.46 L1012.58,487.63 L1012.81,487.81 L1013.04,487.99 L1013.27,488.17 L1013.5,488.35 L1013.72,488.53 L1013.93,488.71 L1014.15,488.89 L1014.36,489.07 L1014.57,489.26 L1014.78,489.45 L1014.98,489.63 L1015.18,489.82 L1015.38,490.01 L1015.57,490.2 L1015.77,490.39 L1015.95,490.59 L1016.14,490.78 L1016.32,490.98 L1016.5,491.17 L1016.68,491.37 L1016.85,491.56 L1017.02,491.76 L1017.19,491.96 L1017.35,492.16 L1017.51,492.36 L1017.67,492.57 L1017.82,492.77 L1017.97,492.97 L1018.12,493.18 L1018.26,493.38 L1018.4,493.59 L1018.54,493.8 L1018.68,494 L1018.81,494.21 L1018.93,494.42 L1019.06,494.63 L1019.18,494.84 L1019.3,495.05 L1019.41,495.27 L1019.52,495.48 L1019.63,495.69 L1019.74,495.91 L1019.84,496.12 L1019.94,496.33 L1020.03,496.55 L1020.12,496.77 L1020.21,496.98 L1020.29,497.2 L1020.38,497.42 L1020.45,497.64 L1020.53,497.86 L1020.6,498.07 L1020.67,498.29 L1020.73,498.51 L1020.79,498.73 L1020.85,498.95 L1020.9,499.18 L1020.95,499.4 L1021,499.62 L1021.04,499.84 L1021.08,500.06 L1021.12,500.29 L1021.15,500.51 L1021.18,500.73 L1021.21,500.96 L1021.23,501.18 L1021.25,501.4 L1021.26,501.63 L1021.27,501.85 L1021.28,502.08 L1021.29,502.3 L1021.29,502.53 L1021.29,502.75 L1021.28,502.98 L1021.27,503.2 L1021.26,503.43 L1021.25,503.65 L1021.23,503.88 L1021.2,504.1 L1021.18,504.33 L1021.15,504.55 L1021.12,504.78 L1021.08,505 L1021.04,505.23 L1021,505.45 L1020.95,505.67 L1020.9,505.9 L1020.85,506.12 L1020.79,506.35 L1020.73,506.57 L1020.66,506.79 L1020.6,507.02 L1020.53,507.24 L1020.45,507.46 L1020.37,507.69 L1020.29,507.91 L1020.21,508.13 L1020.12,508.35 L1020.03,508.57 L1019.93,508.79 L1019.84,509.02 L1019.73,509.24 L1019.63,509.46 L1019.52,509.67 L1019.41,509.89 L1019.3,510.11 L1019.18,510.33 L1019.06,510.55 L1018.93,510.76 L1018.8,510.98 L1018.67,511.2 L1018.54,511.41 L1018.4,511.63 L1018.26,511.84 L1018.11,512.05 L1017.97,512.27 L1017.82,512.48 L1017.66,512.69 L1017.5,512.9 L1017.34,513.11 L1017.18,513.32 L1017.01,513.53 L1016.84,513.74 L1016.67,513.95 L1016.5,514.15 L1016.32,514.36 L1016.13,514.56 L1015.95,514.77 L1015.76,514.97 L943.01,592.65 L942.81,592.85 L942.62,593.05 L942.42,593.25 L942.21,593.45 L942.01,593.65 L941.8,593.85 L941.58,594.04 L941.37,594.24 L941.15,594.43 L940.93,594.63 L940.71,594.82 L940.48,595.01 L940.25,595.2 L940.02,595.39 L939.78,595.58 L939.54,595.76 L939.3,595.95 L939.06,596.13 L938.81,596.32 L938.56,596.5 L938.31,596.68 L938.06,596.86 L937.8,597.04 L937.54,597.22 L937.28,597.39 L937.01,597.57 L936.74,597.74 L936.47,597.91 L936.2,598.09 L935.93,598.26 L935.65,598.42 L935.37,598.59 L935.08,598.76 L934.8,598.92 L934.51,599.09 L934.22,599.25 L933.93,599.41 L933.63,599.57 L933.34,599.73 L933.04,599.88 L932.74,600.04 L932.43,600.19 L932.13,600.34 L931.82,600.5 L931.51,600.64 L931.2,600.79 L930.88,600.94 L930.56,601.08 L930.25,601.23 L929.92,601.37 L929.6,601.51 L929.28,601.65 L928.95,601.79 L928.62,601.92 L928.29,602.06 L927.96,602.19 L927.62,602.32 L927.28,602.45 L926.95,602.58 L926.61,602.7 L926.26,602.83 L925.92,602.95 L925.57,603.07 L925.23,603.19 L924.88,603.31 L924.53,603.43 L924.18,603.54 L923.82,603.65 L923.47,603.76 L923.11,603.87 L922.75,603.98 L922.39,604.09 L922.03,604.19 L921.67,604.29 L921.3,604.39 L920.94,604.49 L920.57,604.59 L920.2,604.69 L919.83,604.78 L919.46,604.87 L919.09,604.96 L918.71,605.05 L918.34,605.14 L917.96,605.22 L917.59,605.3 L917.21,605.39 L916.83,605.46 L916.45,605.54 L916.07,605.62 L915.69,605.69 L915.3,605.76 L914.92,605.83 L914.53,605.9 L914.15,605.97 L913.76,606.03 L913.37,606.09 L912.99,606.15 L912.6,606.21 L912.21,606.27 L911.82,606.32 L911.43,606.38 L911.03,606.43 L910.64,606.48 L910.25,606.52 L909.86,606.57 L909.46,606.61 L909.07,606.65 L908.67,606.69 L908.28,606.73 L907.88,606.77 L907.49,606.8 L907.09,606.83 L906.69,606.86 L906.3,606.89 L905.9,606.92 L905.5,606.94 L905.1,606.96 L904.71,606.98 L904.31,607 L903.91,607.02 L903.51,607.03 L903.11,607.04 L902.72,607.05 L902.32,607.06 L901.92,607.07 L901.52,607.07 L901.12,607.07 L900.73,607.07 L900.33,607.07 L899.93,607.07 L899.54,607.06 L899.14,607.06 L898.74,607.05 L898.35,607.04 L897.95,607.02 L897.56,607.01 L897.16,606.99 L896.77,606.97 L896.37,606.95 L895.98,606.93 L895.59,606.9 L895.19,606.87 L894.8,606.84 L894.41,606.81 L894.02,606.78 L893.63,606.75 L893.24,606.71 L892.85,606.67 L892.47,606.63 L892.08,606.59 L891.69,606.54 L891.31,606.5 L890.93,606.45 L890.54,606.4 L890.16,606.35 L889.78,606.29 L889.4,606.24 L889.02,606.18 L888.64,606.12 L888.27,606.06 L887.89,605.99 L887.52,605.93 L887.14,605.86 L886.77,605.79 L886.4,605.72 L886.03,605.65 L885.66,605.57 L885.29,605.5 L884.93,605.42 L884.56,605.34 L884.2,605.26 L883.84,605.17 L883.48,605.09 L883.12,605 L882.76,604.91 L882.41,604.82 L882.05,604.73 L881.7,604.63 L881.35,604.53 L881,604.44 L880.66,604.34 L880.31,604.23 L879.97,604.13 L879.62,604.03 L879.28,603.92 L878.95,603.81 L878.61,603.7 L878.27,603.59 L877.94,603.47 L877.61,603.36 L877.28,603.24 L876.95,603.12 L876.63,603 L876.31,602.88 L875.99,602.75 L875.67,602.63 L875.35,602.5 L875.04,602.37 L874.72,602.24 L874.41,602.11 L874.1,601.98 L873.8,601.84 L873.49,601.71 L873.19,601.57 L872.89,601.43 L872.6,601.29 L872.3,601.14 L872.01,601 L871.72,600.85 L871.43,600.71 L871.15,600.56 L870.87,600.41 L870.58,600.26 L870.31,600.1 L870.03,599.95 L869.76,599.79 L869.49,599.63 L869.22,599.48 L868.96,599.32 L868.69,599.15 L868.43,598.99 L868.18,598.83 L867.92,598.66 L867.67,598.49 L867.42,598.33 L867.18,598.16 L866.93,597.99 L866.69,597.81 L866.45,597.64 L866.22,597.47 L865.99,597.29 L865.76,597.11 L865.53,596.93 L865.3,596.75 L865.08,596.57 L864.87,596.39 L864.65,596.21 L864.44,596.03 L864.23,595.84 L864.02,595.65 L863.82,595.47 L863.62,595.28 L863.42,595.09 L863.23,594.9 L863.03,594.71 L862.85,594.51 L862.66,594.32 L862.48,594.12 L862.3,593.93 L862.12,593.73 L861.95,593.54 L861.78,593.34 L861.61,593.14 L861.45,592.94 L861.29,592.74 L861.13,592.53 L860.98,592.33 L860.83,592.13 L860.68,591.92 L860.54,591.72 L860.4,591.51 L860.26,591.3 L860.12,591.1 L859.99,590.89 L859.87,590.68 L859.74,590.47 L859.62,590.26 L859.5,590.05 L859.39,589.83 L859.28,589.62 L859.17,589.41 L859.06,589.19 L858.96,588.98 L858.86,588.77 L858.77,588.55 L858.68,588.33 L858.59,588.12 L858.51,587.9 L858.42,587.68 L858.35,587.46 L858.27,587.24 L858.2,587.03 L858.13,586.81 L858.07,586.59 L858.01,586.37 L857.95,586.15 L857.9,585.92 L857.85,585.7 L857.8,585.48 L857.76,585.26 L857.72,585.04 L857.68,584.81 L857.65,584.59 L857.62,584.37 L857.59,584.14 L857.57,583.92 L857.55,583.7 L857.54,583.47 L857.53,583.25 L857.52,583.02 L857.51,582.8 L857.51,582.57 L857.51,582.35 L857.52,582.12 L857.53,581.9 L857.54,581.67 L857.55,581.45 L857.57,581.22 L857.6,581 L857.62,580.77 L857.65,580.55 L857.68,580.32 L857.72,580.1 L857.76,579.87 L857.8,579.65 L857.85,579.43 L857.9,579.2 L857.95,578.98 L858.01,578.75 L858.07,578.53 L858.14,578.31 L858.2,578.08 L858.27,577.86 L858.35,577.64 L858.43,577.41 L858.51,577.19 L858.59,576.97 L858.68,576.75 L858.77,576.53 L858.87,576.31 L858.96,576.08 L859.07,575.86 L859.17,575.64 L859.28,575.43 L859.39,575.21 L859.5,574.99 L859.62,574.77 L859.74,574.55 L859.87,574.34 L860,574.12 L860.13,573.9 L860.26,573.69 L860.4,573.47 L860.54,573.26 L860.69,573.05 L860.83,572.83 L860.98,572.62 L861.14,572.41 L861.3,572.2 L861.46,571.99 L861.62,571.78 L861.79,571.57 L861.96,571.36 L862.13,571.15 L862.3,570.95 L862.48,570.74 L862.67,570.54 L862.85,570.33 Z" fill="#5c5c5c" stroke="#000" stroke-width="1.5"/>
<path d="M906.39,577.8 L906.95,577.97 L907.5,578.16 L908.04,578.36 L908.55,578.58 L909.03,578.82 L909.5,579.06 L909.94,579.33 L910.35,579.6 L910.74,579.89 L911.09,580.19 L911.42,580.51 L911.72,580.83 L911.99,581.16 L912.22,581.5 L912.43,581.85 L912.6,582.2 L912.73,582.56 L912.83,582.92 L912.9,583.29 L912.94,583.66 L912.94,584.03 L912.9,584.4 L912.83,584.77 L912.73,585.14 L912.59,585.51 L912.42,585.87 L912.22,586.23 L911.99,586.58 L911.72,586.93 L911.42,587.26 L911.09,587.59 L910.73,587.92 L910.35,588.23 L909.94,588.53 L909.5,588.81 L909.03,589.09 L908.54,589.35 L908.03,589.6 L907.5,589.83 L906.95,590.05 L906.38,590.25 L905.8,590.44 L905.2,590.6 L904.58,590.75 L903.96,590.89 L903.33,591 L902.68,591.09 L902.03,591.17 L901.38,591.23 L900.73,591.27 L900.07,591.28 L899.41,591.28 L898.76,591.26 L898.11,591.22 L897.47,591.16 L896.84,591.09 L896.21,590.99 L895.6,590.87 L895,590.74 L894.41,590.59 L893.84,590.42 L893.29,590.23 L892.76,590.03 L892.25,589.81 L891.76,589.58 L891.3,589.33 L890.86,589.06 L890.45,588.79 L890.06,588.5 L889.7,588.2 L889.38,587.88 L889.08,587.56 L888.81,587.23 L888.58,586.89 L888.37,586.55 L888.2,586.19 L888.07,585.83 L887.96,585.47 L887.89,585.1 L887.86,584.73 L887.86,584.36 L887.9,583.99 L887.96,583.62 L888.07,583.25 L888.2,582.89 L888.37,582.52 L888.58,582.16 L888.81,581.81 L889.08,581.47 L889.38,581.13 L889.71,580.8 L890.06,580.48 L890.45,580.16 L890.86,579.86 L891.3,579.58 L891.77,579.3 L892.25,579.04 L892.76,578.79 L893.3,578.56 L893.85,578.34 L894.42,578.14 L895,577.96 L895.6,577.79 L896.21,577.64 L896.84,577.51 L897.47,577.39 L898.11,577.3 L898.76,577.22 L899.42,577.16 L900.07,577.13 L900.73,577.11 L901.38,577.11 L902.04,577.13 L902.69,577.17 L903.33,577.23 L903.96,577.31 L904.59,577.4 L905.2,577.52 L905.8,577.65 Z" fill="url(#gHoleD)" stroke="#000" stroke-width="1.4"/>
<defs><clipPath id="shD0"><path d="M906.39,577.8 L906.95,577.97 L907.5,578.16 L908.04,578.36 L908.55,578.58 L909.03,578.82 L909.5,579.06 L909.94,579.33 L910.35,579.6 L910.74,579.89 L911.09,580.19 L911.42,580.51 L911.72,580.83 L911.99,581.16 L912.22,581.5 L912.43,581.85 L912.6,582.2 L912.73,582.56 L912.83,582.92 L912.9,583.29 L912.94,583.66 L912.94,584.03 L912.9,584.4 L912.83,584.77 L912.73,585.14 L912.59,585.51 L912.42,585.87 L912.22,586.23 L911.99,586.58 L911.72,586.93 L911.42,587.26 L911.09,587.59 L910.73,587.92 L910.35,588.23 L909.94,588.53 L909.5,588.81 L909.03,589.09 L908.54,589.35 L908.03,589.6 L907.5,589.83 L906.95,590.05 L906.38,590.25 L905.8,590.44 L905.2,590.6 L904.58,590.75 L903.96,590.89 L903.33,591 L902.68,591.09 L902.03,591.17 L901.38,591.23 L900.73,591.27 L900.07,591.28 L899.41,591.28 L898.76,591.26 L898.11,591.22 L897.47,591.16 L896.84,591.09 L896.21,590.99 L895.6,590.87 L895,590.74 L894.41,590.59 L893.84,590.42 L893.29,590.23 L892.76,590.03 L892.25,589.81 L891.76,589.58 L891.3,589.33 L890.86,589.06 L890.45,588.79 L890.06,588.5 L889.7,588.2 L889.38,587.88 L889.08,587.56 L888.81,587.23 L888.58,586.89 L888.37,586.55 L888.2,586.19 L888.07,585.83 L887.96,585.47 L887.89,585.1 L887.86,584.73 L887.86,584.36 L887.9,583.99 L887.96,583.62 L888.07,583.25 L888.2,582.89 L888.37,582.52 L888.58,582.16 L888.81,581.81 L889.08,581.47 L889.38,581.13 L889.71,580.8 L890.06,580.48 L890.45,580.16 L890.86,579.86 L891.3,579.58 L891.77,579.3 L892.25,579.04 L892.76,578.79 L893.3,578.56 L893.85,578.34 L894.42,578.14 L895,577.96 L895.6,577.79 L896.21,577.64 L896.84,577.51 L897.47,577.39 L898.11,577.3 L898.76,577.22 L899.42,577.16 L900.07,577.13 L900.73,577.11 L901.38,577.11 L902.04,577.13 L902.69,577.17 L903.33,577.23 L903.96,577.31 L904.59,577.4 L905.2,577.52 L905.8,577.65 Z"/></clipPath></defs>
<path d="M906.89,590.05 L907.46,590.22 L908.01,590.41 L908.54,590.61 L909.05,590.83 L909.54,591.06 L910.01,591.31 L910.44,591.57 L910.86,591.85 L911.24,592.14 L911.6,592.44 L911.93,592.75 L912.23,593.07 L912.49,593.41 L912.73,593.74 L912.93,594.09 L913.1,594.45 L913.24,594.8 L913.34,595.17 L913.41,595.53 L913.44,595.9 L913.44,596.27 L913.41,596.65 L913.34,597.02 L913.24,597.39 L913.1,597.75 L912.93,598.11 L912.73,598.47 L912.49,598.83 L912.23,599.17 L911.93,599.51 L911.6,599.84 L911.24,600.16 L910.86,600.47 L910.44,600.77 L910,601.06 L909.54,601.34 L909.05,601.6 L908.54,601.85 L908.01,602.08 L907.46,602.3 L906.89,602.5 L906.3,602.68 L905.7,602.85 L905.09,603 L904.47,603.13 L903.83,603.25 L903.19,603.34 L902.54,603.42 L901.89,603.47 L901.23,603.51 L900.58,603.53 L899.92,603.53 L899.27,603.51 L898.62,603.47 L897.98,603.41 L897.34,603.33 L896.72,603.24 L896.1,603.12 L895.5,602.99 L894.92,602.83 L894.35,602.66 L893.8,602.48 L893.27,602.27 L892.76,602.06 L892.27,601.82 L891.81,601.57 L891.37,601.31 L890.95,601.03 L890.57,600.74 L890.21,600.44 L889.88,600.13 L889.58,599.81 L889.32,599.48 L889.08,599.14 L888.88,598.79 L888.71,598.44 L888.57,598.08 L888.47,597.72 L888.4,597.35 L888.37,596.98 L888.37,596.61 L888.4,596.24 L888.47,595.87 L888.57,595.5 L888.71,595.13 L888.88,594.77 L889.08,594.41 L889.32,594.06 L889.59,593.71 L889.88,593.37 L890.21,593.04 L890.57,592.72 L890.96,592.41 L891.37,592.11 L891.81,591.82 L892.27,591.55 L892.76,591.29 L893.27,591.04 L893.8,590.81 L894.35,590.59 L894.92,590.39 L895.51,590.2 L896.11,590.03 L896.72,589.88 L897.35,589.75 L897.98,589.64 L898.62,589.54 L899.27,589.47 L899.92,589.41 L900.58,589.37 L901.24,589.35 L901.89,589.35 L902.54,589.37 L903.19,589.41 L903.84,589.47 L904.47,589.55 L905.09,589.65 L905.71,589.76 L906.31,589.9 Z" fill="#c8c8c8" stroke="#222" stroke-width="0.9" clip-path="url(#shD0)"/>
<path d="M906.39,577.8 L906.95,577.97 L907.5,578.16 L908.04,578.36 L908.55,578.58 L909.03,578.82 L909.5,579.06 L909.94,579.33 L910.35,579.6 L910.74,579.89 L911.09,580.19 L911.42,580.51 L911.72,580.83 L911.99,581.16 L912.22,581.5 L912.43,581.85 L912.6,582.2 L912.73,582.56 L912.83,582.92 L912.9,583.29 L912.94,583.66 L912.94,584.03 L912.9,584.4 L912.83,584.77 L912.73,585.14 L912.59,585.51 L912.42,585.87 L912.22,586.23 L911.99,586.58 L911.72,586.93 L911.42,587.26 L911.09,587.59 L910.73,587.92 L910.35,588.23 L909.94,588.53 L909.5,588.81 L909.03,589.09 L908.54,589.35 L908.03,589.6 L907.5,589.83 L906.95,590.05 L906.38,590.25 L905.8,590.44 L905.2,590.6 L904.58,590.75 L903.96,590.89 L903.33,591 L902.68,591.09 L902.03,591.17 L901.38,591.23 L900.73,591.27 L900.07,591.28 L899.41,591.28 L898.76,591.26 L898.11,591.22 L897.47,591.16 L896.84,591.09 L896.21,590.99 L895.6,590.87 L895,590.74 L894.41,590.59 L893.84,590.42 L893.29,590.23 L892.76,590.03 L892.25,589.81 L891.76,589.58 L891.3,589.33 L890.86,589.06 L890.45,588.79 L890.06,588.5 L889.7,588.2 L889.38,587.88 L889.08,587.56 L888.81,587.23 L888.58,586.89 L888.37,586.55 L888.2,586.19 L888.07,585.83 L887.96,585.47 L887.89,585.1 L887.86,584.73 L887.86,584.36 L887.9,583.99 L887.96,583.62 L888.07,583.25 L888.2,582.89 L888.37,582.52 L888.58,582.16 L888.81,581.81 L889.08,581.47 L889.38,581.13 L889.71,580.8 L890.06,580.48 L890.45,580.16 L890.86,579.86 L891.3,579.58 L891.77,579.3 L892.25,579.04 L892.76,578.79 L893.3,578.56 L893.85,578.34 L894.42,578.14 L895,577.96 L895.6,577.79 L896.21,577.64 L896.84,577.51 L897.47,577.39 L898.11,577.3 L898.76,577.22 L899.42,577.16 L900.07,577.13 L900.73,577.11 L901.38,577.11 L902.04,577.13 L902.69,577.17 L903.33,577.23 L903.96,577.31 L904.59,577.4 L905.2,577.52 L905.8,577.65 Z" fill="none" stroke="#000" stroke-width="1.4"/>
<path d="M984.39,494.51 L984.96,494.68 L985.51,494.87 L986.04,495.07 L986.55,495.29 L987.04,495.52 L987.5,495.77 L987.94,496.04 L988.35,496.31 L988.74,496.6 L989.1,496.9 L989.42,497.22 L989.72,497.54 L989.99,497.87 L990.22,498.21 L990.43,498.55 L990.6,498.91 L990.73,499.27 L990.84,499.63 L990.91,500 L990.94,500.37 L990.94,500.74 L990.9,501.11 L990.84,501.48 L990.73,501.85 L990.6,502.21 L990.43,502.58 L990.22,502.94 L989.99,503.29 L989.72,503.63 L989.42,503.97 L989.09,504.3 L988.74,504.62 L988.35,504.94 L987.94,505.24 L987.5,505.52 L987.03,505.8 L986.55,506.06 L986.04,506.31 L985.5,506.54 L984.95,506.76 L984.38,506.96 L983.8,507.14 L983.2,507.31 L982.59,507.46 L981.96,507.59 L981.33,507.71 L980.69,507.8 L980.04,507.88 L979.38,507.94 L978.73,507.97 L978.07,507.99 L977.42,507.99 L976.76,507.97 L976.11,507.93 L975.47,507.87 L974.84,507.79 L974.21,507.7 L973.6,507.58 L973,507.45 L972.41,507.3 L971.85,507.13 L971.3,506.94 L970.76,506.74 L970.25,506.52 L969.77,506.28 L969.3,506.04 L968.86,505.77 L968.45,505.5 L968.06,505.21 L967.71,504.91 L967.38,504.59 L967.08,504.27 L966.81,503.94 L966.58,503.6 L966.37,503.25 L966.2,502.9 L966.07,502.54 L965.97,502.18 L965.9,501.81 L965.86,501.44 L965.86,501.07 L965.9,500.7 L965.97,500.33 L966.07,499.96 L966.21,499.59 L966.38,499.23 L966.58,498.87 L966.81,498.52 L967.08,498.17 L967.38,497.84 L967.71,497.51 L968.07,497.18 L968.45,496.87 L968.86,496.57 L969.3,496.29 L969.77,496.01 L970.26,495.75 L970.77,495.5 L971.3,495.27 L971.85,495.05 L972.42,494.85 L973,494.66 L973.6,494.5 L974.22,494.35 L974.84,494.21 L975.47,494.1 L976.12,494.01 L976.77,493.93 L977.42,493.87 L978.07,493.83 L978.73,493.82 L979.39,493.82 L980.04,493.84 L980.69,493.88 L981.33,493.94 L981.96,494.01 L982.59,494.11 L983.2,494.23 L983.8,494.36 Z" fill="url(#gHoleD)" stroke="#000" stroke-width="1.4"/>
<defs><clipPath id="shD1"><path d="M984.39,494.51 L984.96,494.68 L985.51,494.87 L986.04,495.07 L986.55,495.29 L987.04,495.52 L987.5,495.77 L987.94,496.04 L988.35,496.31 L988.74,496.6 L989.1,496.9 L989.42,497.22 L989.72,497.54 L989.99,497.87 L990.22,498.21 L990.43,498.55 L990.6,498.91 L990.73,499.27 L990.84,499.63 L990.91,500 L990.94,500.37 L990.94,500.74 L990.9,501.11 L990.84,501.48 L990.73,501.85 L990.6,502.21 L990.43,502.58 L990.22,502.94 L989.99,503.29 L989.72,503.63 L989.42,503.97 L989.09,504.3 L988.74,504.62 L988.35,504.94 L987.94,505.24 L987.5,505.52 L987.03,505.8 L986.55,506.06 L986.04,506.31 L985.5,506.54 L984.95,506.76 L984.38,506.96 L983.8,507.14 L983.2,507.31 L982.59,507.46 L981.96,507.59 L981.33,507.71 L980.69,507.8 L980.04,507.88 L979.38,507.94 L978.73,507.97 L978.07,507.99 L977.42,507.99 L976.76,507.97 L976.11,507.93 L975.47,507.87 L974.84,507.79 L974.21,507.7 L973.6,507.58 L973,507.45 L972.41,507.3 L971.85,507.13 L971.3,506.94 L970.76,506.74 L970.25,506.52 L969.77,506.28 L969.3,506.04 L968.86,505.77 L968.45,505.5 L968.06,505.21 L967.71,504.91 L967.38,504.59 L967.08,504.27 L966.81,503.94 L966.58,503.6 L966.37,503.25 L966.2,502.9 L966.07,502.54 L965.97,502.18 L965.9,501.81 L965.86,501.44 L965.86,501.07 L965.9,500.7 L965.97,500.33 L966.07,499.96 L966.21,499.59 L966.38,499.23 L966.58,498.87 L966.81,498.52 L967.08,498.17 L967.38,497.84 L967.71,497.51 L968.07,497.18 L968.45,496.87 L968.86,496.57 L969.3,496.29 L969.77,496.01 L970.26,495.75 L970.77,495.5 L971.3,495.27 L971.85,495.05 L972.42,494.85 L973,494.66 L973.6,494.5 L974.22,494.35 L974.84,494.21 L975.47,494.1 L976.12,494.01 L976.77,493.93 L977.42,493.87 L978.07,493.83 L978.73,493.82 L979.39,493.82 L980.04,493.84 L980.69,493.88 L981.33,493.94 L981.96,494.01 L982.59,494.11 L983.2,494.23 L983.8,494.36 Z"/></clipPath></defs>
<path d="M984.89,506.76 L985.46,506.93 L986.01,507.11 L986.54,507.32 L987.05,507.54 L987.54,507.77 L988.01,508.02 L988.45,508.28 L988.86,508.56 L989.25,508.85 L989.6,509.15 L989.93,509.46 L990.23,509.78 L990.5,510.11 L990.73,510.45 L990.93,510.8 L991.1,511.15 L991.24,511.51 L991.34,511.88 L991.41,512.24 L991.45,512.61 L991.45,512.98 L991.41,513.35 L991.34,513.72 L991.24,514.09 L991.1,514.46 L990.93,514.82 L990.73,515.18 L990.5,515.53 L990.23,515.88 L989.93,516.22 L989.6,516.55 L989.24,516.87 L988.86,517.18 L988.44,517.48 L988.01,517.77 L987.54,518.04 L987.05,518.31 L986.54,518.55 L986.01,518.79 L985.46,519 L984.89,519.21 L984.31,519.39 L983.71,519.56 L983.09,519.71 L982.47,519.84 L981.83,519.95 L981.19,520.05 L980.54,520.13 L979.89,520.18 L979.23,520.22 L978.58,520.24 L977.92,520.24 L977.27,520.22 L976.62,520.18 L975.98,520.12 L975.34,520.04 L974.72,519.94 L974.11,519.83 L973.51,519.69 L972.92,519.54 L972.35,519.37 L971.8,519.19 L971.27,518.98 L970.76,518.76 L970.27,518.53 L969.81,518.28 L969.37,518.02 L968.96,517.74 L968.57,517.45 L968.21,517.15 L967.88,516.84 L967.59,516.52 L967.32,516.19 L967.08,515.85 L966.88,515.5 L966.71,515.15 L966.58,514.79 L966.47,514.42 L966.4,514.06 L966.37,513.69 L966.37,513.32 L966.4,512.95 L966.47,512.58 L966.58,512.21 L966.71,511.84 L966.88,511.48 L967.09,511.12 L967.32,510.77 L967.59,510.42 L967.89,510.08 L968.21,509.75 L968.57,509.43 L968.96,509.12 L969.37,508.82 L969.81,508.53 L970.28,508.26 L970.76,507.99 L971.27,507.75 L971.81,507.51 L972.36,507.3 L972.92,507.1 L973.51,506.91 L974.11,506.74 L974.72,506.59 L975.35,506.46 L975.98,506.35 L976.62,506.25 L977.27,506.18 L977.93,506.12 L978.58,506.08 L979.24,506.06 L979.89,506.06 L980.55,506.08 L981.2,506.12 L981.84,506.18 L982.47,506.26 L983.1,506.36 L983.71,506.47 L984.31,506.61 Z" fill="#c8c8c8" stroke="#222" stroke-width="0.9" clip-path="url(#shD1)"/>
<path d="M984.39,494.51 L984.96,494.68 L985.51,494.87 L986.04,495.07 L986.55,495.29 L987.04,495.52 L987.5,495.77 L987.94,496.04 L988.35,496.31 L988.74,496.6 L989.1,496.9 L989.42,497.22 L989.72,497.54 L989.99,497.87 L990.22,498.21 L990.43,498.55 L990.6,498.91 L990.73,499.27 L990.84,499.63 L990.91,500 L990.94,500.37 L990.94,500.74 L990.9,501.11 L990.84,501.48 L990.73,501.85 L990.6,502.21 L990.43,502.58 L990.22,502.94 L989.99,503.29 L989.72,503.63 L989.42,503.97 L989.09,504.3 L988.74,504.62 L988.35,504.94 L987.94,505.24 L987.5,505.52 L987.03,505.8 L986.55,506.06 L986.04,506.31 L985.5,506.54 L984.95,506.76 L984.38,506.96 L983.8,507.14 L983.2,507.31 L982.59,507.46 L981.96,507.59 L981.33,507.71 L980.69,507.8 L980.04,507.88 L979.38,507.94 L978.73,507.97 L978.07,507.99 L977.42,507.99 L976.76,507.97 L976.11,507.93 L975.47,507.87 L974.84,507.79 L974.21,507.7 L973.6,507.58 L973,507.45 L972.41,507.3 L971.85,507.13 L971.3,506.94 L970.76,506.74 L970.25,506.52 L969.77,506.28 L969.3,506.04 L968.86,505.77 L968.45,505.5 L968.06,505.21 L967.71,504.91 L967.38,504.59 L967.08,504.27 L966.81,503.94 L966.58,503.6 L966.37,503.25 L966.2,502.9 L966.07,502.54 L965.97,502.18 L965.9,501.81 L965.86,501.44 L965.86,501.07 L965.9,500.7 L965.97,500.33 L966.07,499.96 L966.21,499.59 L966.38,499.23 L966.58,498.87 L966.81,498.52 L967.08,498.17 L967.38,497.84 L967.71,497.51 L968.07,497.18 L968.45,496.87 L968.86,496.57 L969.3,496.29 L969.77,496.01 L970.26,495.75 L970.77,495.5 L971.3,495.27 L971.85,495.05 L972.42,494.85 L973,494.66 L973.6,494.5 L974.22,494.35 L974.84,494.21 L975.47,494.1 L976.12,494.01 L976.77,493.93 L977.42,493.87 L978.07,493.83 L978.73,493.82 L979.39,493.82 L980.04,493.84 L980.69,493.88 L981.33,493.94 L981.96,494.01 L982.59,494.11 L983.2,494.23 L983.8,494.36 Z" fill="none" stroke="#000" stroke-width="1.4"/>
<path d="M952.37,528.7 L953.6,529.07 L954.8,529.47 L955.95,529.91 L957.05,530.39 L958.11,530.89 L959.11,531.43 L960.07,532 L960.96,532.6 L961.8,533.23 L962.57,533.88 L963.28,534.56 L963.93,535.25 L964.51,535.97 L965.02,536.71 L965.46,537.46 L965.83,538.22 L966.12,539 L966.34,539.79 L966.49,540.58 L966.57,541.38 L966.57,542.19 L966.49,542.99 L966.34,543.79 L966.12,544.59 L965.82,545.39 L965.46,546.17 L965.02,546.95 L964.51,547.72 L963.93,548.47 L963.28,549.2 L962.57,549.92 L961.79,550.61 L960.96,551.28 L960.06,551.93 L959.11,552.56 L958.1,553.15 L957.05,553.72 L955.94,554.26 L954.79,554.76 L953.6,555.23 L952.36,555.67 L951.1,556.07 L949.8,556.43 L948.47,556.76 L947.12,557.05 L945.74,557.29 L944.35,557.5 L942.94,557.66 L941.53,557.79 L940.11,557.87 L938.69,557.91 L937.26,557.91 L935.85,557.86 L934.44,557.78 L933.05,557.65 L931.68,557.48 L930.33,557.27 L929,557.02 L927.7,556.73 L926.43,556.4 L925.2,556.03 L924,555.63 L922.85,555.19 L921.75,554.71 L920.69,554.21 L919.69,553.67 L918.73,553.1 L917.84,552.5 L917,551.87 L916.23,551.22 L915.52,550.54 L914.87,549.85 L914.29,549.13 L913.78,548.39 L913.34,547.64 L912.97,546.88 L912.68,546.1 L912.46,545.31 L912.31,544.52 L912.23,543.72 L912.23,542.91 L912.31,542.11 L912.46,541.31 L912.68,540.51 L912.98,539.71 L913.34,538.93 L913.78,538.15 L914.29,537.38 L914.87,536.63 L915.52,535.9 L916.23,535.18 L917.01,534.49 L917.84,533.82 L918.74,533.17 L919.69,532.54 L920.7,531.95 L921.75,531.38 L922.86,530.84 L924.01,530.34 L925.2,529.87 L926.44,529.43 L927.7,529.03 L929,528.67 L930.33,528.34 L931.68,528.05 L933.06,527.81 L934.45,527.6 L935.86,527.44 L937.27,527.31 L938.69,527.23 L940.11,527.19 L941.54,527.19 L942.95,527.24 L944.36,527.32 L945.75,527.45 L947.12,527.62 L948.47,527.83 L949.8,528.08 L951.1,528.37 Z" fill="none" stroke="#000" stroke-width="1.6"/>
<defs><clipPath id="rgD"><path d="M952.37,528.7 L953.6,529.07 L954.8,529.47 L955.95,529.91 L957.05,530.39 L958.11,530.89 L959.11,531.43 L960.07,532 L960.96,532.6 L961.8,533.23 L962.57,533.88 L963.28,534.56 L963.93,535.25 L964.51,535.97 L965.02,536.71 L965.46,537.46 L965.83,538.22 L966.12,539 L966.34,539.79 L966.49,540.58 L966.57,541.38 L966.57,542.19 L966.49,542.99 L966.34,543.79 L966.12,544.59 L965.82,545.39 L965.46,546.17 L965.02,546.95 L964.51,547.72 L963.93,548.47 L963.28,549.2 L962.57,549.92 L961.79,550.61 L960.96,551.28 L960.06,551.93 L959.11,552.56 L958.1,553.15 L957.05,553.72 L955.94,554.26 L954.79,554.76 L953.6,555.23 L952.36,555.67 L951.1,556.07 L949.8,556.43 L948.47,556.76 L947.12,557.05 L945.74,557.29 L944.35,557.5 L942.94,557.66 L941.53,557.79 L940.11,557.87 L938.69,557.91 L937.26,557.91 L935.85,557.86 L934.44,557.78 L933.05,557.65 L931.68,557.48 L930.33,557.27 L929,557.02 L927.7,556.73 L926.43,556.4 L925.2,556.03 L924,555.63 L922.85,555.19 L921.75,554.71 L920.69,554.21 L919.69,553.67 L918.73,553.1 L917.84,552.5 L917,551.87 L916.23,551.22 L915.52,550.54 L914.87,549.85 L914.29,549.13 L913.78,548.39 L913.34,547.64 L912.97,546.88 L912.68,546.1 L912.46,545.31 L912.31,544.52 L912.23,543.72 L912.23,542.91 L912.31,542.11 L912.46,541.31 L912.68,540.51 L912.98,539.71 L913.34,538.93 L913.78,538.15 L914.29,537.38 L914.87,536.63 L915.52,535.9 L916.23,535.18 L917.01,534.49 L917.84,533.82 L918.74,533.17 L919.69,532.54 L920.7,531.95 L921.75,531.38 L922.86,530.84 L924.01,530.34 L925.2,529.87 L926.44,529.43 L927.7,529.03 L929,528.67 L930.33,528.34 L931.68,528.05 L933.06,527.81 L934.45,527.6 L935.86,527.44 L937.27,527.31 L938.69,527.23 L940.11,527.19 L941.54,527.19 L942.95,527.24 L944.36,527.32 L945.75,527.45 L947.12,527.62 L948.47,527.83 L949.8,528.08 L951.1,528.37 Z"/></clipPath></defs>
<path d="M952.34,530.21 L953.56,530.57 L954.75,530.98 L955.89,531.41 L956.99,531.88 L958.04,532.39 L959.04,532.92 L959.98,533.49 L960.87,534.08 L961.7,534.71 L962.47,535.35 L963.18,536.03 L963.82,536.72 L964.39,537.43 L964.9,538.16 L965.33,538.91 L965.7,539.67 L965.99,540.44 L966.21,541.22 L966.36,542.01 L966.44,542.81 L966.43,543.6 L966.36,544.4 L966.21,545.2 L965.99,545.99 L965.7,546.78 L965.33,547.56 L964.9,548.33 L964.39,549.09 L963.81,549.84 L963.17,550.57 L962.47,551.28 L961.7,551.97 L960.87,552.64 L959.98,553.28 L959.03,553.9 L958.03,554.49 L956.98,555.06 L955.88,555.59 L954.74,556.09 L953.56,556.56 L952.33,556.99 L951.07,557.39 L949.78,557.75 L948.46,558.07 L947.12,558.36 L945.76,558.6 L944.37,558.81 L942.98,558.97 L941.57,559.09 L940.16,559.17 L938.75,559.21 L937.34,559.21 L935.93,559.17 L934.54,559.08 L933.16,558.96 L931.79,558.79 L930.45,558.58 L929.13,558.33 L927.84,558.04 L926.58,557.72 L925.36,557.35 L924.17,556.95 L923.03,556.51 L921.93,556.04 L920.88,555.54 L919.88,555 L918.94,554.44 L918.05,553.84 L917.22,553.22 L916.45,552.57 L915.74,551.9 L915.1,551.21 L914.53,550.5 L914.02,549.76 L913.58,549.02 L913.22,548.26 L912.92,547.49 L912.7,546.7 L912.56,545.92 L912.48,545.12 L912.48,544.32 L912.56,543.52 L912.7,542.73 L912.93,541.93 L913.22,541.14 L913.58,540.36 L914.02,539.59 L914.53,538.83 L915.1,538.09 L915.74,537.36 L916.45,536.65 L917.22,535.96 L918.05,535.29 L918.94,534.64 L919.89,534.03 L920.89,533.43 L921.94,532.87 L923.03,532.34 L924.18,531.84 L925.36,531.37 L926.58,530.94 L927.84,530.54 L929.13,530.18 L930.45,529.85 L931.8,529.57 L933.16,529.32 L934.54,529.12 L935.94,528.96 L937.34,528.83 L938.76,528.75 L940.17,528.71 L941.58,528.71 L942.98,528.76 L944.38,528.84 L945.76,528.97 L947.13,529.14 L948.47,529.35 L949.79,529.6 L951.08,529.88 Z" fill="none" stroke="#000" stroke-width="1.2" clip-path="url(#rgD)"/>
<path d="M946.9,536.18 L947.61,536.39 L948.29,536.62 L948.95,536.87 L949.59,537.14 L950.19,537.44 L950.77,537.75 L951.32,538.07 L951.83,538.42 L952.31,538.77 L952.75,539.15 L953.16,539.54 L953.53,539.94 L953.86,540.35 L954.16,540.77 L954.41,541.2 L954.62,541.64 L954.79,542.09 L954.92,542.54 L955,542.99 L955.04,543.45 L955.04,543.91 L955,544.37 L954.91,544.83 L954.79,545.29 L954.62,545.75 L954.41,546.2 L954.15,546.64 L953.86,547.08 L953.53,547.51 L953.16,547.93 L952.75,548.34 L952.31,548.74 L951.83,549.13 L951.31,549.5 L950.77,549.86 L950.19,550.2 L949.58,550.53 L948.95,550.83 L948.29,551.12 L947.61,551.39 L946.9,551.64 L946.17,551.87 L945.43,552.08 L944.67,552.27 L943.89,552.43 L943.1,552.57 L942.3,552.69 L941.5,552.79 L940.69,552.86 L939.87,552.9 L939.06,552.93 L938.24,552.93 L937.43,552.9 L936.62,552.85 L935.83,552.78 L935.04,552.68 L934.26,552.56 L933.5,552.42 L932.75,552.25 L932.03,552.06 L931.32,551.85 L930.64,551.62 L929.98,551.37 L929.34,551.1 L928.74,550.8 L928.16,550.49 L927.61,550.17 L927.1,549.82 L926.62,549.47 L926.18,549.09 L925.77,548.7 L925.4,548.3 L925.07,547.89 L924.77,547.47 L924.52,547.04 L924.31,546.6 L924.14,546.15 L924.01,545.7 L923.93,545.25 L923.89,544.79 L923.89,544.33 L923.93,543.87 L924.02,543.41 L924.14,542.95 L924.31,542.49 L924.52,542.04 L924.78,541.6 L925.07,541.16 L925.4,540.73 L925.77,540.31 L926.18,539.9 L926.62,539.5 L927.1,539.11 L927.62,538.74 L928.16,538.38 L928.74,538.04 L929.35,537.71 L929.98,537.41 L930.64,537.12 L931.32,536.85 L932.03,536.6 L932.76,536.37 L933.5,536.16 L934.26,535.97 L935.04,535.81 L935.83,535.67 L936.63,535.55 L937.43,535.45 L938.24,535.38 L939.06,535.34 L939.87,535.31 L940.69,535.31 L941.5,535.34 L942.31,535.39 L943.1,535.46 L943.89,535.56 L944.67,535.68 L945.43,535.82 L946.18,535.99 Z" fill="#6a6a6a" stroke="#000" stroke-width="1.4"/>
<defs><clipPath id="chD0"><path d="M946.9,536.18 L947.61,536.39 L948.29,536.62 L948.95,536.87 L949.59,537.14 L950.19,537.44 L950.77,537.75 L951.32,538.07 L951.83,538.42 L952.31,538.77 L952.75,539.15 L953.16,539.54 L953.53,539.94 L953.86,540.35 L954.16,540.77 L954.41,541.2 L954.62,541.64 L954.79,542.09 L954.92,542.54 L955,542.99 L955.04,543.45 L955.04,543.91 L955,544.37 L954.91,544.83 L954.79,545.29 L954.62,545.75 L954.41,546.2 L954.15,546.64 L953.86,547.08 L953.53,547.51 L953.16,547.93 L952.75,548.34 L952.31,548.74 L951.83,549.13 L951.31,549.5 L950.77,549.86 L950.19,550.2 L949.58,550.53 L948.95,550.83 L948.29,551.12 L947.61,551.39 L946.9,551.64 L946.17,551.87 L945.43,552.08 L944.67,552.27 L943.89,552.43 L943.1,552.57 L942.3,552.69 L941.5,552.79 L940.69,552.86 L939.87,552.9 L939.06,552.93 L938.24,552.93 L937.43,552.9 L936.62,552.85 L935.83,552.78 L935.04,552.68 L934.26,552.56 L933.5,552.42 L932.75,552.25 L932.03,552.06 L931.32,551.85 L930.64,551.62 L929.98,551.37 L929.34,551.1 L928.74,550.8 L928.16,550.49 L927.61,550.17 L927.1,549.82 L926.62,549.47 L926.18,549.09 L925.77,548.7 L925.4,548.3 L925.07,547.89 L924.77,547.47 L924.52,547.04 L924.31,546.6 L924.14,546.15 L924.01,545.7 L923.93,545.25 L923.89,544.79 L923.89,544.33 L923.93,543.87 L924.02,543.41 L924.14,542.95 L924.31,542.49 L924.52,542.04 L924.78,541.6 L925.07,541.16 L925.4,540.73 L925.77,540.31 L926.18,539.9 L926.62,539.5 L927.1,539.11 L927.62,538.74 L928.16,538.38 L928.74,538.04 L929.35,537.71 L929.98,537.41 L930.64,537.12 L931.32,536.85 L932.03,536.6 L932.76,536.37 L933.5,536.16 L934.26,535.97 L935.04,535.81 L935.83,535.67 L936.63,535.55 L937.43,535.45 L938.24,535.38 L939.06,535.34 L939.87,535.31 L940.69,535.31 L941.5,535.34 L942.31,535.39 L943.1,535.46 L943.89,535.56 L944.67,535.68 L945.43,535.82 L946.18,535.99 Z"/></clipPath></defs>
<path d="M947.01,538.69 L947.71,538.9 L948.4,539.13 L949.06,539.38 L949.69,539.66 L950.3,539.95 L950.87,540.26 L951.42,540.58 L951.93,540.93 L952.41,541.29 L952.86,541.66 L953.26,542.05 L953.64,542.45 L953.97,542.86 L954.26,543.28 L954.51,543.71 L954.72,544.15 L954.89,544.6 L955.02,545.05 L955.1,545.5 L955.15,545.96 L955.15,546.42 L955.1,546.89 L955.02,547.35 L954.89,547.8 L954.72,548.26 L954.51,548.71 L954.26,549.16 L953.97,549.59 L953.63,550.02 L953.26,550.44 L952.85,550.86 L952.41,551.25 L951.93,551.64 L951.42,552.01 L950.87,552.37 L950.29,552.71 L949.69,553.04 L949.05,553.35 L948.39,553.63 L947.71,553.91 L947,554.16 L946.28,554.38 L945.53,554.59 L944.77,554.78 L943.99,554.94 L943.21,555.09 L942.41,555.2 L941.6,555.3 L940.79,555.37 L939.98,555.42 L939.16,555.44 L938.34,555.44 L937.53,555.41 L936.73,555.36 L935.93,555.29 L935.14,555.19 L934.37,555.07 L933.6,554.93 L932.86,554.76 L932.13,554.57 L931.43,554.36 L930.74,554.13 L930.08,553.88 L929.45,553.61 L928.84,553.32 L928.26,553.01 L927.72,552.68 L927.2,552.34 L926.73,551.98 L926.28,551.6 L925.87,551.22 L925.5,550.82 L925.17,550.4 L924.88,549.98 L924.63,549.55 L924.42,549.11 L924.25,548.67 L924.12,548.22 L924.03,547.76 L923.99,547.3 L923.99,546.84 L924.03,546.38 L924.12,545.92 L924.25,545.46 L924.42,545 L924.63,544.55 L924.88,544.11 L925.17,543.67 L925.5,543.24 L925.88,542.82 L926.28,542.41 L926.73,542.01 L927.21,541.62 L927.72,541.25 L928.27,540.89 L928.84,540.55 L929.45,540.23 L930.08,539.92 L930.74,539.63 L931.43,539.36 L932.13,539.11 L932.86,538.88 L933.61,538.67 L934.37,538.48 L935.14,538.32 L935.93,538.18 L936.73,538.06 L937.54,537.97 L938.35,537.89 L939.16,537.85 L939.98,537.82 L940.79,537.83 L941.6,537.85 L942.41,537.9 L943.21,537.97 L944,538.07 L944.77,538.19 L945.53,538.34 L946.28,538.5 Z" fill="none" stroke="#b0b0b0" stroke-width="0.8" clip-path="url(#chD0)"/>
<defs><clipPath id="chD"><path d="M946.9,536.18 L947.61,536.39 L948.29,536.62 L948.95,536.87 L949.59,537.14 L950.19,537.44 L950.77,537.75 L951.32,538.07 L951.83,538.42 L952.31,538.77 L952.75,539.15 L953.16,539.54 L953.53,539.94 L953.86,540.35 L954.16,540.77 L954.41,541.2 L954.62,541.64 L954.79,542.09 L954.92,542.54 L955,542.99 L955.04,543.45 L955.04,543.91 L955,544.37 L954.91,544.83 L954.79,545.29 L954.62,545.75 L954.41,546.2 L954.15,546.64 L953.86,547.08 L953.53,547.51 L953.16,547.93 L952.75,548.34 L952.31,548.74 L951.83,549.13 L951.31,549.5 L950.77,549.86 L950.19,550.2 L949.58,550.53 L948.95,550.83 L948.29,551.12 L947.61,551.39 L946.9,551.64 L946.17,551.87 L945.43,552.08 L944.67,552.27 L943.89,552.43 L943.1,552.57 L942.3,552.69 L941.5,552.79 L940.69,552.86 L939.87,552.9 L939.06,552.93 L938.24,552.93 L937.43,552.9 L936.62,552.85 L935.83,552.78 L935.04,552.68 L934.26,552.56 L933.5,552.42 L932.75,552.25 L932.03,552.06 L931.32,551.85 L930.64,551.62 L929.98,551.37 L929.34,551.1 L928.74,550.8 L928.16,550.49 L927.61,550.17 L927.1,549.82 L926.62,549.47 L926.18,549.09 L925.77,548.7 L925.4,548.3 L925.07,547.89 L924.77,547.47 L924.52,547.04 L924.31,546.6 L924.14,546.15 L924.01,545.7 L923.93,545.25 L923.89,544.79 L923.89,544.33 L923.93,543.87 L924.02,543.41 L924.14,542.95 L924.31,542.49 L924.52,542.04 L924.78,541.6 L925.07,541.16 L925.4,540.73 L925.77,540.31 L926.18,539.9 L926.62,539.5 L927.1,539.11 L927.62,538.74 L928.16,538.38 L928.74,538.04 L929.35,537.71 L929.98,537.41 L930.64,537.12 L931.32,536.85 L932.03,536.6 L932.76,536.37 L933.5,536.16 L934.26,535.97 L935.04,535.81 L935.83,535.67 L936.63,535.55 L937.43,535.45 L938.24,535.38 L939.06,535.34 L939.87,535.31 L940.69,535.31 L941.5,535.34 L942.31,535.39 L943.1,535.46 L943.89,535.56 L944.67,535.68 L945.43,535.82 L946.18,535.99 Z"/></clipPath></defs>
<path d="M947.12,541.52 L947.83,541.73 L948.51,541.96 L949.17,542.21 L949.81,542.48 L950.41,542.77 L950.99,543.08 L951.54,543.41 L952.05,543.75 L952.53,544.11 L952.97,544.49 L953.38,544.87 L953.75,545.27 L954.08,545.69 L954.38,546.11 L954.63,546.54 L954.84,546.98 L955.01,547.42 L955.14,547.87 L955.22,548.33 L955.26,548.79 L955.26,549.25 L955.22,549.71 L955.14,550.17 L955.01,550.63 L954.84,551.09 L954.63,551.54 L954.37,551.98 L954.08,552.42 L953.75,552.85 L953.38,553.27 L952.97,553.68 L952.53,554.08 L952.05,554.47 L951.53,554.84 L950.99,555.2 L950.41,555.54 L949.81,555.86 L949.17,556.17 L948.51,556.46 L947.83,556.73 L947.12,556.98 L946.39,557.21 L945.65,557.42 L944.89,557.61 L944.11,557.77 L943.32,557.91 L942.52,558.03 L941.72,558.12 L940.91,558.2 L940.09,558.24 L939.28,558.27 L938.46,558.26 L937.65,558.24 L936.84,558.19 L936.05,558.12 L935.26,558.02 L934.48,557.9 L933.72,557.75 L932.98,557.59 L932.25,557.4 L931.54,557.19 L930.86,556.96 L930.2,556.71 L929.56,556.43 L928.96,556.14 L928.38,555.83 L927.84,555.51 L927.32,555.16 L926.84,554.8 L926.4,554.43 L925.99,554.04 L925.62,553.64 L925.29,553.23 L925,552.81 L924.74,552.38 L924.53,551.94 L924.36,551.49 L924.24,551.04 L924.15,550.59 L924.11,550.13 L924.11,549.67 L924.15,549.2 L924.24,548.74 L924.36,548.29 L924.53,547.83 L924.74,547.38 L925,546.93 L925.29,546.5 L925.62,546.07 L925.99,545.64 L926.4,545.23 L926.84,544.84 L927.32,544.45 L927.84,544.08 L928.38,543.72 L928.96,543.38 L929.57,543.05 L930.2,542.74 L930.86,542.46 L931.55,542.18 L932.25,541.93 L932.98,541.71 L933.72,541.5 L934.49,541.31 L935.26,541.15 L936.05,541 L936.85,540.89 L937.65,540.79 L938.47,540.72 L939.28,540.67 L940.1,540.65 L940.91,540.65 L941.72,540.68 L942.53,540.73 L943.33,540.8 L944.11,540.9 L944.89,541.02 L945.65,541.16 L946.4,541.33 Z" fill="#fff" stroke="#000" stroke-width="1.1" clip-path="url(#chD)"/>
<path d="M946.9,536.18 L947.61,536.39 L948.29,536.62 L948.95,536.87 L949.59,537.14 L950.19,537.44 L950.77,537.75 L951.32,538.07 L951.83,538.42 L952.31,538.77 L952.75,539.15 L953.16,539.54 L953.53,539.94 L953.86,540.35 L954.16,540.77 L954.41,541.2 L954.62,541.64 L954.79,542.09 L954.92,542.54 L955,542.99 L955.04,543.45 L955.04,543.91 L955,544.37 L954.91,544.83 L954.79,545.29 L954.62,545.75 L954.41,546.2 L954.15,546.64 L953.86,547.08 L953.53,547.51 L953.16,547.93 L952.75,548.34 L952.31,548.74 L951.83,549.13 L951.31,549.5 L950.77,549.86 L950.19,550.2 L949.58,550.53 L948.95,550.83 L948.29,551.12 L947.61,551.39 L946.9,551.64 L946.17,551.87 L945.43,552.08 L944.67,552.27 L943.89,552.43 L943.1,552.57 L942.3,552.69 L941.5,552.79 L940.69,552.86 L939.87,552.9 L939.06,552.93 L938.24,552.93 L937.43,552.9 L936.62,552.85 L935.83,552.78 L935.04,552.68 L934.26,552.56 L933.5,552.42 L932.75,552.25 L932.03,552.06 L931.32,551.85 L930.64,551.62 L929.98,551.37 L929.34,551.1 L928.74,550.8 L928.16,550.49 L927.61,550.17 L927.1,549.82 L926.62,549.47 L926.18,549.09 L925.77,548.7 L925.4,548.3 L925.07,547.89 L924.77,547.47 L924.52,547.04 L924.31,546.6 L924.14,546.15 L924.01,545.7 L923.93,545.25 L923.89,544.79 L923.89,544.33 L923.93,543.87 L924.02,543.41 L924.14,542.95 L924.31,542.49 L924.52,542.04 L924.78,541.6 L925.07,541.16 L925.4,540.73 L925.77,540.31 L926.18,539.9 L926.62,539.5 L927.1,539.11 L927.62,538.74 L928.16,538.38 L928.74,538.04 L929.35,537.71 L929.98,537.41 L930.64,537.12 L931.32,536.85 L932.03,536.6 L932.76,536.37 L933.5,536.16 L934.26,535.97 L935.04,535.81 L935.83,535.67 L936.63,535.55 L937.43,535.45 L938.24,535.38 L939.06,535.34 L939.87,535.31 L940.69,535.31 L941.5,535.34 L942.31,535.39 L943.1,535.46 L943.89,535.56 L944.67,535.68 L945.43,535.82 L946.18,535.99 Z" fill="none" stroke="#000" stroke-width="1.4"/>
</g>
</svg></body></html>
